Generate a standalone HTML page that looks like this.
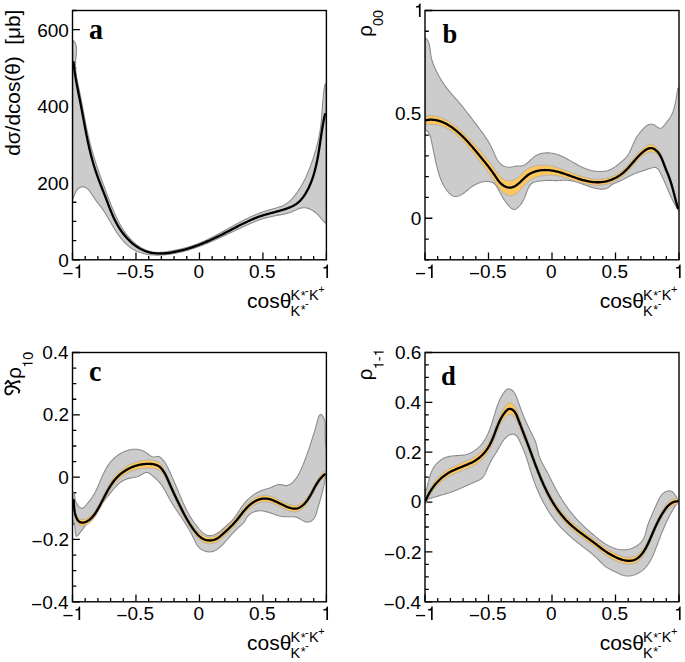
<!DOCTYPE html><html><head><meta charset="utf-8"><title>Spin density matrix elements</title><style>html,body{margin:0;padding:0;background:#fff;overflow:hidden}svg{display:block}text{font-family:"Liberation Sans", sans-serif;fill:#000}</style></head><body>
<svg width="685" height="662" viewBox="0 0 685 662">
<rect width="685" height="662" fill="#fff"/>
<path d="M72.50,259.8 V252.40 M85.19,259.8 V256.00 M97.89,259.8 V256.00 M110.59,259.8 V256.00 M123.28,259.8 V256.00 M135.97,259.8 V252.40 M148.67,259.8 V256.00 M161.37,259.8 V256.00 M174.06,259.8 V256.00 M186.75,259.8 V256.00 M199.45,259.8 V252.40 M212.15,259.8 V256.00 M224.84,259.8 V256.00 M237.53,259.8 V256.00 M250.23,259.8 V256.00 M262.92,259.8 V252.40 M275.62,259.8 V256.00 M288.31,259.8 V256.00 M301.01,259.8 V256.00 M313.70,259.8 V256.00 M326.40,259.8 V252.40 M72.5,259.80 H79.90 M72.5,240.62 H76.30 M72.5,221.45 H76.30 M72.5,202.27 H76.30 M72.5,183.09 H79.90 M72.5,163.92 H76.30 M72.5,144.74 H76.30 M72.5,125.56 H76.30 M72.5,106.38 H79.90 M72.5,87.21 H76.30 M72.5,68.03 H76.30 M72.5,48.85 H76.30 M72.5,29.68 H79.90 M72.5,10.50 H76.30" stroke="#000" stroke-width="1.3" fill="none"/>
<path d="M425.00,259.8 V252.40 M437.70,259.8 V256.00 M450.40,259.8 V256.00 M463.10,259.8 V256.00 M475.80,259.8 V256.00 M488.50,259.8 V252.40 M501.20,259.8 V256.00 M513.90,259.8 V256.00 M526.60,259.8 V256.00 M539.30,259.8 V256.00 M552.00,259.8 V252.40 M564.70,259.8 V256.00 M577.40,259.8 V256.00 M590.10,259.8 V256.00 M602.80,259.8 V256.00 M615.50,259.8 V252.40 M628.20,259.8 V256.00 M640.90,259.8 V256.00 M653.60,259.8 V256.00 M666.30,259.8 V256.00 M679.00,259.8 V252.40 M425.0,259.80 H428.80 M425.0,239.03 H428.80 M425.0,218.25 H432.40 M425.0,197.47 H428.80 M425.0,176.70 H428.80 M425.0,155.93 H428.80 M425.0,135.15 H428.80 M425.0,114.38 H432.40 M425.0,93.60 H428.80 M425.0,72.82 H428.80 M425.0,52.05 H428.80 M425.0,31.27 H428.80 M425.0,10.50 H432.40" stroke="#000" stroke-width="1.3" fill="none"/>
<path d="M72.50,601.8 V594.40 M85.19,601.8 V598.00 M97.89,601.8 V598.00 M110.59,601.8 V598.00 M123.28,601.8 V598.00 M135.97,601.8 V594.40 M148.67,601.8 V598.00 M161.37,601.8 V598.00 M174.06,601.8 V598.00 M186.75,601.8 V598.00 M199.45,601.8 V594.40 M212.15,601.8 V598.00 M224.84,601.8 V598.00 M237.53,601.8 V598.00 M250.23,601.8 V598.00 M262.92,601.8 V594.40 M275.62,601.8 V598.00 M288.31,601.8 V598.00 M301.01,601.8 V598.00 M313.70,601.8 V598.00 M326.40,601.8 V594.40 M72.5,601.80 H79.90 M72.5,586.22 H76.30 M72.5,570.64 H76.30 M72.5,555.06 H76.30 M72.5,539.47 H79.90 M72.5,523.89 H76.30 M72.5,508.31 H76.30 M72.5,492.73 H76.30 M72.5,477.15 H79.90 M72.5,461.57 H76.30 M72.5,445.99 H76.30 M72.5,430.41 H76.30 M72.5,414.82 H79.90 M72.5,399.24 H76.30 M72.5,383.66 H76.30 M72.5,368.08 H76.30 M72.5,352.50 H79.90" stroke="#000" stroke-width="1.3" fill="none"/>
<path d="M425.00,601.8 V594.40 M437.70,601.8 V598.00 M450.40,601.8 V598.00 M463.10,601.8 V598.00 M475.80,601.8 V598.00 M488.50,601.8 V594.40 M501.20,601.8 V598.00 M513.90,601.8 V598.00 M526.60,601.8 V598.00 M539.30,601.8 V598.00 M552.00,601.8 V594.40 M564.70,601.8 V598.00 M577.40,601.8 V598.00 M590.10,601.8 V598.00 M602.80,601.8 V598.00 M615.50,601.8 V594.40 M628.20,601.8 V598.00 M640.90,601.8 V598.00 M653.60,601.8 V598.00 M666.30,601.8 V598.00 M679.00,601.8 V594.40 M425.0,601.80 H432.40 M425.0,589.33 H428.80 M425.0,576.87 H428.80 M425.0,564.40 H428.80 M425.0,551.94 H432.40 M425.0,539.47 H428.80 M425.0,527.01 H428.80 M425.0,514.54 H428.80 M425.0,502.08 H432.40 M425.0,489.61 H428.80 M425.0,477.15 H428.80 M425.0,464.68 H428.80 M425.0,452.22 H432.40 M425.0,439.75 H428.80 M425.0,427.29 H428.80 M425.0,414.82 H428.80 M425.0,402.36 H432.40 M425.0,389.89 H428.80 M425.0,377.43 H428.80 M425.0,364.96 H428.80 M425.0,352.50 H432.40" stroke="#000" stroke-width="1.3" fill="none"/>
<clipPath id="cpa"><rect x="72.5" y="10.5" width="253.90" height="249.30"/></clipPath>
<g clip-path="url(#cpa)">
<path d="M72.80,40.27 L73.70,41.04 L74.45,41.89 L75.06,42.82 L75.55,43.83 L75.93,44.90 L76.21,46.03 L76.40,47.21 L76.51,48.44 L76.54,49.72 L76.52,51.03 L76.46,52.37 L76.35,53.73 L76.23,55.11 L76.08,56.51 L75.94,57.91 L75.80,59.31 L75.67,60.71 L75.58,62.10 L75.52,63.47 L75.50,64.82 L75.51,66.17 L75.55,67.49 L75.62,68.81 L75.71,70.12 L75.83,71.41 L75.98,72.70 L76.14,73.98 L76.33,75.24 L76.53,76.51 L76.74,77.76 L76.97,79.01 L77.21,80.26 L77.45,81.50 L77.71,82.74 L77.97,83.98 L78.23,85.21 L78.50,86.45 L78.76,87.68 L79.02,88.92 L79.28,90.16 L79.53,91.40 L79.78,92.64 L80.03,93.89 L80.28,95.13 L80.52,96.38 L80.76,97.63 L81.00,98.87 L81.24,100.12 L81.48,101.37 L81.72,102.63 L81.95,103.88 L82.19,105.13 L82.42,106.39 L82.65,107.64 L82.89,108.89 L83.12,110.15 L83.36,111.41 L83.59,112.66 L83.83,113.92 L84.06,115.18 L84.30,116.43 L84.54,117.69 L84.78,118.95 L85.02,120.20 L85.27,121.46 L85.51,122.71 L85.76,123.97 L86.01,125.23 L86.27,126.48 L86.53,127.73 L86.79,128.99 L87.05,130.24 L87.32,131.49 L87.59,132.74 L87.87,134.00 L88.15,135.24 L88.44,136.49 L88.73,137.74 L89.03,138.99 L89.33,140.23 L89.63,141.48 L89.95,142.72 L90.26,143.96 L90.59,145.20 L90.92,146.44 L91.25,147.67 L91.59,148.91 L91.94,150.14 L92.29,151.37 L92.64,152.60 L93.00,153.83 L93.36,155.06 L93.73,156.29 L94.11,157.51 L94.48,158.74 L94.87,159.96 L95.25,161.18 L95.64,162.40 L96.04,163.62 L96.43,164.84 L96.83,166.06 L97.24,167.27 L97.65,168.49 L98.06,169.70 L98.47,170.91 L98.89,172.12 L99.31,173.33 L99.73,174.54 L100.16,175.75 L100.59,176.95 L101.02,178.16 L101.45,179.36 L101.89,180.57 L102.33,181.77 L102.77,182.97 L103.21,184.17 L103.65,185.37 L104.10,186.56 L104.54,187.76 L104.99,188.96 L105.44,190.15 L105.89,191.34 L106.34,192.53 L106.79,193.73 L107.25,194.92 L107.70,196.11 L108.16,197.29 L108.61,198.48 L109.07,199.67 L109.52,200.85 L109.98,202.04 L110.44,203.22 L110.90,204.40 L111.37,205.58 L111.84,206.76 L112.31,207.94 L112.79,209.11 L113.28,210.29 L113.77,211.46 L114.27,212.63 L114.78,213.79 L115.30,214.95 L115.83,216.11 L116.37,217.27 L116.92,218.42 L117.48,219.57 L118.06,220.72 L118.65,221.86 L119.25,223.00 L119.87,224.14 L120.50,225.27 L121.15,226.39 L121.81,227.50 L122.49,228.60 L123.19,229.69 L123.90,230.78 L124.63,231.84 L125.38,232.90 L126.14,233.94 L126.93,234.96 L127.73,235.97 L128.55,236.96 L129.39,237.93 L130.25,238.88 L131.14,239.80 L132.04,240.71 L132.96,241.59 L133.90,242.45 L134.87,243.28 L135.86,244.08 L136.87,244.86 L137.90,245.60 L138.95,246.32 L140.03,247.00 L141.12,247.65 L142.24,248.27 L143.37,248.84 L144.52,249.38 L145.68,249.89 L146.86,250.35 L148.05,250.77 L149.25,251.14 L150.47,251.47 L151.70,251.76 L152.93,251.99 L154.18,252.18 L155.43,252.32 L156.69,252.41 L157.96,252.45 L159.23,252.45 L160.50,252.40 L161.78,252.33 L163.06,252.22 L164.35,252.08 L165.63,251.92 L166.92,251.73 L168.20,251.53 L169.48,251.31 L170.77,251.08 L172.05,250.84 L173.32,250.60 L174.59,250.35 L175.86,250.10 L177.13,249.83 L178.39,249.56 L179.65,249.29 L180.90,249.00 L182.15,248.70 L183.39,248.40 L184.63,248.08 L185.86,247.75 L187.09,247.41 L188.31,247.05 L189.53,246.68 L190.75,246.30 L191.95,245.91 L193.16,245.50 L194.35,245.07 L195.54,244.63 L196.73,244.19 L197.91,243.72 L199.09,243.25 L200.27,242.77 L201.44,242.27 L202.60,241.77 L203.76,241.25 L204.92,240.73 L206.08,240.19 L207.23,239.65 L208.38,239.10 L209.52,238.54 L210.67,237.98 L211.81,237.40 L212.95,236.83 L214.08,236.24 L215.22,235.65 L216.35,235.06 L217.48,234.46 L218.61,233.85 L219.73,233.25 L220.86,232.64 L221.99,232.02 L223.11,231.41 L224.23,230.79 L225.36,230.17 L226.48,229.55 L227.60,228.93 L228.73,228.31 L229.85,227.68 L230.97,227.06 L232.10,226.44 L233.22,225.83 L234.35,225.21 L235.47,224.60 L236.60,223.99 L237.73,223.38 L238.86,222.78 L240.00,222.18 L241.13,221.58 L242.27,220.99 L243.40,220.41 L244.55,219.83 L245.69,219.26 L246.84,218.70 L247.99,218.14 L249.14,217.59 L250.29,217.05 L251.45,216.51 L252.62,215.99 L253.78,215.48 L254.95,214.97 L256.13,214.48 L257.31,214.00 L258.49,213.52 L259.68,213.06 L260.87,212.62 L262.07,212.18 L263.27,211.76 L264.48,211.35 L265.69,210.95 L266.91,210.57 L268.14,210.21 L269.37,209.85 L270.60,209.51 L271.84,209.18 L273.08,208.84 L274.32,208.51 L275.55,208.16 L276.78,207.81 L278.01,207.44 L279.22,207.05 L280.43,206.63 L281.63,206.19 L282.80,205.70 L283.95,205.17 L285.07,204.57 L286.15,203.90 L287.19,203.18 L288.20,202.39 L289.17,201.56 L290.12,200.68 L291.04,199.77 L291.93,198.82 L292.80,197.86 L293.64,196.87 L294.46,195.88 L295.27,194.87 L296.05,193.85 L296.82,192.82 L297.56,191.77 L298.29,190.72 L299.00,189.66 L299.69,188.58 L300.37,187.50 L301.03,186.41 L301.67,185.31 L302.30,184.20 L302.91,183.08 L303.51,181.95 L304.09,180.82 L304.66,179.68 L305.22,178.53 L305.77,177.38 L306.30,176.22 L306.82,175.06 L307.34,173.89 L307.84,172.71 L308.33,171.53 L308.81,170.35 L309.28,169.16 L309.75,167.97 L310.20,166.77 L310.65,165.57 L311.10,164.37 L311.53,163.17 L311.96,161.96 L312.38,160.76 L312.80,159.55 L313.20,158.34 L313.60,157.12 L313.99,155.91 L314.38,154.69 L314.76,153.47 L315.12,152.24 L315.49,151.02 L315.84,149.79 L316.18,148.56 L316.52,147.33 L316.84,146.10 L317.16,144.86 L317.47,143.62 L317.77,142.38 L318.06,141.14 L318.34,139.89 L318.60,138.64 L318.86,137.39 L319.11,136.14 L319.35,134.88 L319.58,133.63 L319.80,132.37 L320.01,131.10 L320.21,129.84 L320.39,128.57 L320.57,127.31 L320.73,126.03 L320.88,124.76 L321.03,123.49 L321.16,122.21 L321.29,120.93 L321.41,119.65 L321.53,118.37 L321.64,117.09 L321.74,115.81 L321.84,114.53 L321.94,113.25 L322.03,111.97 L322.12,110.69 L322.21,109.41 L322.30,108.13 L322.39,106.85 L322.49,105.58 L322.58,104.30 L322.68,103.03 L322.78,101.76 L322.89,100.49 L323.00,99.22 L323.11,97.96 L323.24,96.70 L323.37,95.44 L323.51,94.19 L323.65,92.93 L323.81,91.69 L323.98,90.44 L324.16,89.21 L324.35,87.97 L324.55,86.74 L324.77,85.52 L325.02,84.31 L326.04,83.77 L326.31,224.04 L325.72,223.46 L325.15,222.89 L324.60,222.32 L324.07,221.74 L323.56,221.17 L323.06,220.59 L322.57,220.02 L322.08,219.44 L321.60,218.87 L321.12,218.30 L320.64,217.73 L320.15,217.16 L319.65,216.60 L319.14,216.04 L318.62,215.48 L318.08,214.93 L317.52,214.38 L316.94,213.84 L316.35,213.31 L315.73,212.78 L315.10,212.27 L314.45,211.78 L313.79,211.30 L313.11,210.84 L312.43,210.41 L311.73,209.99 L311.02,209.61 L310.31,209.25 L309.58,208.93 L308.86,208.63 L308.12,208.37 L307.38,208.15 L306.65,207.97 L305.90,207.83 L305.16,207.74 L304.42,207.69 L303.69,207.69 L302.95,207.74 L302.22,207.83 L301.49,207.96 L300.77,208.13 L300.04,208.34 L299.32,208.57 L298.60,208.83 L297.88,209.10 L297.15,209.40 L296.43,209.71 L295.71,210.03 L294.99,210.35 L294.27,210.68 L293.55,211.00 L292.83,211.31 L292.11,211.62 L291.38,211.91 L290.65,212.19 L289.92,212.45 L289.19,212.70 L288.46,212.93 L287.72,213.15 L286.99,213.36 L286.25,213.56 L285.51,213.74 L284.77,213.92 L284.02,214.09 L283.28,214.26 L282.53,214.41 L281.79,214.56 L281.04,214.71 L280.29,214.85 L279.53,214.99 L278.78,215.13 L278.02,215.27 L277.27,215.41 L276.51,215.54 L275.75,215.68 L274.99,215.82 L274.23,215.97 L273.47,216.12 L272.70,216.27 L271.94,216.43 L271.17,216.60 L270.41,216.76 L269.64,216.94 L268.88,217.12 L268.12,217.30 L267.36,217.49 L266.60,217.69 L265.84,217.89 L265.09,218.10 L264.33,218.31 L263.58,218.53 L262.84,218.76 L262.10,218.99 L261.36,219.23 L260.62,219.48 L259.89,219.73 L259.17,219.99 L258.44,220.26 L257.72,220.53 L257.01,220.80 L256.29,221.08 L255.58,221.36 L254.87,221.65 L254.16,221.94 L253.45,222.24 L252.75,222.54 L252.04,222.84 L251.34,223.14 L250.63,223.45 L249.93,223.76 L249.23,224.07 L248.53,224.38 L247.82,224.69 L247.12,225.01 L246.42,225.33 L245.72,225.64 L245.02,225.96 L244.32,226.28 L243.62,226.61 L242.91,226.93 L242.21,227.25 L241.51,227.58 L240.81,227.90 L240.11,228.23 L239.41,228.56 L238.71,228.89 L238.01,229.22 L237.31,229.54 L236.61,229.88 L235.90,230.21 L235.20,230.54 L234.50,230.87 L233.80,231.20 L233.10,231.53 L232.40,231.87 L231.70,232.20 L231.00,232.53 L230.29,232.86 L229.59,233.20 L228.89,233.53 L228.19,233.86 L227.48,234.19 L226.78,234.52 L226.08,234.86 L225.37,235.19 L224.67,235.52 L223.97,235.85 L223.26,236.18 L222.56,236.50 L221.85,236.83 L221.15,237.16 L220.44,237.48 L219.73,237.81 L219.03,238.13 L218.32,238.46 L217.61,238.78 L216.91,239.10 L216.20,239.42 L215.49,239.74 L214.78,240.05 L214.07,240.37 L213.36,240.68 L212.65,240.99 L211.94,241.30 L211.22,241.61 L210.51,241.92 L209.80,242.22 L209.08,242.53 L208.37,242.83 L207.65,243.13 L206.94,243.42 L206.22,243.72 L205.51,244.01 L204.79,244.30 L204.07,244.59 L203.35,244.87 L202.63,245.15 L201.91,245.43 L201.19,245.71 L200.47,245.99 L199.74,246.26 L199.02,246.53 L198.29,246.80 L197.57,247.06 L196.84,247.32 L196.11,247.58 L195.39,247.83 L194.66,248.08 L193.93,248.33 L193.20,248.57 L192.47,248.81 L191.73,249.05 L191.00,249.29 L190.26,249.52 L189.53,249.74 L188.79,249.97 L188.05,250.19 L187.31,250.40 L186.57,250.61 L185.83,250.82 L185.09,251.02 L184.35,251.22 L183.60,251.42 L182.86,251.61 L182.11,251.80 L181.36,251.98 L180.62,252.16 L179.87,252.33 L179.11,252.50 L178.36,252.67 L177.61,252.83 L176.85,252.98 L176.10,253.13 L175.34,253.28 L174.58,253.42 L173.82,253.55 L173.06,253.68 L172.30,253.81 L171.53,253.93 L170.77,254.04 L170.00,254.15 L169.23,254.26 L168.46,254.36 L167.69,254.45 L166.92,254.54 L166.14,254.62 L165.37,254.69 L164.59,254.76 L163.81,254.83 L163.03,254.89 L162.25,254.94 L161.47,254.98 L160.69,255.02 L159.91,255.05 L159.13,255.07 L158.35,255.09 L157.57,255.10 L156.79,255.09 L156.01,255.09 L155.24,255.07 L154.46,255.04 L153.68,255.00 L152.91,254.96 L152.14,254.90 L151.37,254.84 L150.60,254.77 L149.84,254.68 L149.07,254.59 L148.31,254.48 L147.56,254.36 L146.80,254.24 L146.05,254.10 L145.30,253.95 L144.56,253.79 L143.82,253.61 L143.08,253.43 L142.35,253.23 L141.62,253.02 L140.90,252.79 L140.18,252.56 L139.47,252.31 L138.76,252.04 L138.06,251.76 L137.36,251.47 L136.67,251.17 L135.99,250.85 L135.31,250.51 L134.63,250.16 L133.97,249.80 L133.31,249.42 L132.65,249.02 L132.01,248.61 L131.37,248.18 L130.74,247.74 L130.12,247.28 L129.50,246.81 L128.89,246.33 L128.29,245.83 L127.69,245.32 L127.10,244.80 L126.52,244.27 L125.95,243.72 L125.39,243.17 L124.83,242.61 L124.28,242.03 L123.73,241.45 L123.20,240.86 L122.67,240.27 L122.15,239.66 L121.64,239.05 L121.13,238.44 L120.63,237.81 L120.14,237.19 L119.66,236.56 L119.19,235.92 L118.72,235.28 L118.26,234.64 L117.81,234.00 L117.37,233.36 L116.93,232.71 L116.50,232.06 L116.08,231.41 L115.66,230.76 L115.24,230.10 L114.83,229.45 L114.43,228.79 L114.03,228.13 L113.63,227.47 L113.24,226.81 L112.85,226.15 L112.47,225.49 L112.08,224.83 L111.70,224.16 L111.32,223.50 L110.94,222.84 L110.56,222.18 L110.18,221.51 L109.80,220.85 L109.42,220.19 L109.04,219.53 L108.66,218.87 L108.28,218.21 L107.89,217.55 L107.50,216.90 L107.11,216.24 L106.72,215.59 L106.33,214.94 L105.93,214.29 L105.52,213.64 L105.11,212.99 L104.70,212.35 L104.28,211.70 L103.86,211.06 L103.42,210.43 L102.99,209.79 L102.54,209.16 L102.09,208.53 L101.63,207.91 L101.17,207.28 L100.70,206.66 L100.23,206.04 L99.76,205.42 L99.28,204.80 L98.80,204.18 L98.33,203.57 L97.85,202.95 L97.38,202.33 L96.91,201.71 L96.44,201.08 L95.98,200.46 L95.53,199.83 L95.08,199.20 L94.64,198.57 L94.21,197.93 L93.79,197.29 L93.37,196.64 L92.96,196.00 L92.55,195.35 L92.14,194.70 L91.73,194.06 L91.30,193.42 L90.86,192.78 L90.41,192.14 L89.95,191.51 L89.46,190.89 L88.95,190.27 L88.41,189.68 L87.86,189.12 L87.28,188.60 L86.68,188.13 L86.06,187.72 L85.41,187.38 L84.74,187.12 L84.06,186.94 L83.37,186.84 L82.67,186.81 L81.97,186.87 L81.28,187.00 L80.60,187.20 L79.95,187.47 L79.31,187.82 L78.71,188.24 L78.14,188.73 L77.61,189.27 L77.11,189.88 L76.64,190.53 L76.21,191.23 L75.80,191.96 L75.42,192.71 L75.07,193.48 L74.74,194.26 L74.42,195.04 L74.13,195.82 L73.86,196.58 L73.60,197.32 L73.35,198.03 L73.12,198.71 L72.89,199.35 L72.67,199.93 Z" fill="#cccccc" stroke="#8c8c8c" stroke-width="1.1" stroke-linejoin="round"/>
<path d="M314.18,168.10 L314.22,167.96 L314.27,167.81 L314.32,167.67 L314.36,167.53 L314.41,167.38 L314.45,167.24 L314.50,167.10 L314.54,166.95 L314.59,166.81 L314.63,166.67 L314.68,166.52 L314.72,166.38 L314.76,166.24 L314.81,166.09 L314.85,165.95 L314.89,165.81 L314.94,165.66 L314.98,165.52 L315.02,165.38 L315.06,165.23 L315.11,165.09 L315.15,164.94 L315.19,164.80 L315.23,164.66 L315.27,164.51 L315.31,164.37 L315.35,164.22 L315.39,164.08 L315.43,163.94 L315.47,163.79 L315.51,163.65 L315.55,163.50 L315.59,163.36 L315.63,163.21 L315.67,163.07 L315.71,162.93 L315.75,162.78 L315.79,162.64 L315.82,162.49 L315.86,162.35 L315.90,162.20 L315.94,162.06 L315.97,161.91 L316.01,161.77 L316.05,161.62 L316.08,161.48 L316.12,161.33 L316.16,161.19 L316.19,161.05 L316.23,160.90 L316.26,160.76 L316.30,160.61 L316.33,160.47 L316.37,160.32 L316.40,160.17 L316.44,160.03 L316.47,159.88 L316.51,159.74 L316.54,159.59 L316.58,159.45 L316.61,159.30 L316.64,159.16 L316.68,159.01 L316.71,158.87 L316.74,158.72 L316.78,158.58 L316.81,158.43 L316.84,158.28 L316.87,158.14 L316.91,157.99 L316.94,157.85 L316.97,157.70 L317.00,157.56 L317.03,157.41 L317.06,157.26 L317.10,157.12 L317.13,156.97 L317.16,156.83 L317.19,156.68 L317.22,156.53 L317.25,156.39 L317.28,156.24 L317.31,156.10 L317.34,155.95 L317.37,155.80 L317.40,155.66 L317.43,155.51 L317.46,155.37 L317.49,155.22 L317.52,155.07 L317.54,154.93 L317.57,154.78 L317.60,154.63 L317.63,154.49 L317.66,154.34 L317.69,154.19 L317.71,154.05 L317.74,153.90 L317.77,153.76 L317.80,153.61 L317.83,153.46 L317.85,153.32 L317.88,153.17 L317.91,153.02 L317.93,152.88 L317.96,152.73 L317.99,152.58 L318.01,152.44 L318.04,152.29 L318.07,152.14 L318.09,151.99 L318.12,151.85 L318.14,151.70 L318.17,151.55 L318.20,151.41 L318.22,151.26 L318.25,151.11 L318.27,150.97 L318.30,150.82 L318.32,150.67 L318.35,150.52 L318.37,150.38 L318.40,150.23 L318.42,150.08 L318.45,149.94 L318.47,149.79 L318.49,149.64 L318.52,149.49 L318.54,149.35 L318.57,149.20 L318.59,149.05 L318.61,148.91 L318.64,148.76 L318.66,148.61 L318.69,148.46 L318.71,148.32 L318.73,148.17 L318.76,148.02 L318.78,147.87 L318.80,147.73 L318.82,147.58 L318.85,147.43 L318.87,147.28 L318.89,147.14 L318.92,146.99 L318.94,146.84 L318.96,146.69 L318.98,146.55 L319.01,146.40 L319.03,146.25 L319.05,146.10 L319.07,145.96 L319.09,145.81 L319.12,145.66 L319.14,145.51 L319.16,145.37 L319.18,145.22 L319.20,145.07 L319.22,144.92 L319.25,144.77 L319.27,144.63 L319.29,144.48 L319.31,144.33 L319.33,144.18 L319.35,144.04 L319.37,143.89 L319.39,143.74 L319.41,143.59 L319.44,143.44 L319.46,143.30 L319.48,143.15 L319.50,143.00 L319.52,142.85 L319.54,142.70 L319.56,142.56 L319.58,142.41 L319.60,142.26 L319.62,142.11 L319.64,141.96 L319.66,141.82 L319.68,141.67 L319.70,141.52 L319.72,141.37 L319.74,141.22 L319.76,141.08 L319.78,140.93 L319.80,140.78 L319.82,140.63 L319.84,140.48 L319.86,140.34 L319.88,140.19 L319.90,140.04 L319.92,139.89 L319.94,139.74 L319.96,139.60 L319.98,139.45 L320.00,139.30 L320.02,139.15 L320.04,139.00 L320.06,138.86 L320.08,138.71 L320.10,138.56 L320.12,138.41 L320.14,138.26 L320.16,138.12 L320.18,137.97 L320.20,137.82 L320.22,137.67 L320.24,137.52 L320.26,137.37 L320.28,137.23 L320.30,137.08 L320.32,136.93 L320.33,136.78 L320.35,136.63 L320.37,136.49 L320.39,136.34 L320.41,136.19 L320.43,136.04 L320.45,135.89 L320.47,135.75 L320.49,135.60 L320.51,135.45 L320.53,135.30 L320.55,135.15 L320.57,135.00 L320.59,134.86 L320.61,134.71 L320.63,134.56 L320.65,134.41 L320.67,134.26 L320.69,134.12 L320.71,133.97 L320.73,133.82 L320.75,133.67 L320.76,133.52 L320.78,133.38 L320.80,133.23 L320.82,133.08 L320.84,132.93 L320.86,132.78 L320.88,132.63 L320.90,132.49 L320.92,132.34 L320.94,132.19 L320.96,132.04 L320.98,131.89 L321.00,131.75 L321.02,131.60 L321.04,131.45 L321.06,131.30 L321.08,131.15 L321.10,131.01 L321.12,130.86 L321.14,130.71 L321.16,130.56 L321.18,130.41 L321.20,130.27 L321.22,130.12 L321.25,129.97 L321.27,129.82 L321.29,129.67 L321.31,129.53 L321.33,129.38 L321.35,129.23 L321.37,129.08 L321.39,128.94 L321.41,128.79 L321.43,128.64 L321.45,128.49 L321.47,128.34 L321.49,128.20 L321.52,128.05 L321.54,127.90 L321.56,127.75 L321.58,127.60 L321.60,127.46 L321.62,127.31 L321.64,127.16 L321.67,127.01 L321.69,126.87 L321.71,126.72 L321.73,126.57 L321.75,126.42 L321.78,126.28 L321.80,126.13 L321.82,125.98 L321.84,125.83 L321.86,125.69 L321.89,125.54 L321.91,125.39 L321.93,125.24 L321.95,125.09 L321.98,124.95 L322.00,124.80 L322.02,124.65 L322.05,124.51 L322.07,124.36 L322.09,124.21 L322.12,124.06 L322.14,123.92 L322.16,123.77 L322.19,123.62 L322.21,123.47 L322.23,123.33 L322.26,123.18 L322.28,123.03 L322.31,122.88 L322.33,122.74 L322.35,122.59 L322.38,122.44 L322.40,122.30 L322.43,122.15 L322.45,122.00 L322.48,121.85 L322.50,121.71 L322.53,121.56 L322.55,121.41 L322.58,121.27 L322.60,121.12 L322.63,120.97 L322.65,120.83 L322.68,120.68 L322.71,120.53 L322.73,120.38 L322.76,120.24 L322.78,120.09 L322.81,119.94 L322.84,119.80 L322.86,119.65 L322.89,119.50 L322.92,119.36 L322.94,119.21 L322.97,119.06 L323.00,118.92 L323.03,118.77 L323.05,118.62 L323.08,118.48 L323.11,118.33 L323.14,118.18 L323.16,118.04 L323.19,117.89 L323.22,117.74 L323.25,117.60 L323.28,117.45 L323.31,117.31 L323.34,117.16 L323.36,117.01 L323.39,116.87 L323.42,116.72 L323.45,116.57 L323.48,116.43 L323.51,116.28 L323.54,116.14 L323.57,115.99 L323.60,115.84 L323.63,115.70 L323.66,115.55 L323.69,115.41 L323.73,115.26 L323.76,115.11 L323.79,114.97 L323.82,114.82 L323.85,114.68 L323.88,114.53 L323.91,114.39 L323.95,114.24 L323.98,114.09 L324.01,113.95 L324.04,113.80 L324.08,113.66 L324.11,113.51 L324.14,113.37 L324.18,113.22 L324.21,113.08 L324.24,112.93 L324.28,112.78 L324.31,112.64 L324.35,112.49 L324.38,112.35 L324.42,112.20 L324.45,112.06 L324.49,111.91 L324.52,111.77 L324.56,111.62 L324.59,111.48 L324.63,111.33 L324.66,111.19 L324.70,111.04 L324.74,110.90 L324.77,110.75 L324.81,110.61 L324.85,110.46 L324.88,110.32 L324.92,110.17 L324.96,110.03 L325.00,109.89 L325.03,109.74 L325.07,109.60 L325.07,118.60 L325.03,118.74 L325.00,118.89 L324.96,119.03 L324.92,119.17 L324.88,119.32 L324.85,119.46 L324.81,119.61 L324.77,119.75 L324.74,119.90 L324.70,120.04 L324.66,120.19 L324.63,120.33 L324.59,120.48 L324.56,120.62 L324.52,120.77 L324.49,120.91 L324.45,121.06 L324.42,121.20 L324.38,121.35 L324.35,121.49 L324.31,121.64 L324.28,121.78 L324.24,121.93 L324.21,122.08 L324.18,122.22 L324.14,122.37 L324.11,122.51 L324.08,122.66 L324.04,122.80 L324.01,122.95 L323.98,123.09 L323.95,123.24 L323.91,123.39 L323.88,123.53 L323.85,123.68 L323.82,123.82 L323.79,123.97 L323.76,124.11 L323.73,124.26 L323.69,124.41 L323.66,124.55 L323.63,124.70 L323.60,124.84 L323.57,124.99 L323.54,125.14 L323.51,125.28 L323.48,125.43 L323.45,125.57 L323.42,125.72 L323.39,125.87 L323.36,126.01 L323.34,126.16 L323.31,126.31 L323.28,126.45 L323.25,126.60 L323.22,126.74 L323.19,126.89 L323.16,127.04 L323.14,127.18 L323.11,127.33 L323.08,127.48 L323.05,127.62 L323.03,127.77 L323.00,127.92 L322.97,128.06 L322.94,128.21 L322.92,128.36 L322.89,128.50 L322.86,128.65 L322.84,128.80 L322.81,128.94 L322.78,129.09 L322.76,129.24 L322.73,129.38 L322.71,129.53 L322.68,129.68 L322.65,129.83 L322.63,129.97 L322.60,130.12 L322.58,130.27 L322.55,130.41 L322.53,130.56 L322.50,130.71 L322.48,130.85 L322.45,131.00 L322.43,131.15 L322.40,131.30 L322.38,131.44 L322.35,131.59 L322.33,131.74 L322.31,131.88 L322.28,132.03 L322.26,132.18 L322.23,132.33 L322.21,132.47 L322.19,132.62 L322.16,132.77 L322.14,132.92 L322.12,133.06 L322.09,133.21 L322.07,133.36 L322.05,133.51 L322.02,133.65 L322.00,133.80 L321.98,133.95 L321.95,134.09 L321.93,134.24 L321.91,134.39 L321.89,134.54 L321.86,134.69 L321.84,134.83 L321.82,134.98 L321.80,135.13 L321.78,135.28 L321.75,135.42 L321.73,135.57 L321.71,135.72 L321.69,135.87 L321.67,136.01 L321.64,136.16 L321.62,136.31 L321.60,136.46 L321.58,136.60 L321.56,136.75 L321.54,136.90 L321.52,137.05 L321.49,137.20 L321.47,137.34 L321.45,137.49 L321.43,137.64 L321.41,137.79 L321.39,137.94 L321.37,138.08 L321.35,138.23 L321.33,138.38 L321.31,138.53 L321.29,138.67 L321.27,138.82 L321.25,138.97 L321.22,139.12 L321.20,139.27 L321.18,139.41 L321.16,139.56 L321.14,139.71 L321.12,139.86 L321.10,140.01 L321.08,140.15 L321.06,140.30 L321.04,140.45 L321.02,140.60 L321.00,140.75 L320.98,140.89 L320.96,141.04 L320.94,141.19 L320.92,141.34 L320.90,141.49 L320.88,141.63 L320.86,141.78 L320.84,141.93 L320.82,142.08 L320.80,142.23 L320.78,142.38 L320.76,142.52 L320.75,142.67 L320.73,142.82 L320.71,142.97 L320.69,143.12 L320.67,143.26 L320.65,143.41 L320.63,143.56 L320.61,143.71 L320.59,143.86 L320.57,144.00 L320.55,144.15 L320.53,144.30 L320.51,144.45 L320.49,144.60 L320.47,144.75 L320.45,144.89 L320.43,145.04 L320.41,145.19 L320.39,145.34 L320.37,145.49 L320.35,145.63 L320.33,145.78 L320.32,145.93 L320.30,146.08 L320.28,146.23 L320.26,146.37 L320.24,146.52 L320.22,146.67 L320.20,146.82 L320.18,146.97 L320.16,147.12 L320.14,147.26 L320.12,147.41 L320.10,147.56 L320.08,147.71 L320.06,147.86 L320.04,148.00 L320.02,148.15 L320.00,148.30 L319.98,148.45 L319.96,148.60 L319.94,148.74 L319.92,148.89 L319.90,149.04 L319.88,149.19 L319.86,149.34 L319.84,149.48 L319.82,149.63 L319.80,149.78 L319.78,149.93 L319.76,150.08 L319.74,150.22 L319.72,150.37 L319.70,150.52 L319.68,150.67 L319.66,150.82 L319.64,150.96 L319.62,151.11 L319.60,151.26 L319.58,151.41 L319.56,151.56 L319.54,151.70 L319.52,151.85 L319.50,152.00 L319.48,152.15 L319.46,152.30 L319.44,152.44 L319.41,152.59 L319.39,152.74 L319.37,152.89 L319.35,153.04 L319.33,153.18 L319.31,153.33 L319.29,153.48 L319.27,153.63 L319.25,153.77 L319.22,153.92 L319.20,154.07 L319.18,154.22 L319.16,154.37 L319.14,154.51 L319.12,154.66 L319.09,154.81 L319.07,154.96 L319.05,155.10 L319.03,155.25 L319.01,155.40 L318.98,155.55 L318.96,155.69 L318.94,155.84 L318.92,155.99 L318.89,156.14 L318.87,156.28 L318.85,156.43 L318.82,156.58 L318.80,156.73 L318.78,156.87 L318.76,157.02 L318.73,157.17 L318.71,157.32 L318.69,157.46 L318.66,157.61 L318.64,157.76 L318.61,157.91 L318.59,158.05 L318.57,158.20 L318.54,158.35 L318.52,158.49 L318.49,158.64 L318.47,158.79 L318.45,158.94 L318.42,159.08 L318.40,159.23 L318.37,159.38 L318.35,159.52 L318.32,159.67 L318.30,159.82 L318.27,159.97 L318.25,160.11 L318.22,160.26 L318.20,160.41 L318.17,160.55 L318.14,160.70 L318.12,160.85 L318.09,160.99 L318.07,161.14 L318.04,161.29 L318.01,161.44 L317.99,161.58 L317.96,161.73 L317.93,161.88 L317.91,162.02 L317.88,162.17 L317.85,162.32 L317.83,162.46 L317.80,162.61 L317.77,162.76 L317.74,162.90 L317.71,163.05 L317.69,163.19 L317.66,163.34 L317.63,163.49 L317.60,163.63 L317.57,163.78 L317.54,163.93 L317.52,164.07 L317.49,164.22 L317.46,164.37 L317.43,164.51 L317.40,164.66 L317.37,164.80 L317.34,164.95 L317.31,165.10 L317.28,165.24 L317.25,165.39 L317.22,165.53 L317.19,165.68 L317.16,165.83 L317.13,165.97 L317.10,166.12 L317.06,166.26 L317.03,166.41 L317.00,166.56 L316.97,166.70 L316.94,166.85 L316.91,166.99 L316.87,167.14 L316.84,167.28 L316.81,167.43 L316.78,167.58 L316.74,167.72 L316.71,167.87 L316.68,168.01 L316.64,168.16 L316.61,168.30 L316.58,168.45 L316.54,168.59 L316.51,168.74 L316.47,168.88 L316.44,169.03 L316.40,169.17 L316.37,169.32 L316.33,169.47 L316.30,169.61 L316.26,169.76 L316.23,169.90 L316.19,170.05 L316.16,170.19 L316.12,170.33 L316.08,170.48 L316.05,170.62 L316.01,170.77 L315.97,170.91 L315.94,171.06 L315.90,171.20 L315.86,171.35 L315.82,171.49 L315.79,171.64 L315.75,171.78 L315.71,171.93 L315.67,172.07 L315.63,172.21 L315.59,172.36 L315.55,172.50 L315.51,172.65 L315.47,172.79 L315.43,172.94 L315.39,173.08 L315.35,173.22 L315.31,173.37 L315.27,173.51 L315.23,173.66 L315.19,173.80 L315.15,173.94 L315.11,174.09 L315.06,174.23 L315.02,174.38 L314.98,174.52 L314.94,174.66 L314.89,174.81 L314.85,174.95 L314.81,175.09 L314.76,175.24 L314.72,175.38 L314.68,175.52 L314.63,175.67 L314.59,175.81 L314.54,175.95 L314.50,176.10 L314.45,176.24 L314.41,176.38 L314.36,176.53 L314.32,176.67 L314.27,176.81 L314.22,176.96 L314.18,177.10 Z" fill="#fdc760" stroke="none"/>
<path d="M73.58,62.21 L73.68,63.37 L73.79,64.53 L73.91,65.69 L74.04,66.84 L74.17,68.00 L74.32,69.16 L74.47,70.31 L74.63,71.47 L74.79,72.62 L74.96,73.77 L75.14,74.93 L75.32,76.08 L75.50,77.23 L75.70,78.38 L75.89,79.53 L76.09,80.68 L76.30,81.83 L76.51,82.98 L76.72,84.13 L76.94,85.28 L77.16,86.43 L77.38,87.57 L77.60,88.72 L77.83,89.87 L78.05,91.02 L78.28,92.17 L78.51,93.31 L78.74,94.46 L78.97,95.61 L79.20,96.75 L79.43,97.90 L79.66,99.05 L79.88,100.19 L80.11,101.34 L80.34,102.49 L80.56,103.63 L80.78,104.78 L81.00,105.93 L81.22,107.08 L81.44,108.22 L81.65,109.37 L81.87,110.52 L82.08,111.66 L82.30,112.81 L82.51,113.96 L82.72,115.11 L82.93,116.25 L83.14,117.40 L83.35,118.55 L83.57,119.69 L83.78,120.84 L83.99,121.98 L84.20,123.13 L84.42,124.27 L84.63,125.42 L84.85,126.56 L85.06,127.71 L85.28,128.85 L85.50,129.99 L85.72,131.14 L85.94,132.28 L86.17,133.42 L86.39,134.56 L86.62,135.70 L86.85,136.85 L87.08,137.99 L87.32,139.12 L87.56,140.26 L87.80,141.40 L88.04,142.54 L88.29,143.68 L88.54,144.81 L88.79,145.95 L89.05,147.08 L89.31,148.22 L89.58,149.35 L89.85,150.48 L90.12,151.61 L90.40,152.75 L90.68,153.88 L90.97,155.00 L91.26,156.13 L91.56,157.26 L91.86,158.39 L92.16,159.51 L92.48,160.64 L92.79,161.76 L93.12,162.88 L93.45,164.00 L93.78,165.12 L94.12,166.24 L94.47,167.36 L94.82,168.48 L95.18,169.59 L95.55,170.71 L95.92,171.82 L96.30,172.93 L96.69,174.04 L97.08,175.15 L97.47,176.26 L97.87,177.37 L98.28,178.48 L98.68,179.58 L99.10,180.68 L99.51,181.79 L99.93,182.89 L100.35,183.99 L100.77,185.09 L101.19,186.18 L101.62,187.28 L102.05,188.37 L102.47,189.47 L102.90,190.56 L103.33,191.65 L103.75,192.74 L104.18,193.83 L104.60,194.92 L105.03,196.00 L105.45,197.09 L105.87,198.17 L106.28,199.25 L106.69,200.34 L107.11,201.41 L107.51,202.49 L107.92,203.57 L108.33,204.64 L108.74,205.72 L109.15,206.79 L109.57,207.86 L109.99,208.92 L110.41,209.99 L110.84,211.05 L111.27,212.11 L111.71,213.16 L112.16,214.21 L112.61,215.26 L113.08,216.31 L113.55,217.36 L114.04,218.40 L114.53,219.43 L115.04,220.47 L115.56,221.50 L116.10,222.52 L116.65,223.54 L117.22,224.56 L117.80,225.58 L118.40,226.59 L119.02,227.59 L119.66,228.59 L120.31,229.58 L120.99,230.57 L121.68,231.55 L122.38,232.52 L123.11,233.48 L123.85,234.42 L124.60,235.36 L125.37,236.28 L126.16,237.19 L126.97,238.09 L127.79,238.96 L128.62,239.82 L129.47,240.67 L130.33,241.49 L131.21,242.30 L132.11,243.08 L133.01,243.84 L133.93,244.58 L134.87,245.29 L135.81,245.98 L136.77,246.65 L137.75,247.29 L138.73,247.90 L139.73,248.48 L140.74,249.03 L141.76,249.55 L142.79,250.04 L143.84,250.50 L144.89,250.92 L145.96,251.31 L147.03,251.66 L148.12,251.98 L149.22,252.27 L150.32,252.52 L151.43,252.75 L152.55,252.94 L153.68,253.10 L154.82,253.23 L155.96,253.33 L157.11,253.41 L158.26,253.46 L159.41,253.49 L160.57,253.49 L161.74,253.47 L162.91,253.43 L164.08,253.36 L165.25,253.27 L166.42,253.17 L167.59,253.04 L168.77,252.90 L169.94,252.74 L171.11,252.56 L172.28,252.37 L173.45,252.17 L174.62,251.95 L175.78,251.72 L176.94,251.48 L178.10,251.22 L179.25,250.96 L180.40,250.69 L181.54,250.41 L182.68,250.11 L183.81,249.81 L184.95,249.50 L186.07,249.18 L187.20,248.85 L188.32,248.52 L189.43,248.17 L190.55,247.82 L191.65,247.46 L192.76,247.09 L193.86,246.71 L194.96,246.32 L196.06,245.93 L197.15,245.53 L198.24,245.12 L199.33,244.71 L200.41,244.29 L201.49,243.86 L202.57,243.42 L203.65,242.98 L204.72,242.54 L205.79,242.08 L206.86,241.63 L207.93,241.16 L208.99,240.69 L210.05,240.22 L211.11,239.74 L212.17,239.25 L213.23,238.76 L214.28,238.27 L215.33,237.77 L216.38,237.27 L217.43,236.76 L218.48,236.25 L219.53,235.73 L220.57,235.22 L221.61,234.69 L222.66,234.17 L223.70,233.64 L224.74,233.11 L225.78,232.58 L226.81,232.04 L227.85,231.50 L228.89,230.96 L229.92,230.42 L230.96,229.87 L231.99,229.33 L233.03,228.79 L234.07,228.24 L235.10,227.70 L236.14,227.16 L237.18,226.62 L238.22,226.08 L239.26,225.55 L240.30,225.02 L241.34,224.49 L242.38,223.97 L243.43,223.45 L244.48,222.94 L245.53,222.43 L246.58,221.93 L247.64,221.43 L248.69,220.94 L249.75,220.46 L250.82,219.99 L251.88,219.52 L252.95,219.07 L254.03,218.62 L255.10,218.18 L256.18,217.76 L257.27,217.34 L258.36,216.93 L259.45,216.54 L260.55,216.16 L261.65,215.79 L262.76,215.43 L263.87,215.09 L264.99,214.75 L266.11,214.42 L267.23,214.11 L268.36,213.79 L269.49,213.49 L270.62,213.19 L271.75,212.89 L272.89,212.59 L274.02,212.29 L275.15,211.99 L276.29,211.69 L277.42,211.39 L278.55,211.08 L279.69,210.76 L280.82,210.44 L281.94,210.11 L283.07,209.77 L284.19,209.41 L285.31,209.05 L286.42,208.67 L287.53,208.28 L288.63,207.87 L289.72,207.43 L290.79,206.97 L291.85,206.49 L292.89,205.98 L293.90,205.44 L294.90,204.86 L295.87,204.25 L296.81,203.60 L297.72,202.91 L298.59,202.17 L299.44,201.40 L300.25,200.58 L301.03,199.73 L301.78,198.84 L302.50,197.93 L303.20,197.00 L303.88,196.04 L304.53,195.07 L305.17,194.09 L305.78,193.10 L306.38,192.09 L306.96,191.07 L307.51,190.04 L308.05,189.01 L308.58,187.96 L309.08,186.90 L309.57,185.83 L310.04,184.76 L310.50,183.67 L310.94,182.58 L311.37,181.49 L311.78,180.38 L312.18,179.28 L312.57,178.16 L312.94,177.05 L313.30,175.93 L313.65,174.80 L313.99,173.68 L314.31,172.55 L314.63,171.42 L314.93,170.29 L315.22,169.16 L315.51,168.02 L315.79,166.89 L316.05,165.75 L316.31,164.61 L316.56,163.48 L316.80,162.34 L317.04,161.19 L317.27,160.05 L317.49,158.91 L317.71,157.77 L317.91,156.62 L318.12,155.48 L318.32,154.33 L318.51,153.18 L318.70,152.04 L318.89,150.89 L319.07,149.74 L319.25,148.59 L319.43,147.44 L319.60,146.29 L319.78,145.14 L319.95,143.99 L320.12,142.83 L320.28,141.68 L320.45,140.53 L320.62,139.38 L320.79,138.23 L320.95,137.07 L321.12,135.92 L321.29,134.77 L321.47,133.61 L321.64,132.46 L321.82,131.31 L322.00,130.16 L322.18,129.01 L322.36,127.85 L322.55,126.70 L322.75,125.55 L322.95,124.40 L323.15,123.25 L323.36,122.10 L323.58,120.95 L323.80,119.80 L324.03,118.65 L324.26,117.51 L324.50,116.36 L324.75,115.21 L325.01,114.07" fill="none" stroke="#000" stroke-width="2.3" stroke-linejoin="round" stroke-linecap="round"/>
</g>
<clipPath id="cpb"><rect x="425.0" y="10.5" width="254.00" height="249.30"/></clipPath>
<g clip-path="url(#cpb)">
<path d="M425.05,37.58 L425.78,38.18 L426.44,38.84 L427.02,39.55 L427.53,40.31 L427.99,41.10 L428.38,41.94 L428.73,42.81 L429.03,43.72 L429.28,44.65 L429.51,45.60 L429.70,46.58 L429.87,47.58 L430.01,48.59 L430.15,49.61 L430.28,50.63 L430.40,51.66 L430.52,52.69 L430.66,53.72 L430.80,54.74 L430.97,55.75 L431.15,56.75 L431.36,57.73 L431.59,58.70 L431.84,59.66 L432.11,60.60 L432.40,61.54 L432.71,62.46 L433.03,63.38 L433.37,64.29 L433.72,65.19 L434.09,66.09 L434.46,66.97 L434.85,67.86 L435.25,68.74 L435.66,69.61 L436.08,70.48 L436.50,71.35 L436.93,72.22 L437.37,73.08 L437.81,73.94 L438.26,74.80 L438.72,75.65 L439.19,76.50 L439.66,77.35 L440.14,78.19 L440.63,79.03 L441.13,79.86 L441.64,80.69 L442.15,81.51 L442.68,82.33 L443.21,83.14 L443.74,83.95 L444.29,84.75 L444.85,85.54 L445.41,86.33 L445.99,87.11 L446.57,87.88 L447.16,88.64 L447.76,89.40 L448.37,90.15 L448.99,90.90 L449.61,91.64 L450.24,92.38 L450.87,93.11 L451.51,93.84 L452.15,94.57 L452.79,95.30 L453.43,96.02 L454.08,96.75 L454.72,97.47 L455.36,98.20 L456.01,98.93 L456.65,99.67 L457.28,100.40 L457.92,101.14 L458.55,101.88 L459.18,102.63 L459.80,103.38 L460.43,104.13 L461.05,104.88 L461.67,105.63 L462.28,106.39 L462.90,107.15 L463.51,107.91 L464.12,108.67 L464.73,109.44 L465.33,110.20 L465.94,110.97 L466.54,111.74 L467.14,112.51 L467.74,113.28 L468.34,114.05 L468.93,114.82 L469.53,115.60 L470.12,116.37 L470.71,117.15 L471.30,117.92 L471.89,118.70 L472.48,119.47 L473.07,120.25 L473.66,121.02 L474.24,121.80 L474.83,122.57 L475.41,123.34 L476.00,124.12 L476.58,124.89 L477.16,125.66 L477.74,126.43 L478.32,127.20 L478.90,127.97 L479.48,128.74 L480.06,129.51 L480.63,130.29 L481.20,131.06 L481.77,131.84 L482.33,132.62 L482.89,133.40 L483.45,134.18 L484.00,134.97 L484.54,135.76 L485.09,136.56 L485.62,137.36 L486.15,138.16 L486.68,138.97 L487.19,139.79 L487.70,140.61 L488.21,141.44 L488.70,142.27 L489.19,143.11 L489.67,143.96 L490.15,144.82 L490.61,145.69 L491.06,146.56 L491.51,147.44 L491.94,148.33 L492.37,149.24 L492.78,150.15 L493.19,151.07 L493.59,151.99 L493.99,152.91 L494.39,153.84 L494.79,154.76 L495.20,155.67 L495.62,156.57 L496.06,157.45 L496.51,158.32 L496.97,159.16 L497.46,159.98 L497.98,160.78 L498.52,161.54 L499.10,162.27 L499.71,162.97 L500.35,163.62 L501.04,164.23 L501.77,164.80 L502.55,165.31 L503.37,165.78 L504.25,166.18 L505.19,166.53 L506.17,166.81 L507.19,167.03 L508.22,167.18 L509.25,167.24 L510.26,167.23 L511.24,167.14 L512.18,166.98 L513.11,166.79 L514.03,166.58 L514.94,166.37 L515.88,166.21 L516.83,166.09 L517.80,166.03 L518.79,166.00 L519.77,165.97 L520.74,165.91 L521.69,165.80 L522.61,165.61 L523.49,165.33 L524.34,164.97 L525.16,164.54 L525.95,164.04 L526.72,163.48 L527.48,162.88 L528.22,162.24 L528.95,161.57 L529.68,160.88 L530.41,160.19 L531.14,159.49 L531.88,158.80 L532.64,158.13 L533.41,157.48 L534.19,156.87 L535.01,156.30 L535.85,155.78 L536.70,155.30 L537.58,154.87 L538.48,154.48 L539.39,154.13 L540.31,153.83 L541.24,153.57 L542.19,153.35 L543.14,153.17 L544.09,153.03 L545.06,152.93 L546.02,152.86 L546.99,152.83 L547.96,152.84 L548.93,152.87 L549.90,152.94 L550.87,153.05 L551.83,153.18 L552.79,153.34 L553.74,153.53 L554.69,153.75 L555.62,153.99 L556.55,154.26 L557.47,154.55 L558.38,154.87 L559.29,155.20 L560.18,155.56 L561.07,155.93 L561.96,156.32 L562.84,156.73 L563.71,157.15 L564.58,157.59 L565.45,158.03 L566.31,158.49 L567.17,158.96 L568.03,159.43 L568.88,159.91 L569.73,160.39 L570.58,160.88 L571.43,161.38 L572.28,161.87 L573.13,162.36 L573.98,162.85 L574.83,163.34 L575.68,163.83 L576.54,164.31 L577.39,164.78 L578.25,165.24 L579.11,165.70 L579.98,166.14 L580.85,166.57 L581.72,166.99 L582.60,167.40 L583.49,167.79 L584.38,168.16 L585.27,168.52 L586.17,168.86 L587.08,169.19 L587.99,169.49 L588.91,169.78 L589.83,170.05 L590.76,170.30 L591.69,170.52 L592.63,170.73 L593.58,170.92 L594.53,171.08 L595.49,171.22 L596.46,171.34 L597.43,171.43 L598.41,171.50 L599.39,171.54 L600.38,171.55 L601.38,171.54 L602.37,171.49 L603.35,171.42 L604.33,171.30 L605.30,171.15 L606.26,170.96 L607.20,170.72 L608.12,170.45 L609.02,170.13 L609.90,169.76 L610.77,169.37 L611.62,168.93 L612.46,168.47 L613.28,167.97 L614.09,167.45 L614.90,166.91 L615.69,166.35 L616.47,165.76 L617.25,165.17 L618.03,164.56 L618.80,163.94 L619.56,163.32 L620.33,162.69 L621.09,162.06 L621.85,161.42 L622.59,160.77 L623.32,160.11 L624.04,159.44 L624.73,158.75 L625.41,158.05 L626.06,157.33 L626.68,156.59 L627.28,155.83 L627.84,155.05 L628.37,154.25 L628.88,153.43 L629.36,152.59 L629.81,151.73 L630.25,150.87 L630.67,149.99 L631.08,149.10 L631.48,148.21 L631.87,147.31 L632.25,146.41 L632.63,145.50 L633.02,144.60 L633.40,143.70 L633.79,142.80 L634.19,141.91 L634.60,141.03 L635.02,140.16 L635.46,139.30 L635.91,138.46 L636.39,137.63 L636.90,136.82 L637.42,136.02 L637.97,135.24 L638.54,134.47 L639.12,133.71 L639.72,132.95 L640.34,132.20 L640.96,131.45 L641.60,130.70 L642.25,129.94 L642.91,129.19 L643.58,128.44 L644.27,127.72 L644.99,127.03 L645.74,126.39 L646.52,125.80 L647.35,125.29 L648.22,124.86 L649.14,124.52 L650.10,124.30 L651.06,124.20 L652.02,124.24 L652.94,124.44 L653.81,124.80 L654.66,125.27 L655.49,125.82 L656.33,126.41 L657.19,127.00 L658.09,127.54 L659.00,127.97 L659.91,128.22 L660.77,128.21 L661.57,127.93 L662.33,127.43 L663.05,126.76 L663.74,125.98 L664.41,125.14 L665.06,124.31 L665.71,123.50 L666.35,122.70 L666.98,121.93 L667.59,121.16 L668.18,120.39 L668.75,119.62 L669.30,118.84 L669.83,118.05 L670.33,117.24 L670.80,116.41 L671.25,115.57 L671.67,114.71 L672.07,113.83 L672.45,112.94 L672.81,112.04 L673.15,111.13 L673.47,110.20 L673.77,109.27 L674.05,108.33 L674.32,107.38 L674.57,106.42 L674.81,105.46 L675.03,104.50 L675.25,103.53 L675.45,102.56 L675.64,101.59 L675.83,100.62 L676.00,99.66 L676.17,98.69 L676.33,97.73 L676.49,96.77 L676.64,95.82 L676.79,94.88 L676.94,93.94 L677.08,93.01 L677.23,92.09 L677.38,91.19 L677.53,90.29 L677.68,89.41 L677.86,88.57 L678.28,87.93 L679.23,87.75 L679.57,212.01 L679.02,211.24 L678.49,210.46 L677.97,209.68 L677.47,208.90 L676.98,208.12 L676.49,207.33 L676.02,206.53 L675.56,205.74 L675.11,204.94 L674.66,204.14 L674.23,203.33 L673.80,202.52 L673.38,201.71 L672.97,200.90 L672.57,200.08 L672.17,199.27 L671.78,198.44 L671.40,197.62 L671.02,196.80 L670.64,195.97 L670.27,195.14 L669.90,194.31 L669.53,193.47 L669.17,192.64 L668.81,191.80 L668.45,190.97 L668.10,190.13 L667.74,189.29 L667.38,188.44 L667.03,187.60 L666.67,186.76 L666.31,185.91 L665.96,185.07 L665.60,184.22 L665.23,183.38 L664.87,182.53 L664.50,181.68 L664.13,180.84 L663.75,179.99 L663.37,179.14 L662.98,178.30 L662.59,177.45 L662.19,176.60 L661.78,175.76 L661.37,174.91 L660.95,174.07 L660.52,173.22 L660.09,172.38 L659.64,171.54 L659.17,170.72 L658.68,169.95 L658.14,169.25 L657.56,168.64 L656.91,168.14 L656.19,167.78 L655.39,167.57 L654.51,167.50 L653.59,167.56 L652.62,167.71 L651.64,167.94 L650.66,168.21 L649.69,168.51 L648.75,168.81 L647.84,169.11 L646.96,169.41 L646.09,169.71 L645.23,170.00 L644.39,170.30 L643.54,170.59 L642.70,170.89 L641.85,171.17 L640.99,171.46 L640.13,171.74 L639.26,172.03 L638.39,172.33 L637.52,172.63 L636.66,172.93 L635.79,173.26 L634.94,173.59 L634.09,173.94 L633.25,174.31 L632.41,174.70 L631.58,175.09 L630.76,175.50 L629.94,175.92 L629.13,176.34 L628.32,176.77 L627.51,177.20 L626.70,177.64 L625.89,178.07 L625.08,178.50 L624.28,178.93 L623.46,179.34 L622.65,179.76 L621.83,180.16 L621.01,180.55 L620.18,180.92 L619.35,181.28 L618.51,181.62 L617.66,181.96 L616.82,182.30 L615.97,182.64 L615.14,183.00 L614.31,183.38 L613.50,183.80 L612.70,184.26 L611.92,184.76 L611.16,185.31 L610.41,185.89 L609.66,186.47 L608.90,187.03 L608.13,187.55 L607.34,188.00 L606.52,188.37 L605.67,188.66 L604.80,188.88 L603.92,189.03 L603.01,189.11 L602.10,189.15 L601.18,189.14 L600.26,189.08 L599.34,188.99 L598.42,188.88 L597.51,188.73 L596.60,188.57 L595.71,188.39 L594.81,188.18 L593.92,187.96 L593.04,187.73 L592.16,187.47 L591.28,187.21 L590.41,186.93 L589.54,186.64 L588.67,186.34 L587.81,186.04 L586.94,185.72 L586.08,185.41 L585.22,185.09 L584.36,184.77 L583.49,184.45 L582.63,184.13 L581.77,183.81 L580.90,183.50 L580.04,183.19 L579.17,182.89 L578.30,182.60 L577.42,182.32 L576.54,182.05 L575.66,181.80 L574.77,181.55 L573.88,181.33 L572.99,181.12 L572.08,180.93 L571.18,180.77 L570.26,180.62 L569.35,180.49 L568.43,180.38 L567.51,180.30 L566.59,180.24 L565.67,180.20 L564.75,180.18 L563.83,180.19 L562.91,180.22 L561.99,180.27 L561.08,180.33 L560.17,180.40 L559.26,180.47 L558.36,180.53 L557.46,180.58 L556.56,180.61 L555.66,180.62 L554.76,180.60 L553.87,180.55 L552.98,180.49 L552.08,180.44 L551.18,180.41 L550.28,180.39 L549.38,180.38 L548.47,180.39 L547.56,180.42 L546.64,180.45 L545.73,180.50 L544.81,180.56 L543.88,180.63 L542.96,180.70 L542.03,180.78 L541.10,180.87 L540.17,180.96 L539.23,181.06 L538.30,181.18 L537.39,181.31 L536.48,181.47 L535.60,181.67 L534.75,181.92 L533.92,182.21 L533.14,182.57 L532.40,182.99 L531.71,183.49 L531.07,184.06 L530.48,184.70 L529.93,185.40 L529.42,186.16 L528.95,186.96 L528.51,187.81 L528.09,188.68 L527.71,189.58 L527.34,190.50 L526.98,191.42 L526.64,192.35 L526.31,193.27 L525.98,194.18 L525.66,195.06 L525.33,195.93 L524.99,196.78 L524.64,197.62 L524.28,198.43 L523.90,199.24 L523.50,200.04 L523.07,200.83 L522.61,201.61 L522.13,202.40 L521.60,203.18 L521.04,203.96 L520.43,204.74 L519.78,205.53 L519.07,206.32 L518.33,207.09 L517.56,207.79 L516.77,208.41 L515.96,208.92 L515.16,209.28 L514.35,209.47 L513.57,209.46 L512.80,209.23 L512.06,208.83 L511.34,208.30 L510.64,207.70 L509.97,207.06 L509.32,206.41 L508.69,205.74 L508.08,205.06 L507.49,204.37 L506.92,203.66 L506.37,202.94 L505.83,202.21 L505.31,201.46 L504.80,200.71 L504.30,199.95 L503.81,199.17 L503.33,198.39 L502.86,197.60 L502.40,196.80 L501.94,196.00 L501.49,195.19 L501.04,194.37 L500.59,193.55 L500.15,192.72 L499.70,191.89 L499.25,191.05 L498.80,190.21 L498.35,189.38 L497.89,188.54 L497.42,187.70 L496.93,186.89 L496.42,186.10 L495.88,185.36 L495.31,184.66 L494.69,184.02 L494.03,183.45 L493.32,182.96 L492.56,182.55 L491.75,182.20 L490.92,181.92 L490.05,181.71 L489.16,181.56 L488.25,181.46 L487.32,181.42 L486.39,181.43 L485.45,181.48 L484.52,181.57 L483.60,181.71 L482.69,181.88 L481.78,182.08 L480.89,182.32 L480.00,182.60 L479.13,182.90 L478.27,183.23 L477.42,183.59 L476.58,183.98 L475.75,184.39 L474.94,184.82 L474.14,185.28 L473.35,185.75 L472.58,186.25 L471.82,186.75 L471.08,187.28 L470.35,187.82 L469.64,188.37 L468.95,188.93 L468.26,189.50 L467.58,190.07 L466.89,190.65 L466.20,191.23 L465.49,191.81 L464.76,192.38 L464.01,192.95 L463.22,193.51 L462.41,194.05 L461.58,194.55 L460.73,195.02 L459.87,195.44 L459.00,195.81 L458.13,196.10 L457.26,196.33 L456.39,196.46 L455.53,196.51 L454.69,196.45 L453.86,196.27 L453.05,195.98 L452.27,195.58 L451.50,195.09 L450.76,194.53 L450.05,193.90 L449.36,193.22 L448.69,192.52 L448.05,191.79 L447.43,191.06 L446.84,190.31 L446.28,189.56 L445.73,188.80 L445.21,188.03 L444.71,187.25 L444.23,186.46 L443.76,185.67 L443.32,184.86 L442.90,184.05 L442.49,183.23 L442.10,182.41 L441.72,181.58 L441.36,180.75 L441.01,179.91 L440.67,179.06 L440.35,178.21 L440.04,177.35 L439.73,176.50 L439.44,175.63 L439.16,174.77 L438.88,173.90 L438.61,173.03 L438.35,172.15 L438.10,171.28 L437.85,170.40 L437.60,169.52 L437.37,168.64 L437.14,167.75 L436.91,166.86 L436.69,165.98 L436.47,165.08 L436.26,164.19 L436.05,163.30 L435.85,162.40 L435.65,161.51 L435.45,160.61 L435.26,159.71 L435.07,158.81 L434.88,157.91 L434.69,157.01 L434.51,156.11 L434.32,155.21 L434.14,154.31 L433.96,153.40 L433.78,152.50 L433.60,151.60 L433.42,150.69 L433.24,149.79 L433.06,148.89 L432.88,147.98 L432.70,147.08 L432.52,146.18 L432.33,145.28 L432.15,144.38 L431.96,143.48 L431.77,142.58 L431.57,141.68 L431.38,140.79 L431.18,139.89 L430.98,139.00 L430.77,138.11 L430.55,137.22 L430.31,136.35 L430.03,135.49 L429.71,134.66 L429.34,133.86 L428.90,133.09 L428.38,132.37 L427.78,131.69 L427.08,131.07 L426.27,130.50 L425.34,130.01 Z" fill="#cccccc" stroke="#8c8c8c" stroke-width="1.1" stroke-linejoin="round"/>
<path d="M426.11,115.97 L426.71,115.88 L427.31,115.80 L427.90,115.74 L428.50,115.69 L429.08,115.65 L429.67,115.63 L430.25,115.61 L430.83,115.62 L431.41,115.63 L431.99,115.66 L432.56,115.69 L433.13,115.74 L433.69,115.81 L434.26,115.88 L434.82,115.96 L435.38,116.06 L435.93,116.16 L436.48,116.28 L437.03,116.41 L437.58,116.54 L438.12,116.69 L438.67,116.85 L439.20,117.01 L439.74,117.19 L440.27,117.37 L440.80,117.55 L441.33,117.74 L441.85,117.94 L442.37,118.15 L442.89,118.36 L443.41,118.59 L443.92,118.82 L444.43,119.06 L444.94,119.30 L445.44,119.55 L445.94,119.81 L446.44,120.08 L446.94,120.35 L447.43,120.63 L447.92,120.91 L448.41,121.20 L448.89,121.50 L449.38,121.80 L449.86,122.11 L450.33,122.42 L450.81,122.73 L451.28,123.06 L451.74,123.38 L452.21,123.71 L452.67,124.04 L453.13,124.38 L453.59,124.72 L454.04,125.06 L454.49,125.40 L454.94,125.75 L455.39,126.09 L455.83,126.43 L456.27,126.77 L456.71,127.11 L457.15,127.46 L457.58,127.81 L458.01,128.16 L458.44,128.52 L458.87,128.88 L459.29,129.24 L459.71,129.60 L460.13,129.97 L460.55,130.34 L460.96,130.71 L461.38,131.08 L461.79,131.46 L462.20,131.84 L462.60,132.22 L463.01,132.60 L463.41,132.98 L463.81,133.37 L464.21,133.76 L464.61,134.15 L465.01,134.54 L465.40,134.93 L465.79,135.31 L466.19,135.70 L466.57,136.09 L466.96,136.48 L467.35,136.87 L467.73,137.26 L468.12,137.66 L468.50,138.05 L468.88,138.45 L469.26,138.85 L469.64,139.25 L470.02,139.65 L470.39,140.05 L470.77,140.45 L471.14,140.86 L471.51,141.26 L471.89,141.67 L472.26,142.08 L472.63,142.48 L472.99,142.89 L473.36,143.30 L473.73,143.71 L474.10,144.12 L474.46,144.53 L474.83,144.94 L475.19,145.36 L475.55,145.77 L475.92,146.18 L476.28,146.60 L476.64,147.01 L477.00,147.42 L477.36,147.84 L477.72,148.25 L478.09,148.66 L478.45,149.08 L478.81,149.49 L479.16,149.90 L479.52,150.32 L479.88,150.73 L480.24,151.14 L480.60,151.55 L480.96,151.96 L481.32,152.37 L481.68,152.78 L482.03,153.20 L482.39,153.61 L482.75,154.02 L483.10,154.43 L483.46,154.84 L483.82,155.25 L484.17,155.67 L484.53,156.09 L484.88,156.52 L485.23,156.94 L485.59,157.37 L485.94,157.80 L486.29,158.22 L486.64,158.65 L486.99,159.08 L487.34,159.51 L487.69,159.94 L488.04,160.37 L488.38,160.81 L488.73,161.24 L489.07,161.68 L489.42,162.12 L489.76,162.56 L490.10,163.00 L490.44,163.44 L490.78,163.89 L491.12,164.33 L491.46,164.78 L491.79,165.23 L492.13,165.68 L492.46,166.14 L492.80,166.59 L493.13,167.05 L493.46,167.51 L493.79,167.97 L494.11,168.44 L494.44,168.90 L494.76,169.37 L495.09,169.85 L495.41,170.32 L495.73,170.79 L496.06,171.26 L496.38,171.74 L496.71,172.20 L497.04,172.67 L497.38,173.13 L497.72,173.59 L498.06,174.04 L498.41,174.48 L498.76,174.92 L499.12,175.35 L499.49,175.77 L499.86,176.18 L500.25,176.58 L500.64,176.97 L501.04,177.35 L501.45,177.71 L501.87,178.06 L502.30,178.39 L502.75,178.71 L503.20,179.01 L503.67,179.30 L504.16,179.55 L504.66,179.77 L505.17,179.97 L505.69,180.15 L506.22,180.30 L506.76,180.42 L507.31,180.53 L507.86,180.60 L508.41,180.64 L508.97,180.66 L509.52,180.64 L510.06,180.60 L510.61,180.57 L511.14,180.51 L511.68,180.42 L512.20,180.29 L512.72,180.14 L513.23,179.96 L513.74,179.75 L514.25,179.52 L514.75,179.27 L515.24,179.00 L515.73,178.70 L516.21,178.40 L516.69,178.09 L517.16,177.77 L517.62,177.43 L518.09,177.08 L518.54,176.72 L519.00,176.35 L519.44,175.97 L519.89,175.59 L520.33,175.20 L520.76,174.81 L521.19,174.41 L521.61,174.02 L522.04,173.62 L522.45,173.23 L522.86,172.84 L523.27,172.46 L523.68,172.08 L524.09,171.70 L524.49,171.34 L524.90,170.97 L525.31,170.62 L525.72,170.27 L526.14,169.93 L526.56,169.60 L526.99,169.28 L527.43,168.97 L527.88,168.67 L528.33,168.39 L528.80,168.14 L529.27,167.89 L529.76,167.65 L530.25,167.43 L530.76,167.22 L531.27,167.02 L531.79,166.82 L532.31,166.64 L532.85,166.47 L533.38,166.32 L533.93,166.17 L534.47,166.03 L535.03,165.90 L535.58,165.79 L536.14,165.68 L536.71,165.58 L537.27,165.50 L537.84,165.42 L538.41,165.36 L538.98,165.30 L539.55,165.26 L540.11,165.22 L540.68,165.17 L541.25,165.12 L541.82,165.09 L542.38,165.07 L542.95,165.05 L543.51,165.05 L544.08,165.05 L544.64,165.06 L545.20,165.08 L545.76,165.11 L546.32,165.15 L546.88,165.20 L547.44,165.25 L548.00,165.31 L548.55,165.38 L549.11,165.46 L549.67,165.54 L550.22,165.63 L550.77,165.73 L551.33,165.83 L551.88,165.94 L552.43,166.08 L552.99,166.22 L553.54,166.37 L554.09,166.53 L554.64,166.69 L555.19,166.85 L555.73,167.03 L556.28,167.20 L556.83,167.38 L557.38,167.57 L557.93,167.76 L558.47,167.95 L559.02,168.15 L559.57,168.35 L560.11,168.55 L560.66,168.73 L561.20,168.91 L561.75,169.09 L562.29,169.28 L562.83,169.47 L563.38,169.66 L563.92,169.85 L564.47,170.05 L565.01,170.24 L565.55,170.44 L566.09,170.64 L566.64,170.85 L567.18,171.05 L567.72,171.26 L568.27,171.46 L568.81,171.67 L569.35,171.88 L569.89,172.09 L570.44,172.30 L570.98,172.50 L571.52,172.71 L572.06,172.92 L572.61,173.13 L573.15,173.34 L573.69,173.54 L574.24,173.75 L574.78,173.95 L575.32,174.16 L575.87,174.36 L576.41,174.56 L576.95,174.76 L577.50,174.95 L578.04,175.15 L578.59,175.34 L579.13,175.53 L579.68,175.71 L580.22,175.89 L580.77,176.07 L581.32,176.24 L581.86,176.41 L582.41,176.58 L582.96,176.74 L583.51,176.90 L584.06,177.05 L584.61,177.20 L585.15,177.35 L585.70,177.49 L586.25,177.63 L586.80,177.76 L587.36,177.89 L587.91,178.01 L588.46,178.13 L589.01,178.24 L589.56,178.34 L590.11,178.45 L590.67,178.54 L591.22,178.63 L591.77,178.72 L592.32,178.79 L592.88,178.87 L593.43,178.93 L593.99,178.99 L594.54,179.04 L595.10,179.09 L595.65,179.13 L596.20,179.16 L596.76,179.19 L597.32,179.21 L597.87,179.22 L598.43,179.23 L598.98,179.22 L599.54,179.21 L600.10,179.19 L600.65,179.15 L601.21,179.11 L601.76,179.06 L602.32,178.99 L602.88,178.92 L603.44,178.84 L603.99,178.76 L604.55,178.66 L605.11,178.56 L605.67,178.44 L606.22,178.32 L606.78,178.19 L607.34,178.05 L607.90,177.90 L608.45,177.74 L609.01,177.57 L609.57,177.39 L610.12,177.20 L610.67,177.01 L611.23,176.80 L611.78,176.59 L612.32,176.37 L612.87,176.14 L613.41,175.90 L613.95,175.66 L614.48,175.41 L615.01,175.15 L615.54,174.88 L616.06,174.61 L616.58,174.32 L617.09,174.04 L617.59,173.74 L618.09,173.44 L618.59,173.14 L619.07,172.82 L619.55,172.51 L620.03,172.18 L620.49,171.84 L620.95,171.50 L621.40,171.15 L621.85,170.79 L622.29,170.43 L622.72,170.07 L623.15,169.70 L623.58,169.33 L623.99,168.95 L624.41,168.57 L624.81,168.19 L625.22,167.80 L625.62,167.40 L626.01,167.01 L626.40,166.61 L626.79,166.21 L627.18,165.80 L627.56,165.39 L627.94,164.98 L628.31,164.57 L628.69,164.15 L629.06,163.73 L629.43,163.31 L629.80,162.89 L630.17,162.46 L630.53,162.04 L630.90,161.61 L631.27,161.18 L631.63,160.75 L632.00,160.31 L632.36,159.88 L632.73,159.45 L633.09,159.01 L633.46,158.58 L633.83,158.14 L634.20,157.71 L634.57,157.27 L634.94,156.83 L635.32,156.40 L635.69,155.96 L636.07,155.53 L636.46,155.09 L636.84,154.66 L637.23,154.23 L637.63,153.80 L638.02,153.37 L638.42,152.94 L638.83,152.51 L639.24,152.08 L639.65,151.66 L640.07,151.24 L640.50,150.80 L640.93,150.38 L641.37,149.95 L641.81,149.53 L642.26,149.10 L642.71,148.69 L643.17,148.27 L643.64,147.87 L644.11,147.47 L644.59,147.09 L645.07,146.72 L645.56,146.36 L646.05,146.03 L646.54,145.71 L647.04,145.42 L647.53,145.16 L648.03,144.92 L648.54,144.71 L649.04,144.53 L649.55,144.39 L650.05,144.28 L650.56,144.22 L651.07,144.20 L651.57,144.30 L652.08,144.44 L652.58,144.63 L653.08,144.86 L653.57,145.13 L654.06,145.43 L654.54,145.76 L655.01,146.11 L655.46,146.49 L655.90,146.88 L656.33,147.29 L656.74,147.72 L657.14,148.15 L657.52,148.60 L657.89,149.06 L658.25,149.54 L658.59,150.02 L658.93,150.52 L659.25,151.02 L659.56,151.54 L659.86,152.06 L660.16,152.58 L660.44,153.09 L660.72,153.62 L660.98,154.15 L661.24,154.68 L661.50,155.23 L661.74,155.77 L661.98,156.33 L662.22,156.88 L662.45,157.44 L662.67,158.00 L662.89,158.57 L663.11,159.13 L663.32,159.70 L663.53,160.26 L663.74,160.83 L663.95,161.39 L664.16,161.95 L664.36,162.51 L664.57,163.07 L664.78,163.62 L664.98,164.17 L665.19,164.71 L665.40,165.25 L665.61,165.79 L665.82,166.32 L666.03,166.85 L666.24,167.37 L666.45,167.90 L666.66,168.42 L666.87,168.94 L667.08,169.45 L667.29,169.97 L667.50,170.48 L667.70,171.00 L667.91,171.51 L668.11,172.03 L668.32,172.54 L668.52,173.06 L668.72,173.57 L668.91,174.09 L669.11,174.61 L669.30,175.13 L669.49,175.66 L669.68,176.19 L669.86,176.72 L670.05,177.25 L670.22,177.78 L670.40,178.32 L670.58,178.86 L670.75,179.40 L670.92,179.95 L671.09,180.49 L671.26,181.04 L671.42,181.59 L671.58,182.14 L671.75,182.70 L671.91,183.25 L672.06,183.81 L672.22,184.37 L672.37,184.92 L672.53,185.48 L672.68,186.05 L672.83,186.61 L672.98,187.17 L673.13,187.73 L673.28,188.30 L673.43,188.86 L673.57,189.43 L673.72,189.99 L673.86,190.56 L674.01,191.12 L674.15,191.69 L674.29,192.25 L674.44,192.81 L674.58,193.38 L674.72,193.94 L674.86,194.51 L675.00,195.07 L675.15,195.63 L675.29,196.19 L675.43,196.75 L675.57,197.31 L675.72,197.87 L675.86,198.42 L676.01,198.98 L676.15,199.53 L676.29,200.08 L676.44,200.63 L676.59,201.18 L676.74,201.73 L676.88,202.27 L677.03,202.82 L677.18,203.36 L677.34,203.89 L677.49,204.43 L677.64,204.96 L677.80,205.49 L677.80,210.30 L677.64,209.78 L677.49,209.26 L677.34,208.73 L677.18,208.20 L677.03,207.67 L676.88,207.14 L676.74,206.60 L676.59,206.06 L676.44,205.52 L676.29,204.98 L676.15,204.44 L676.01,203.89 L675.86,203.34 L675.72,202.79 L675.57,202.24 L675.43,201.69 L675.29,201.14 L675.15,200.59 L675.00,200.04 L674.86,199.48 L674.72,198.93 L674.58,198.37 L674.44,197.81 L674.29,197.26 L674.15,196.70 L674.01,196.14 L673.86,195.59 L673.72,195.03 L673.57,194.47 L673.43,193.92 L673.28,193.36 L673.13,192.80 L672.98,192.25 L672.83,191.69 L672.68,191.14 L672.53,190.59 L672.37,190.04 L672.22,189.49 L672.06,188.94 L671.91,188.39 L671.75,187.84 L671.58,187.30 L671.42,186.76 L671.26,186.22 L671.09,185.68 L670.92,185.14 L670.75,184.61 L670.58,184.07 L670.40,183.54 L670.22,183.02 L670.05,182.49 L669.86,181.97 L669.68,181.45 L669.49,180.93 L669.30,180.42 L669.11,179.91 L668.91,179.40 L668.72,178.89 L668.52,178.38 L668.32,177.88 L668.11,177.38 L667.91,176.87 L667.70,176.37 L667.50,175.87 L667.29,175.36 L667.08,174.86 L666.87,174.35 L666.66,173.85 L666.45,173.34 L666.24,172.83 L666.03,172.31 L665.82,171.80 L665.61,171.28 L665.40,170.75 L665.19,170.23 L664.98,169.69 L664.78,169.16 L664.57,168.62 L664.36,168.07 L664.16,167.52 L663.95,166.97 L663.74,166.42 L663.53,165.87 L663.32,165.31 L663.11,164.76 L662.89,164.21 L662.67,163.65 L662.45,163.11 L662.22,162.56 L661.98,162.02 L661.74,161.48 L661.50,160.94 L661.24,160.41 L660.98,159.89 L660.72,159.38 L660.44,158.87 L660.16,158.37 L659.86,157.89 L659.56,157.43 L659.25,156.98 L658.93,156.54 L658.59,156.12 L658.25,155.71 L657.89,155.31 L657.52,154.92 L657.14,154.56 L656.74,154.20 L656.33,153.87 L655.90,153.55 L655.46,153.25 L655.01,152.97 L654.54,152.71 L654.06,152.48 L653.57,152.28 L653.08,152.12 L652.58,151.99 L652.08,151.91 L651.57,151.88 L651.07,151.89 L650.56,151.88 L650.05,151.91 L649.55,151.97 L649.04,152.07 L648.54,152.21 L648.03,152.37 L647.53,152.57 L647.04,152.80 L646.54,153.05 L646.05,153.32 L645.56,153.62 L645.07,153.93 L644.59,154.26 L644.11,154.61 L643.64,154.97 L643.17,155.33 L642.71,155.71 L642.26,156.09 L641.81,156.47 L641.37,156.86 L640.93,157.25 L640.50,157.65 L640.07,158.04 L639.65,158.45 L639.24,158.85 L638.83,159.26 L638.42,159.67 L638.02,160.09 L637.63,160.50 L637.23,160.92 L636.84,161.33 L636.46,161.75 L636.07,162.17 L635.69,162.59 L635.32,163.01 L634.94,163.43 L634.57,163.85 L634.20,164.27 L633.83,164.69 L633.46,165.12 L633.09,165.54 L632.73,165.96 L632.36,166.38 L632.00,166.79 L631.63,167.21 L631.27,167.63 L630.90,168.04 L630.53,168.46 L630.17,168.87 L629.80,169.28 L629.43,169.69 L629.06,170.09 L628.69,170.50 L628.31,170.90 L627.94,171.30 L627.56,171.69 L627.18,172.09 L626.79,172.48 L626.40,172.87 L626.01,173.25 L625.62,173.63 L625.22,174.01 L624.81,174.38 L624.41,174.75 L623.99,175.11 L623.58,175.47 L623.15,175.83 L622.72,176.18 L622.29,176.53 L621.85,176.87 L621.40,177.20 L620.95,177.54 L620.49,177.86 L620.03,178.18 L619.55,178.51 L619.07,178.82 L618.59,179.14 L618.09,179.44 L617.59,179.74 L617.09,180.04 L616.58,180.32 L616.06,180.61 L615.54,180.88 L615.01,181.15 L614.48,181.41 L613.95,181.66 L613.41,181.90 L612.87,182.14 L612.32,182.37 L611.78,182.59 L611.23,182.80 L610.67,183.01 L610.12,183.20 L609.57,183.39 L609.01,183.57 L608.45,183.74 L607.90,183.90 L607.34,184.05 L606.78,184.19 L606.22,184.32 L605.67,184.44 L605.11,184.56 L604.55,184.66 L603.99,184.76 L603.44,184.84 L602.88,184.92 L602.32,184.99 L601.76,185.06 L601.21,185.11 L600.65,185.15 L600.10,185.19 L599.54,185.23 L598.98,185.25 L598.43,185.27 L597.87,185.28 L597.32,185.29 L596.76,185.29 L596.20,185.28 L595.65,185.26 L595.10,185.24 L594.54,185.21 L593.99,185.17 L593.43,185.13 L592.88,185.08 L592.32,185.02 L591.77,184.96 L591.22,184.90 L590.67,184.82 L590.11,184.74 L589.56,184.66 L589.01,184.57 L588.46,184.47 L587.91,184.37 L587.36,184.27 L586.80,184.16 L586.25,184.04 L585.70,183.92 L585.15,183.79 L584.61,183.67 L584.06,183.53 L583.51,183.39 L582.96,183.25 L582.41,183.11 L581.86,182.96 L581.32,182.80 L580.77,182.65 L580.22,182.49 L579.68,182.33 L579.13,182.18 L578.59,182.02 L578.04,181.86 L577.50,181.70 L576.95,181.54 L576.41,181.37 L575.87,181.21 L575.32,181.04 L574.78,180.87 L574.24,180.70 L573.69,180.52 L573.15,180.35 L572.61,180.17 L572.06,180.00 L571.52,179.82 L570.98,179.65 L570.44,179.47 L569.89,179.29 L569.35,179.12 L568.81,178.94 L568.27,178.77 L567.72,178.59 L567.18,178.42 L566.64,178.25 L566.09,178.08 L565.55,177.91 L565.01,177.74 L564.47,177.58 L563.92,177.41 L563.38,177.25 L562.83,177.10 L562.29,176.94 L561.75,176.79 L561.20,176.64 L560.66,176.49 L560.11,176.35 L559.57,176.23 L559.02,176.12 L558.47,176.02 L557.93,175.92 L557.38,175.83 L556.83,175.74 L556.28,175.65 L555.73,175.57 L555.19,175.50 L554.64,175.43 L554.09,175.36 L553.54,175.30 L552.99,175.25 L552.43,175.20 L551.88,175.16 L551.33,175.13 L550.77,175.11 L550.22,175.10 L549.67,175.09 L549.11,175.09 L548.55,175.10 L548.00,175.11 L547.44,175.13 L546.88,175.16 L546.32,175.20 L545.76,175.25 L545.20,175.30 L544.64,175.37 L544.08,175.44 L543.51,175.52 L542.95,175.61 L542.38,175.71 L541.82,175.82 L541.25,175.94 L540.68,176.06 L540.11,176.20 L539.55,176.33 L538.98,176.47 L538.41,176.61 L537.84,176.77 L537.27,176.93 L536.71,177.11 L536.14,177.29 L535.58,177.49 L535.03,177.69 L534.47,177.90 L533.93,178.13 L533.38,178.36 L532.85,178.61 L532.31,178.86 L531.79,179.12 L531.27,179.40 L530.76,179.68 L530.25,179.97 L529.76,180.28 L529.27,180.59 L528.80,180.91 L528.33,181.24 L527.88,181.59 L527.43,181.98 L526.99,182.38 L526.56,182.79 L526.14,183.21 L525.72,183.63 L525.31,184.06 L524.90,184.49 L524.49,184.94 L524.09,185.39 L523.68,185.84 L523.27,186.30 L522.86,186.77 L522.45,187.24 L522.04,187.71 L521.61,188.19 L521.19,188.67 L520.76,189.15 L520.33,189.63 L519.89,190.11 L519.44,190.59 L519.00,191.05 L518.54,191.51 L518.09,191.97 L517.62,192.41 L517.16,192.84 L516.69,193.25 L516.21,193.66 L515.73,194.00 L515.24,194.30 L514.75,194.57 L514.25,194.82 L513.74,195.05 L513.23,195.26 L512.72,195.44 L512.20,195.59 L511.68,195.72 L511.14,195.81 L510.61,195.87 L510.06,195.90 L509.52,195.80 L508.97,195.65 L508.41,195.47 L507.86,195.26 L507.31,195.02 L506.76,194.75 L506.22,194.46 L505.69,194.15 L505.17,193.82 L504.66,193.47 L504.16,193.10 L503.67,192.75 L503.20,192.40 L502.75,192.03 L502.30,191.65 L501.87,191.26 L501.45,190.85 L501.04,190.43 L500.64,189.99 L500.25,189.55 L499.86,189.10 L499.49,188.63 L499.12,188.16 L498.76,187.68 L498.41,187.19 L498.06,186.70 L497.72,186.20 L497.38,185.69 L497.04,185.18 L496.71,184.67 L496.38,184.16 L496.06,183.64 L495.73,183.12 L495.41,182.60 L495.09,182.08 L494.76,181.57 L494.44,181.05 L494.11,180.54 L493.79,180.02 L493.46,179.52 L493.13,179.01 L492.80,178.50 L492.46,178.00 L492.13,177.50 L491.79,177.02 L491.46,176.55 L491.12,176.08 L490.78,175.61 L490.44,175.14 L490.10,174.68 L489.76,174.22 L489.42,173.76 L489.07,173.30 L488.73,172.84 L488.38,172.38 L488.04,171.93 L487.69,171.47 L487.34,171.02 L486.99,170.57 L486.64,170.12 L486.29,169.67 L485.94,169.22 L485.59,168.77 L485.23,168.32 L484.88,167.87 L484.53,167.43 L484.17,166.98 L483.82,166.53 L483.46,166.08 L483.10,165.62 L482.75,165.16 L482.39,164.71 L482.03,164.26 L481.68,163.80 L481.32,163.35 L480.96,162.89 L480.60,162.44 L480.24,161.98 L479.88,161.52 L479.52,161.07 L479.16,160.61 L478.81,160.16 L478.45,159.70 L478.09,159.24 L477.72,158.78 L477.36,158.33 L477.00,157.87 L476.64,157.41 L476.28,156.95 L475.92,156.50 L475.55,156.04 L475.19,155.58 L474.83,155.12 L474.46,154.66 L474.10,154.20 L473.73,153.73 L473.36,153.27 L472.99,152.81 L472.63,152.35 L472.26,151.89 L471.89,151.43 L471.51,150.98 L471.14,150.52 L470.77,150.06 L470.39,149.61 L470.02,149.15 L469.64,148.70 L469.26,148.24 L468.88,147.79 L468.50,147.34 L468.12,146.89 L467.73,146.44 L467.35,146.00 L466.96,145.55 L466.57,145.11 L466.19,144.66 L465.79,144.22 L465.40,143.78 L465.01,143.34 L464.61,142.92 L464.21,142.50 L463.81,142.08 L463.41,141.66 L463.01,141.24 L462.60,140.82 L462.20,140.41 L461.79,140.00 L461.38,139.59 L460.96,139.18 L460.55,138.78 L460.13,138.38 L459.71,137.98 L459.29,137.58 L458.87,137.19 L458.44,136.79 L458.01,136.40 L457.58,136.02 L457.15,135.63 L456.71,135.25 L456.27,134.87 L455.83,134.49 L455.39,134.12 L454.94,133.76 L454.49,133.41 L454.04,133.08 L453.59,132.74 L453.13,132.41 L452.67,132.09 L452.21,131.76 L451.74,131.44 L451.28,131.13 L450.81,130.82 L450.33,130.51 L449.86,130.21 L449.38,129.91 L448.89,129.62 L448.41,129.34 L447.92,129.06 L447.43,128.78 L446.94,128.51 L446.44,128.25 L445.94,127.99 L445.44,127.74 L444.94,127.50 L444.43,127.27 L443.92,127.04 L443.41,126.82 L442.89,126.60 L442.37,126.40 L441.85,126.20 L441.33,126.01 L440.80,125.83 L440.27,125.66 L439.74,125.50 L439.20,125.36 L438.67,125.22 L438.12,125.10 L437.58,124.98 L437.03,124.88 L436.48,124.78 L435.93,124.70 L435.38,124.62 L434.82,124.56 L434.26,124.51 L433.69,124.47 L433.13,124.44 L432.56,124.42 L431.99,124.41 L431.41,124.42 L430.83,124.44 L430.25,124.47 L429.67,124.52 L429.08,124.57 L428.50,124.64 L427.90,124.73 L427.31,124.83 L426.71,124.94 L426.11,125.06 Z" fill="#fdc760" stroke="#a9a9b2" stroke-width="0.8"/>
<path d="M426.11,120.17 L427.01,120.02 L427.90,119.90 L428.79,119.81 L429.67,119.75 L430.55,119.72 L431.42,119.71 L432.28,119.74 L433.13,119.79 L433.98,119.87 L434.83,119.97 L435.66,120.10 L436.49,120.26 L437.32,120.43 L438.13,120.63 L438.94,120.86 L439.75,121.10 L440.55,121.36 L441.34,121.64 L442.13,121.95 L442.90,122.27 L443.68,122.61 L444.44,122.96 L445.20,123.33 L445.96,123.72 L446.71,124.12 L447.45,124.54 L448.18,124.97 L448.91,125.41 L449.63,125.87 L450.35,126.33 L451.06,126.81 L451.76,127.29 L452.46,127.79 L453.15,128.29 L453.84,128.80 L454.51,129.32 L455.19,129.85 L455.85,130.38 L456.51,130.92 L457.17,131.46 L457.82,132.02 L458.46,132.58 L459.10,133.14 L459.73,133.71 L460.36,134.29 L460.99,134.87 L461.61,135.46 L462.22,136.05 L462.83,136.64 L463.44,137.25 L464.04,137.85 L464.64,138.46 L465.23,139.08 L465.82,139.70 L466.41,140.32 L466.99,140.94 L467.57,141.57 L468.15,142.20 L468.72,142.84 L469.29,143.48 L469.86,144.12 L470.42,144.76 L470.98,145.41 L471.54,146.05 L472.10,146.70 L472.66,147.35 L473.21,148.01 L473.76,148.66 L474.31,149.32 L474.86,149.97 L475.40,150.63 L475.95,151.28 L476.49,151.94 L477.04,152.60 L477.58,153.25 L478.12,153.91 L478.66,154.57 L479.20,155.22 L479.74,155.88 L480.28,156.53 L480.82,157.19 L481.35,157.84 L481.89,158.49 L482.43,159.15 L482.96,159.80 L483.50,160.45 L484.03,161.11 L484.56,161.76 L485.10,162.42 L485.63,163.08 L486.15,163.74 L486.68,164.40 L487.21,165.06 L487.73,165.73 L488.25,166.40 L488.77,167.07 L489.29,167.75 L489.80,168.43 L490.31,169.11 L490.82,169.80 L491.33,170.49 L491.84,171.18 L492.34,171.88 L492.84,172.59 L493.34,173.29 L493.83,174.01 L494.32,174.73 L494.81,175.45 L495.29,176.18 L495.78,176.91 L496.27,177.64 L496.76,178.37 L497.26,179.09 L497.77,179.79 L498.28,180.49 L498.81,181.17 L499.36,181.83 L499.92,182.47 L500.50,183.09 L501.10,183.68 L501.72,184.24 L502.37,184.77 L503.04,185.27 L503.75,185.73 L504.48,186.15 L505.25,186.52 L506.04,186.85 L506.85,187.13 L507.67,187.34 L508.50,187.50 L509.33,187.58 L510.15,187.60 L510.97,187.54 L511.76,187.40 L512.55,187.20 L513.32,186.93 L514.08,186.60 L514.83,186.22 L515.57,185.80 L516.29,185.33 L517.01,184.82 L517.71,184.28 L518.40,183.72 L519.08,183.13 L519.75,182.53 L520.41,181.91 L521.05,181.28 L521.69,180.66 L522.32,180.03 L522.94,179.42 L523.55,178.82 L524.16,178.22 L524.77,177.65 L525.39,177.08 L526.01,176.54 L526.65,176.01 L527.30,175.50 L527.97,175.01 L528.66,174.55 L529.37,174.10 L530.11,173.69 L530.86,173.29 L531.63,172.92 L532.42,172.57 L533.22,172.24 L534.04,171.93 L534.87,171.65 L535.70,171.39 L536.54,171.16 L537.39,170.94 L538.24,170.75 L539.10,170.58 L539.95,170.44 L540.81,170.32 L541.66,170.21 L542.51,170.14 L543.36,170.08 L544.20,170.04 L545.05,170.02 L545.89,170.03 L546.73,170.05 L547.57,170.09 L548.40,170.14 L549.24,170.21 L550.07,170.30 L550.90,170.41 L551.73,170.53 L552.56,170.66 L553.39,170.81 L554.22,170.97 L555.04,171.14 L555.87,171.33 L556.69,171.53 L557.51,171.73 L558.33,171.95 L559.15,172.18 L559.97,172.41 L560.79,172.65 L561.61,172.91 L562.43,173.16 L563.24,173.43 L564.06,173.70 L564.88,173.97 L565.69,174.25 L566.51,174.53 L567.32,174.82 L568.14,175.11 L568.95,175.40 L569.76,175.69 L570.58,175.99 L571.39,176.28 L572.21,176.57 L573.02,176.86 L573.84,177.15 L574.65,177.44 L575.47,177.73 L576.29,178.01 L577.10,178.28 L577.92,178.55 L578.74,178.82 L579.56,179.08 L580.38,179.33 L581.20,179.58 L582.02,179.82 L582.84,180.05 L583.66,180.27 L584.49,180.48 L585.31,180.68 L586.14,180.88 L586.96,181.06 L587.79,181.23 L588.62,181.39 L589.45,181.53 L590.28,181.67 L591.10,181.79 L591.94,181.90 L592.77,182.00 L593.60,182.08 L594.43,182.15 L595.26,182.20 L596.10,182.24 L596.93,182.26 L597.76,182.26 L598.60,182.25 L599.43,182.23 L600.27,182.18 L601.10,182.12 L601.94,182.04 L602.77,181.94 L603.61,181.82 L604.45,181.68 L605.28,181.52 L606.12,181.34 L606.96,181.14 L607.80,180.92 L608.63,180.68 L609.47,180.42 L610.30,180.14 L611.13,179.84 L611.95,179.52 L612.77,179.18 L613.59,178.82 L614.39,178.45 L615.19,178.06 L615.97,177.65 L616.75,177.23 L617.51,176.79 L618.26,176.34 L618.99,175.88 L619.71,175.40 L620.42,174.91 L621.11,174.40 L621.78,173.89 L622.44,173.36 L623.09,172.82 L623.72,172.27 L624.34,171.72 L624.95,171.15 L625.56,170.57 L626.15,169.99 L626.73,169.40 L627.31,168.80 L627.88,168.20 L628.45,167.59 L629.01,166.97 L629.56,166.35 L630.12,165.72 L630.67,165.09 L631.22,164.46 L631.76,163.82 L632.31,163.19 L632.86,162.55 L633.41,161.90 L633.96,161.26 L634.52,160.62 L635.08,159.97 L635.65,159.33 L636.22,158.69 L636.80,158.05 L637.38,157.41 L637.97,156.78 L638.58,156.15 L639.19,155.52 L639.81,154.89 L640.45,154.28 L641.10,153.66 L641.76,153.05 L642.43,152.45 L643.12,151.86 L643.82,151.29 L644.54,150.74 L645.26,150.22 L645.99,149.74 L646.73,149.30 L647.48,148.92 L648.23,148.61 L648.99,148.36 L649.75,148.19 L650.51,148.10 L651.27,148.11 L652.03,148.21 L652.78,148.42 L653.53,148.72 L654.26,149.10 L654.97,149.54 L655.64,150.03 L656.29,150.57 L656.90,151.14 L657.49,151.74 L658.04,152.37 L658.56,153.04 L659.06,153.73 L659.54,154.44 L659.99,155.18 L660.42,155.94 L660.83,156.72 L661.22,157.51 L661.60,158.31 L661.96,159.13 L662.32,159.96 L662.66,160.79 L662.99,161.63 L663.31,162.47 L663.63,163.31 L663.94,164.15 L664.25,164.98 L664.56,165.81 L664.87,166.63 L665.18,167.44 L665.49,168.24 L665.81,169.03 L666.12,169.81 L666.44,170.59 L666.75,171.36 L667.07,172.13 L667.38,172.89 L667.69,173.66 L668.00,174.42 L668.30,175.18 L668.61,175.95 L668.90,176.72 L669.20,177.49 L669.48,178.27 L669.76,179.06 L670.04,179.85 L670.31,180.64 L670.57,181.45 L670.83,182.25 L671.08,183.07 L671.33,183.88 L671.58,184.70 L671.82,185.53 L672.06,186.36 L672.29,187.19 L672.52,188.02 L672.75,188.86 L672.98,189.69 L673.20,190.53 L673.42,191.37 L673.64,192.22 L673.86,193.06 L674.07,193.90 L674.29,194.74 L674.50,195.58 L674.72,196.42 L674.93,197.26 L675.14,198.10 L675.36,198.94 L675.57,199.77 L675.79,200.60 L676.00,201.43 L676.22,202.25 L676.44,203.07 L676.66,203.89 L676.88,204.70 L677.11,205.51 L677.34,206.31 L677.57,207.11 L677.80,207.90" fill="none" stroke="#000" stroke-width="2.3" stroke-linejoin="round" stroke-linecap="round"/>
</g>
<clipPath id="cpc"><rect x="72.5" y="352.5" width="253.90" height="249.30"/></clipPath>
<g clip-path="url(#cpc)">
<path d="M72.62,490.98 L73.34,491.90 L73.86,492.87 L74.22,493.87 L74.46,494.90 L74.62,495.96 L74.76,497.04 L74.91,498.14 L75.11,499.26 L75.39,500.38 L75.75,501.49 L76.18,502.58 L76.69,503.62 L77.28,504.61 L77.94,505.54 L78.68,506.38 L79.50,507.13 L80.40,507.76 L81.34,508.21 L82.28,508.34 L83.18,508.05 L84.02,507.44 L84.83,506.62 L85.62,505.70 L86.39,504.77 L87.14,503.86 L87.88,502.96 L88.60,502.07 L89.30,501.18 L89.99,500.30 L90.66,499.41 L91.31,498.53 L91.94,497.63 L92.55,496.72 L93.13,495.80 L93.70,494.86 L94.25,493.91 L94.78,492.95 L95.29,491.98 L95.79,491.00 L96.28,490.01 L96.75,489.01 L97.22,488.01 L97.67,486.99 L98.12,485.98 L98.56,484.95 L99.00,483.93 L99.43,482.90 L99.86,481.87 L100.30,480.84 L100.73,479.81 L101.16,478.78 L101.60,477.75 L102.05,476.73 L102.50,475.71 L102.96,474.69 L103.42,473.68 L103.90,472.67 L104.40,471.68 L104.90,470.69 L105.42,469.71 L105.96,468.74 L106.51,467.78 L107.09,466.84 L107.69,465.91 L108.30,464.99 L108.95,464.09 L109.61,463.20 L110.31,462.33 L111.02,461.48 L111.77,460.64 L112.53,459.83 L113.32,459.04 L114.13,458.27 L114.97,457.52 L115.82,456.80 L116.70,456.10 L117.59,455.43 L118.50,454.79 L119.43,454.18 L120.38,453.60 L121.35,453.05 L122.33,452.53 L123.33,452.04 L124.34,451.59 L125.36,451.17 L126.40,450.80 L127.45,450.46 L128.52,450.15 L129.59,449.89 L130.67,449.67 L131.76,449.50 L132.85,449.37 L133.94,449.29 L135.04,449.26 L136.13,449.29 L137.21,449.37 L138.29,449.50 L139.37,449.70 L140.43,449.95 L141.48,450.27 L142.51,450.65 L143.53,451.10 L144.53,451.62 L145.50,452.21 L146.46,452.86 L147.40,453.57 L148.33,454.30 L149.25,455.01 L150.19,455.68 L151.15,456.25 L152.13,456.69 L153.16,456.94 L154.25,456.94 L155.39,456.72 L156.53,456.43 L157.63,456.28 L158.65,456.42 L159.59,456.84 L160.46,457.44 L161.28,458.14 L162.05,458.89 L162.79,459.68 L163.49,460.51 L164.16,461.38 L164.79,462.28 L165.40,463.22 L165.98,464.17 L166.54,465.15 L167.08,466.15 L167.60,467.16 L168.10,468.19 L168.60,469.21 L169.08,470.24 L169.55,471.27 L170.02,472.30 L170.48,473.32 L170.94,474.34 L171.40,475.36 L171.85,476.38 L172.29,477.39 L172.74,478.40 L173.18,479.41 L173.62,480.42 L174.05,481.43 L174.48,482.43 L174.92,483.44 L175.35,484.45 L175.78,485.46 L176.20,486.47 L176.63,487.48 L177.06,488.49 L177.49,489.51 L177.92,490.52 L178.35,491.54 L178.78,492.56 L179.21,493.59 L179.65,494.62 L180.08,495.65 L180.52,496.68 L180.97,497.72 L181.41,498.75 L181.86,499.79 L182.31,500.82 L182.77,501.85 L183.23,502.88 L183.69,503.91 L184.16,504.93 L184.64,505.95 L185.12,506.97 L185.60,507.97 L186.09,508.97 L186.59,509.97 L187.09,510.96 L187.60,511.94 L188.12,512.90 L188.64,513.86 L189.17,514.81 L189.71,515.75 L190.26,516.69 L190.82,517.61 L191.39,518.53 L191.97,519.44 L192.57,520.35 L193.17,521.26 L193.80,522.16 L194.44,523.06 L195.09,523.97 L195.76,524.87 L196.45,525.77 L197.16,526.68 L197.89,527.59 L198.64,528.49 L199.41,529.37 L200.20,530.23 L201.01,531.05 L201.84,531.84 L202.69,532.57 L203.57,533.25 L204.47,533.86 L205.39,534.39 L206.33,534.84 L207.30,535.20 L208.29,535.46 L209.31,535.61 L210.35,535.64 L211.41,535.54 L212.49,535.33 L213.58,535.01 L214.66,534.60 L215.73,534.11 L216.77,533.55 L217.78,532.95 L218.74,532.31 L219.65,531.64 L220.51,530.95 L221.35,530.24 L222.16,529.52 L222.95,528.79 L223.74,528.04 L224.53,527.30 L225.33,526.56 L226.15,525.82 L226.99,525.08 L227.83,524.34 L228.67,523.60 L229.51,522.84 L230.34,522.08 L231.16,521.31 L231.95,520.52 L232.72,519.71 L233.46,518.87 L234.17,518.02 L234.85,517.15 L235.51,516.26 L236.14,515.36 L236.77,514.44 L237.38,513.52 L237.98,512.59 L238.57,511.65 L239.17,510.72 L239.76,509.78 L240.36,508.85 L240.98,507.93 L241.60,507.01 L242.24,506.10 L242.91,505.21 L243.59,504.33 L244.29,503.46 L245.01,502.61 L245.75,501.78 L246.51,500.96 L247.28,500.16 L248.08,499.38 L248.89,498.62 L249.71,497.88 L250.56,497.16 L251.42,496.46 L252.30,495.78 L253.20,495.13 L254.11,494.50 L255.03,493.89 L255.98,493.31 L256.93,492.75 L257.90,492.22 L258.89,491.72 L259.89,491.25 L260.91,490.81 L261.93,490.40 L262.97,490.01 L264.03,489.66 L265.10,489.34 L266.17,489.05 L267.25,488.75 L268.32,488.45 L269.39,488.11 L270.43,487.73 L271.45,487.29 L272.46,486.81 L273.47,486.32 L274.48,485.85 L275.51,485.42 L276.56,485.06 L277.64,484.78 L278.75,484.61 L279.86,484.55 L280.98,484.63 L282.11,484.84 L283.23,485.15 L284.34,485.44 L285.43,485.61 L286.50,485.59 L287.54,485.40 L288.55,485.06 L289.54,484.58 L290.49,484.00 L291.41,483.33 L292.28,482.59 L293.12,481.81 L293.91,481.00 L294.66,480.17 L295.37,479.32 L296.04,478.45 L296.67,477.57 L297.28,476.67 L297.85,475.76 L298.40,474.83 L298.93,473.88 L299.43,472.93 L299.91,471.96 L300.38,470.97 L300.84,469.98 L301.28,468.98 L301.72,467.97 L302.15,466.94 L302.58,465.91 L303.01,464.88 L303.43,463.83 L303.85,462.78 L304.26,461.72 L304.67,460.66 L305.08,459.60 L305.48,458.53 L305.88,457.46 L306.27,456.38 L306.66,455.31 L307.05,454.23 L307.43,453.15 L307.81,452.08 L308.18,451.00 L308.55,449.93 L308.92,448.86 L309.28,447.79 L309.63,446.73 L309.99,445.67 L310.33,444.61 L310.68,443.56 L311.01,442.52 L311.35,441.49 L311.68,440.46 L312.00,439.44 L312.32,438.43 L312.64,437.43 L312.95,436.45 L313.25,435.47 L313.56,434.50 L313.85,433.54 L314.15,432.58 L314.44,431.61 L314.74,430.62 L315.04,429.61 L315.34,428.56 L315.65,427.48 L315.97,426.35 L316.30,425.16 L316.63,423.91 L316.98,422.59 L317.35,421.20 L317.73,419.77 L318.13,418.37 L318.57,417.07 L319.05,415.96 L319.57,415.10 L320.15,414.57 L320.78,414.45 L321.48,414.78 L322.20,415.51 L322.91,416.50 L323.55,417.64 L324.09,418.82 L324.50,419.97 L324.81,421.11 L325.02,422.23 L325.15,423.33 L325.22,424.43 L325.24,425.52 L325.22,426.60 L325.18,427.69 L325.13,428.77 L325.09,429.86 L325.06,430.95 L325.05,432.05 L325.05,433.16 L325.07,434.26 L325.10,435.38 L325.14,436.49 L325.20,437.60 L325.26,438.72 L325.34,439.84 L325.43,440.95 L325.53,442.07 L325.64,443.19 L325.76,444.30 L325.88,445.41 L326.02,446.52 L326.16,447.63 L326.31,448.73 L326.47,449.82 L326.63,450.92 L326.80,452.00 L326.78,470.00 L326.61,470.97 L326.44,471.94 L326.27,472.91 L326.10,473.88 L325.92,474.86 L325.75,475.83 L325.57,476.80 L325.39,477.78 L325.21,478.75 L325.02,479.72 L324.84,480.70 L324.65,481.67 L324.45,482.64 L324.26,483.61 L324.06,484.58 L323.86,485.55 L323.65,486.52 L323.44,487.49 L323.22,488.45 L323.00,489.42 L322.78,490.38 L322.55,491.34 L322.32,492.30 L322.08,493.26 L321.84,494.21 L321.59,495.16 L321.33,496.12 L321.07,497.06 L320.81,498.01 L320.54,498.95 L320.26,499.90 L319.98,500.84 L319.70,501.78 L319.41,502.72 L319.13,503.66 L318.84,504.61 L318.56,505.55 L318.27,506.50 L317.99,507.46 L317.71,508.41 L317.44,509.38 L317.17,510.35 L316.91,511.32 L316.65,512.30 L316.38,513.28 L316.08,514.24 L315.75,515.18 L315.38,516.10 L314.95,516.99 L314.45,517.84 L313.88,518.65 L313.22,519.40 L312.47,520.09 L311.65,520.71 L310.76,521.23 L309.83,521.64 L308.87,521.93 L307.90,522.08 L306.93,522.07 L305.97,521.93 L305.02,521.66 L304.08,521.30 L303.16,520.86 L302.25,520.37 L301.37,519.85 L300.49,519.31 L299.62,518.79 L298.75,518.29 L297.87,517.84 L296.98,517.45 L296.06,517.14 L295.12,516.93 L294.16,516.79 L293.18,516.72 L292.19,516.69 L291.20,516.69 L290.20,516.70 L289.21,516.71 L288.23,516.72 L287.25,516.72 L286.27,516.72 L285.29,516.69 L284.32,516.64 L283.35,516.57 L282.39,516.46 L281.43,516.32 L280.47,516.14 L279.51,515.93 L278.56,515.69 L277.61,515.42 L276.66,515.13 L275.71,514.82 L274.76,514.49 L273.81,514.16 L272.86,513.82 L271.92,513.48 L270.97,513.14 L270.02,512.81 L269.07,512.49 L268.12,512.18 L267.17,511.89 L266.21,511.63 L265.25,511.39 L264.29,511.18 L263.33,511.01 L262.37,510.88 L261.40,510.79 L260.42,510.75 L259.44,510.77 L258.46,510.83 L257.47,510.96 L256.49,511.14 L255.52,511.38 L254.56,511.67 L253.62,512.02 L252.70,512.42 L251.82,512.88 L250.96,513.39 L250.15,513.95 L249.38,514.57 L248.66,515.24 L248.00,515.95 L247.40,516.72 L246.85,517.54 L246.34,518.38 L245.84,519.24 L245.35,520.11 L244.84,520.97 L244.28,521.80 L243.67,522.59 L243.00,523.34 L242.28,524.06 L241.53,524.75 L240.76,525.43 L240.00,526.10 L239.25,526.78 L238.51,527.45 L237.79,528.13 L237.08,528.81 L236.38,529.50 L235.69,530.18 L235.02,530.88 L234.35,531.57 L233.68,532.27 L233.03,532.97 L232.38,533.68 L231.73,534.39 L231.08,535.10 L230.44,535.82 L229.80,536.55 L229.15,537.28 L228.51,538.01 L227.86,538.75 L227.20,539.50 L226.55,540.25 L225.88,541.01 L225.21,541.77 L224.53,542.54 L223.84,543.30 L223.14,544.06 L222.43,544.81 L221.71,545.54 L220.98,546.26 L220.23,546.95 L219.47,547.61 L218.70,548.25 L217.91,548.84 L217.11,549.40 L216.29,549.91 L215.46,550.37 L214.61,550.78 L213.74,551.13 L212.85,551.41 L211.94,551.63 L211.01,551.78 L210.06,551.85 L209.10,551.85 L208.12,551.78 L207.15,551.64 L206.17,551.43 L205.20,551.15 L204.25,550.82 L203.31,550.42 L202.40,549.97 L201.53,549.45 L200.68,548.89 L199.88,548.28 L199.13,547.61 L198.43,546.90 L197.79,546.15 L197.22,545.35 L196.70,544.52 L196.22,543.66 L195.77,542.78 L195.35,541.88 L194.94,540.98 L194.52,540.08 L194.10,539.18 L193.67,538.28 L193.24,537.39 L192.79,536.50 L192.34,535.62 L191.89,534.74 L191.42,533.86 L190.95,532.99 L190.48,532.12 L190.00,531.25 L189.51,530.39 L189.02,529.53 L188.52,528.68 L188.02,527.82 L187.51,526.97 L187.00,526.12 L186.48,525.28 L185.96,524.44 L185.44,523.60 L184.91,522.76 L184.38,521.92 L183.84,521.09 L183.30,520.26 L182.76,519.43 L182.22,518.61 L181.67,517.79 L181.12,516.97 L180.57,516.15 L180.02,515.33 L179.46,514.51 L178.91,513.69 L178.35,512.88 L177.80,512.06 L177.25,511.24 L176.70,510.42 L176.15,509.60 L175.60,508.78 L175.06,507.96 L174.52,507.13 L173.98,506.31 L173.45,505.48 L172.92,504.64 L172.40,503.81 L171.88,502.96 L171.37,502.12 L170.86,501.27 L170.36,500.42 L169.87,499.56 L169.39,498.69 L168.91,497.82 L168.44,496.95 L167.98,496.07 L167.51,495.19 L167.05,494.32 L166.58,493.44 L166.11,492.57 L165.64,491.70 L165.16,490.83 L164.68,489.97 L164.18,489.12 L163.68,488.28 L163.16,487.44 L162.63,486.62 L162.09,485.81 L161.52,485.01 L160.94,484.23 L160.34,483.46 L159.72,482.71 L159.07,481.97 L158.41,481.26 L157.72,480.55 L157.02,479.86 L156.30,479.17 L155.57,478.50 L154.83,477.82 L154.08,477.16 L153.32,476.49 L152.55,475.83 L151.77,475.16 L150.99,474.50 L150.21,473.88 L149.40,473.33 L148.59,472.88 L147.75,472.57 L146.88,472.41 L145.99,472.46 L145.06,472.71 L144.12,473.13 L143.17,473.66 L142.23,474.24 L141.31,474.81 L140.42,475.32 L139.55,475.76 L138.69,476.14 L137.82,476.47 L136.93,476.75 L136.00,477.00 L135.04,477.21 L134.05,477.40 L133.04,477.58 L132.02,477.76 L131.00,477.94 L129.98,478.13 L128.97,478.35 L127.97,478.60 L127.01,478.88 L126.07,479.21 L125.15,479.58 L124.26,479.99 L123.40,480.44 L122.56,480.92 L121.74,481.44 L120.95,481.98 L120.17,482.56 L119.41,483.16 L118.67,483.79 L117.95,484.45 L117.24,485.12 L116.55,485.81 L115.87,486.52 L115.20,487.25 L114.54,487.99 L113.89,488.74 L113.25,489.50 L112.61,490.27 L111.98,491.04 L111.36,491.82 L110.74,492.60 L110.12,493.38 L109.50,494.16 L108.88,494.93 L108.27,495.70 L107.65,496.47 L107.04,497.24 L106.42,498.01 L105.81,498.77 L105.20,499.53 L104.58,500.29 L103.97,501.06 L103.36,501.82 L102.75,502.58 L102.14,503.34 L101.53,504.11 L100.92,504.87 L100.32,505.64 L99.71,506.40 L99.10,507.17 L98.50,507.94 L97.89,508.72 L97.29,509.50 L96.68,510.28 L96.08,511.06 L95.48,511.85 L94.88,512.65 L94.27,513.44 L93.67,514.25 L93.07,515.05 L92.48,515.86 L91.88,516.67 L91.28,517.49 L90.68,518.31 L90.09,519.12 L89.49,519.94 L88.90,520.76 L88.30,521.58 L87.71,522.39 L87.11,523.21 L86.52,524.02 L85.93,524.83 L85.34,525.63 L84.75,526.43 L84.16,527.23 L83.57,528.02 L82.98,528.80 L82.39,529.58 L81.80,530.35 L81.22,531.11 L80.63,531.86 L80.04,532.61 L79.46,533.34 L78.87,534.06 L78.29,534.78 L77.70,535.48 L77.13,536.12 L76.61,536.38 L76.18,536.05 L75.84,535.24 L75.58,534.12 L75.38,532.85 L75.24,531.58 L75.14,530.37 L75.06,529.22 L75.00,528.12 L74.93,527.07 L74.85,526.07 L74.73,525.11 L74.57,524.19 L74.35,523.30 L74.06,522.45 L73.68,521.62 L73.19,520.83 L72.59,520.05 Z" fill="#cccccc" stroke="#8c8c8c" stroke-width="1.1" stroke-linejoin="round"/>
<path d="M73.70,497.01 L73.75,497.66 L73.79,498.29 L73.83,498.91 L73.87,499.53 L73.90,500.14 L73.93,500.74 L73.96,501.34 L73.99,501.93 L74.03,502.52 L74.06,503.11 L74.10,503.71 L74.14,504.30 L74.19,504.90 L74.25,505.50 L74.31,506.11 L74.39,506.72 L74.48,507.34 L74.57,507.97 L74.68,508.62 L74.81,509.27 L74.95,509.94 L75.11,510.62 L75.28,511.30 L75.47,511.98 L75.68,512.65 L75.91,513.32 L76.15,513.97 L76.41,514.61 L76.70,515.22 L77.00,515.81 L77.33,516.37 L77.67,516.90 L78.04,517.38 L78.43,517.83 L78.84,518.22 L79.27,518.57 L79.73,518.86 L80.22,519.09 L80.72,519.26 L81.25,519.38 L81.79,519.44 L82.35,519.45 L82.92,519.41 L83.49,519.33 L84.07,519.21 L84.65,519.05 L85.22,518.86 L85.79,518.65 L86.36,518.40 L86.91,518.14 L87.44,517.85 L87.96,517.54 L88.48,517.22 L88.97,516.87 L89.46,516.51 L89.94,516.13 L90.40,515.74 L90.86,515.33 L91.30,514.90 L91.73,514.46 L92.16,514.01 L92.58,513.54 L92.98,513.07 L93.38,512.58 L93.77,512.08 L94.16,511.58 L94.53,511.06 L94.90,510.54 L95.26,510.01 L95.62,509.47 L95.97,508.93 L96.32,508.38 L96.66,507.83 L96.99,507.27 L97.33,506.72 L97.65,506.16 L97.98,505.60 L98.30,505.03 L98.62,504.47 L98.93,503.90 L99.24,503.34 L99.55,502.77 L99.86,502.20 L100.16,501.64 L100.47,501.07 L100.77,500.50 L101.06,499.93 L101.36,499.36 L101.66,498.79 L101.95,498.22 L102.24,497.65 L102.53,497.08 L102.82,496.51 L103.11,495.94 L103.40,495.37 L103.69,494.81 L103.98,494.24 L104.27,493.67 L104.56,493.11 L104.85,492.54 L105.14,491.98 L105.43,491.42 L105.72,490.86 L106.02,490.30 L106.31,489.75 L106.61,489.19 L106.90,488.64 L107.20,488.09 L107.50,487.54 L107.81,486.99 L108.11,486.45 L108.42,485.91 L108.73,485.37 L109.04,484.84 L109.36,484.30 L109.68,483.77 L110.00,483.24 L110.33,482.72 L110.66,482.20 L110.99,481.68 L111.33,481.17 L111.67,480.66 L112.02,480.15 L112.37,479.65 L112.72,479.15 L113.08,478.66 L113.45,478.17 L113.82,477.68 L114.19,477.20 L114.58,476.72 L114.96,476.25 L115.36,475.78 L115.76,475.32 L116.16,474.86 L116.57,474.41 L116.99,473.96 L117.42,473.52 L117.85,473.08 L118.29,472.65 L118.73,472.22 L119.19,471.80 L119.65,471.39 L120.12,470.98 L120.59,470.58 L121.07,470.18 L121.56,469.79 L122.06,469.41 L122.56,469.03 L123.06,468.66 L123.58,468.30 L124.09,467.94 L124.62,467.59 L125.15,467.25 L125.68,466.91 L126.22,466.58 L126.76,466.26 L127.31,465.95 L127.87,465.64 L128.42,465.34 L128.99,465.05 L129.55,464.77 L130.12,464.49 L130.70,464.21 L131.27,463.94 L131.85,463.67 L132.44,463.42 L133.03,463.17 L133.62,462.93 L134.21,462.70 L134.81,462.47 L135.40,462.26 L136.01,462.06 L136.61,461.86 L137.22,461.67 L137.82,461.49 L138.43,461.32 L139.05,461.16 L139.66,461.01 L140.28,460.87 L140.89,460.73 L141.51,460.61 L142.13,460.49 L142.75,460.38 L143.37,460.28 L143.99,460.20 L144.62,460.12 L145.24,460.05 L145.86,459.99 L146.49,459.93 L147.11,459.89 L147.74,459.86 L148.36,459.84 L148.99,459.83 L149.61,459.82 L150.24,459.85 L150.86,459.91 L151.48,459.99 L152.10,460.07 L152.72,460.18 L153.33,460.29 L153.93,460.43 L154.53,460.58 L155.12,460.75 L155.71,460.94 L156.28,461.16 L156.84,461.40 L157.39,461.66 L157.93,461.95 L158.45,462.27 L158.96,462.62 L159.46,463.00 L159.93,463.41 L160.40,463.85 L160.84,464.32 L161.27,464.80 L161.69,465.31 L162.09,465.83 L162.48,466.36 L162.86,466.90 L163.22,467.44 L163.58,467.99 L163.92,468.54 L164.25,469.09 L164.57,469.65 L164.89,470.21 L165.19,470.77 L165.49,471.32 L165.78,471.88 L166.06,472.44 L166.34,473.00 L166.61,473.56 L166.87,474.13 L167.14,474.69 L167.39,475.26 L167.65,475.83 L167.90,476.40 L168.15,476.98 L168.39,477.55 L168.64,478.12 L168.88,478.70 L169.13,479.27 L169.37,479.85 L169.62,480.42 L169.87,481.00 L170.12,481.57 L170.37,482.15 L170.62,482.72 L170.88,483.29 L171.13,483.86 L171.39,484.44 L171.64,485.01 L171.90,485.58 L172.16,486.15 L172.42,486.72 L172.68,487.29 L172.94,487.86 L173.21,488.43 L173.47,489.00 L173.73,489.57 L174.00,490.14 L174.27,490.71 L174.53,491.27 L174.80,491.84 L175.07,492.41 L175.34,492.97 L175.61,493.54 L175.88,494.10 L176.15,494.67 L176.42,495.23 L176.69,495.80 L176.96,496.36 L177.23,496.92 L177.51,497.49 L177.78,498.05 L178.05,498.61 L178.32,499.17 L178.60,499.73 L178.87,500.29 L179.14,500.85 L179.42,501.41 L179.69,501.97 L179.96,502.53 L180.24,503.08 L180.51,503.64 L180.79,504.20 L181.06,504.75 L181.34,505.31 L181.61,505.86 L181.89,506.41 L182.17,506.97 L182.45,507.52 L182.73,508.07 L183.01,508.62 L183.30,509.17 L183.58,509.72 L183.87,510.27 L184.16,510.82 L184.45,511.36 L184.74,511.91 L185.03,512.46 L185.33,513.00 L185.62,513.54 L185.92,514.09 L186.23,514.63 L186.53,515.17 L186.84,515.71 L187.14,516.25 L187.46,516.79 L187.77,517.32 L188.09,517.86 L188.41,518.40 L188.73,518.93 L189.06,519.46 L189.39,520.00 L189.72,520.53 L190.06,521.06 L190.39,521.59 L190.74,522.11 L191.08,522.64 L191.43,523.17 L191.79,523.69 L192.15,524.21 L192.51,524.74 L192.87,525.26 L193.24,525.78 L193.62,526.30 L194.00,526.81 L194.38,527.33 L194.77,527.84 L195.16,528.34 L195.56,528.84 L195.97,529.34 L196.38,529.83 L196.80,530.30 L197.22,530.77 L197.65,531.23 L198.09,531.68 L198.54,532.12 L198.99,532.55 L199.45,532.96 L199.92,533.36 L200.40,533.74 L200.89,534.11 L201.38,534.46 L201.89,534.79 L202.40,535.11 L202.92,535.40 L203.46,535.68 L204.00,535.93 L204.56,536.16 L205.12,536.37 L205.70,536.56 L206.29,536.72 L206.89,536.85 L207.50,536.96 L208.12,537.04 L208.76,537.10 L209.39,537.13 L210.03,537.13 L210.67,537.10 L211.32,537.05 L211.95,536.97 L212.59,536.86 L213.21,536.73 L213.83,536.57 L214.43,536.38 L215.02,536.16 L215.59,535.92 L216.15,535.65 L216.69,535.36 L217.23,535.05 L217.75,534.72 L218.27,534.37 L218.78,534.01 L219.27,533.64 L219.77,533.26 L220.25,532.86 L220.73,532.46 L221.21,532.06 L221.69,531.65 L222.16,531.23 L222.63,530.82 L223.10,530.41 L223.57,529.99 L224.04,529.58 L224.51,529.16 L224.97,528.74 L225.44,528.33 L225.90,527.91 L226.36,527.48 L226.82,527.06 L227.27,526.64 L227.73,526.21 L228.18,525.78 L228.63,525.36 L229.08,524.92 L229.53,524.49 L229.97,524.06 L230.41,523.62 L230.85,523.18 L231.29,522.74 L231.72,522.30 L232.16,521.85 L232.59,521.40 L233.01,520.95 L233.44,520.50 L233.86,520.04 L234.28,519.58 L234.70,519.12 L235.11,518.65 L235.52,518.19 L235.93,517.72 L236.33,517.24 L236.73,516.76 L237.13,516.28 L237.53,515.80 L237.92,515.31 L238.31,514.83 L238.70,514.34 L239.08,513.85 L239.47,513.35 L239.86,512.86 L240.24,512.37 L240.63,511.87 L241.01,511.38 L241.40,510.89 L241.78,510.40 L242.17,509.90 L242.56,509.42 L242.95,508.93 L243.35,508.44 L243.74,507.96 L244.14,507.48 L244.54,507.01 L244.95,506.54 L245.36,506.07 L245.77,505.60 L246.19,505.15 L246.61,504.69 L247.04,504.24 L247.48,503.80 L247.92,503.36 L248.36,502.93 L248.82,502.51 L249.28,502.09 L249.74,501.69 L250.22,501.29 L250.70,500.89 L251.19,500.51 L251.69,500.13 L252.20,499.77 L252.72,499.41 L253.24,499.06 L253.78,498.73 L254.33,498.40 L254.88,498.09 L255.44,497.79 L256.01,497.50 L256.59,497.22 L257.18,496.96 L257.77,496.72 L258.36,496.49 L258.96,496.28 L259.56,496.08 L260.17,495.91 L260.78,495.75 L261.39,495.62 L262.01,495.50 L262.62,495.41 L263.24,495.33 L263.85,495.29 L264.47,495.26 L265.08,495.26 L265.69,495.28 L266.31,495.32 L266.91,495.39 L267.52,495.48 L268.13,495.58 L268.73,495.71 L269.33,495.85 L269.93,496.01 L270.53,496.18 L271.12,496.37 L271.71,496.57 L272.30,496.78 L272.89,497.00 L273.47,497.23 L274.05,497.48 L274.63,497.72 L275.20,497.98 L275.77,498.24 L276.34,498.50 L276.91,498.77 L277.47,499.04 L278.03,499.31 L278.59,499.58 L279.15,499.86 L279.70,500.14 L280.26,500.41 L280.81,500.69 L281.37,500.97 L281.93,501.24 L282.49,501.51 L283.05,501.79 L283.61,502.06 L284.18,502.32 L284.75,502.58 L285.33,502.84 L285.90,503.10 L286.49,503.35 L287.07,503.59 L287.67,503.83 L288.27,504.06 L288.87,504.28 L289.48,504.49 L290.09,504.68 L290.71,504.86 L291.32,505.02 L291.94,505.16 L292.56,505.28 L293.18,505.37 L293.80,505.44 L294.41,505.48 L295.02,505.48 L295.63,505.45 L296.23,505.38 L296.82,505.27 L297.40,505.12 L297.98,504.94 L298.54,504.73 L299.10,504.48 L299.64,504.21 L300.18,503.91 L300.71,503.59 L301.22,503.25 L301.73,502.89 L302.22,502.51 L302.70,502.12 L303.16,501.72 L303.62,501.31 L304.07,500.88 L304.50,500.44 L304.93,499.99 L305.34,499.53 L305.75,499.06 L306.14,498.58 L306.53,498.09 L306.91,497.60 L307.28,497.09 L307.65,496.58 L308.01,496.06 L308.36,495.53 L308.70,495.00 L309.04,494.46 L309.38,493.92 L309.70,493.37 L310.03,492.82 L310.35,492.26 L310.66,491.70 L310.97,491.14 L311.28,490.58 L311.59,490.02 L311.89,489.45 L312.19,488.89 L312.49,488.32 L312.79,487.76 L313.08,487.19 L313.38,486.63 L313.68,486.07 L313.97,485.52 L314.27,484.96 L314.57,484.41 L314.87,483.86 L315.17,483.32 L315.47,482.77 L315.78,482.24 L316.09,481.70 L316.40,481.17 L316.72,480.64 L317.04,480.12 L317.37,479.60 L317.70,479.09 L318.04,478.58 L318.39,478.07 L318.74,477.57 L319.10,477.08 L319.47,476.59 L319.84,476.10 L320.23,475.62 L320.62,475.15 L321.03,474.68 L321.44,474.22 L321.86,473.77 L322.30,473.32 L322.74,472.88 L323.20,472.45 L323.67,472.02 L324.15,471.60 L324.65,471.19 L324.65,477.61 L324.15,478.02 L323.67,478.44 L323.20,478.87 L322.74,479.30 L322.30,479.74 L321.86,480.19 L321.44,480.65 L321.03,481.11 L320.62,481.57 L320.23,482.05 L319.84,482.53 L319.47,483.01 L319.10,483.50 L318.74,484.00 L318.39,484.50 L318.04,485.00 L317.70,485.51 L317.37,486.03 L317.04,486.55 L316.72,487.07 L316.40,487.60 L316.09,488.13 L315.78,488.67 L315.47,489.21 L315.17,489.75 L314.87,490.30 L314.57,490.85 L314.27,491.40 L313.97,491.96 L313.68,492.51 L313.38,493.07 L313.08,493.64 L312.79,494.20 L312.49,494.76 L312.19,495.33 L311.89,495.90 L311.59,496.46 L311.28,497.03 L310.97,497.59 L310.66,498.15 L310.35,498.71 L310.03,499.26 L309.70,499.82 L309.38,500.37 L309.04,500.91 L308.70,501.45 L308.36,501.98 L308.01,502.51 L307.65,503.03 L307.28,503.55 L306.91,504.05 L306.53,504.55 L306.14,505.04 L305.75,505.52 L305.34,505.99 L304.93,506.45 L304.50,506.90 L304.07,507.34 L303.62,507.77 L303.16,508.19 L302.70,508.59 L302.22,508.98 L301.73,509.35 L301.22,509.72 L300.71,510.06 L300.18,510.38 L299.64,510.68 L299.10,510.96 L298.54,511.20 L297.98,511.42 L297.40,511.60 L296.82,511.75 L296.23,511.86 L295.63,511.93 L295.02,511.96 L294.41,511.96 L293.80,511.93 L293.18,511.86 L292.56,511.77 L291.94,511.65 L291.32,511.51 L290.71,511.35 L290.09,511.18 L289.48,510.98 L288.87,510.78 L288.27,510.56 L287.67,510.33 L287.07,510.09 L286.49,509.85 L285.90,509.60 L285.33,509.35 L284.75,509.09 L284.18,508.83 L283.61,508.57 L283.05,508.30 L282.49,508.03 L281.93,507.76 L281.37,507.48 L280.81,507.21 L280.26,506.93 L279.70,506.66 L279.15,506.38 L278.59,506.11 L278.03,505.84 L277.47,505.56 L276.91,505.30 L276.34,505.03 L275.77,504.77 L275.20,504.51 L274.63,504.26 L274.05,504.01 L273.47,503.77 L272.89,503.54 L272.30,503.32 L271.71,503.11 L271.12,502.91 L270.53,502.73 L269.93,502.55 L269.33,502.40 L268.73,502.26 L268.13,502.13 L267.52,502.03 L266.91,501.94 L266.31,501.88 L265.69,501.84 L265.08,501.82 L264.47,501.82 L263.85,501.85 L263.24,501.90 L262.62,501.97 L262.01,502.07 L261.39,502.18 L260.78,502.32 L260.17,502.48 L259.56,502.66 L258.96,502.85 L258.36,503.06 L257.77,503.29 L257.18,503.54 L256.59,503.80 L256.01,504.08 L255.44,504.37 L254.88,504.67 L254.33,504.98 L253.78,505.31 L253.24,505.65 L252.72,506.00 L252.20,506.36 L251.69,506.72 L251.19,507.10 L250.70,507.48 L250.22,507.88 L249.74,508.28 L249.28,508.69 L248.82,509.11 L248.36,509.53 L247.92,509.96 L247.48,510.40 L247.04,510.84 L246.61,511.29 L246.19,511.75 L245.77,512.21 L245.36,512.67 L244.95,513.14 L244.54,513.61 L244.14,514.09 L243.74,514.57 L243.35,515.05 L242.95,515.54 L242.56,516.03 L242.17,516.52 L241.78,517.01 L241.40,517.50 L241.01,518.00 L240.63,518.49 L240.24,518.98 L239.86,519.48 L239.47,519.97 L239.08,520.47 L238.70,520.96 L238.31,521.45 L237.92,521.94 L237.53,522.42 L237.13,522.91 L236.73,523.39 L236.33,523.87 L235.93,524.34 L235.52,524.81 L235.11,525.28 L234.70,525.75 L234.28,526.21 L233.86,526.67 L233.44,527.13 L233.01,527.58 L232.59,528.04 L232.16,528.49 L231.72,528.93 L231.29,529.38 L230.85,529.82 L230.41,530.26 L229.97,530.70 L229.53,531.13 L229.08,531.57 L228.63,532.00 L228.18,532.43 L227.73,532.86 L227.27,533.29 L226.82,533.71 L226.36,534.14 L225.90,534.56 L225.44,534.98 L224.97,535.40 L224.51,535.82 L224.04,536.24 L223.57,536.65 L223.10,537.07 L222.63,537.48 L222.16,537.90 L221.69,538.31 L221.21,538.72 L220.73,539.13 L220.25,539.53 L219.77,539.92 L219.27,540.31 L218.78,540.68 L218.27,541.05 L217.75,541.39 L217.23,541.72 L216.69,542.03 L216.15,542.32 L215.59,542.59 L215.02,542.84 L214.43,543.06 L213.83,543.25 L213.21,543.41 L212.59,543.55 L211.95,543.66 L211.32,543.74 L210.67,543.79 L210.03,543.82 L209.39,543.82 L208.76,543.79 L208.12,543.74 L207.50,543.66 L206.89,543.55 L206.29,543.42 L205.70,543.26 L205.12,543.08 L204.56,542.87 L204.00,542.64 L203.46,542.39 L202.92,542.11 L202.40,541.82 L201.89,541.50 L201.38,541.17 L200.89,540.82 L200.40,540.46 L199.92,540.07 L199.45,539.68 L198.99,539.27 L198.54,538.84 L198.09,538.40 L197.65,537.96 L197.22,537.50 L196.80,537.03 L196.38,536.55 L195.97,536.06 L195.56,535.57 L195.16,535.07 L194.77,534.57 L194.38,534.06 L194.00,533.54 L193.62,533.03 L193.24,532.51 L192.87,531.99 L192.51,531.47 L192.15,530.95 L191.79,530.43 L191.43,529.90 L191.08,529.38 L190.74,528.85 L190.39,528.32 L190.06,527.80 L189.72,527.27 L189.39,526.74 L189.06,526.21 L188.73,525.67 L188.41,525.14 L188.09,524.60 L187.77,524.07 L187.46,523.53 L187.14,523.00 L186.84,522.46 L186.53,521.92 L186.23,521.38 L185.92,520.84 L185.62,520.29 L185.33,519.75 L185.03,519.21 L184.74,518.66 L184.45,518.12 L184.16,517.57 L183.87,517.02 L183.58,516.48 L183.30,515.93 L183.01,515.38 L182.73,514.83 L182.45,514.28 L182.17,513.73 L181.89,513.17 L181.61,512.62 L181.34,512.07 L181.06,511.51 L180.79,510.96 L180.51,510.40 L180.24,509.85 L179.96,509.29 L179.69,508.73 L179.42,508.17 L179.14,507.62 L178.87,507.06 L178.60,506.50 L178.32,505.94 L178.05,505.38 L177.78,504.82 L177.51,504.26 L177.23,503.69 L176.96,503.13 L176.69,502.57 L176.42,502.01 L176.15,501.44 L175.88,500.88 L175.61,500.31 L175.34,499.75 L175.07,499.18 L174.80,498.62 L174.53,498.05 L174.27,497.48 L174.00,496.92 L173.73,496.35 L173.47,495.78 L173.21,495.21 L172.94,494.64 L172.68,494.07 L172.42,493.50 L172.16,492.93 L171.90,492.36 L171.64,491.79 L171.39,491.22 L171.13,490.65 L170.88,490.08 L170.62,489.50 L170.37,488.93 L170.12,488.36 L169.87,487.79 L169.62,487.21 L169.37,486.64 L169.13,486.06 L168.88,485.49 L168.64,484.92 L168.39,484.34 L168.15,483.77 L167.90,483.20 L167.65,482.63 L167.39,482.06 L167.14,481.49 L166.87,480.92 L166.61,480.36 L166.34,479.79 L166.06,479.23 L165.78,478.67 L165.49,478.12 L165.19,477.57 L164.89,477.03 L164.57,476.50 L164.25,475.98 L163.92,475.47 L163.58,474.96 L163.22,474.45 L162.86,473.95 L162.48,473.46 L162.09,472.98 L161.69,472.50 L161.27,472.05 L160.84,471.61 L160.40,471.20 L159.93,470.82 L159.46,470.46 L158.96,470.14 L158.45,469.86 L157.93,469.60 L157.39,469.37 L156.84,469.18 L156.28,469.00 L155.71,468.86 L155.12,468.74 L154.53,468.63 L153.93,468.55 L153.33,468.49 L152.72,468.45 L152.10,468.42 L151.48,468.41 L150.86,468.41 L150.24,468.42 L149.61,468.39 L148.99,468.35 L148.36,468.32 L147.74,468.30 L147.11,468.29 L146.49,468.29 L145.86,468.30 L145.24,468.31 L144.62,468.34 L143.99,468.37 L143.37,468.42 L142.75,468.47 L142.13,468.54 L141.51,468.61 L140.89,468.69 L140.28,468.78 L139.66,468.88 L139.05,468.99 L138.43,469.11 L137.82,469.24 L137.22,469.38 L136.61,469.52 L136.01,469.68 L135.40,469.84 L134.81,470.01 L134.21,470.19 L133.62,470.38 L133.03,470.58 L132.44,470.79 L131.85,471.00 L131.27,471.22 L130.70,471.46 L130.12,471.70 L129.55,471.96 L128.99,472.23 L128.42,472.51 L127.87,472.80 L127.31,473.10 L126.76,473.41 L126.22,473.72 L125.68,474.04 L125.15,474.37 L124.62,474.70 L124.09,475.04 L123.58,475.39 L123.06,475.74 L122.56,476.11 L122.06,476.47 L121.56,476.85 L121.07,477.23 L120.59,477.62 L120.12,478.01 L119.65,478.41 L119.19,478.82 L118.73,479.23 L118.29,479.65 L117.85,480.08 L117.42,480.51 L116.99,480.94 L116.57,481.38 L116.16,481.83 L115.76,482.28 L115.36,482.74 L114.96,483.20 L114.58,483.66 L114.19,484.13 L113.82,484.61 L113.45,485.09 L113.08,485.57 L112.72,486.06 L112.37,486.56 L112.02,487.05 L111.67,487.55 L111.33,488.06 L110.99,488.57 L110.66,489.08 L110.33,489.59 L110.00,490.11 L109.68,490.63 L109.36,491.16 L109.04,491.69 L108.73,492.22 L108.42,492.75 L108.11,493.29 L107.81,493.82 L107.50,494.37 L107.20,494.91 L106.90,495.45 L106.61,496.00 L106.31,496.55 L106.02,497.10 L105.72,497.66 L105.43,498.21 L105.14,498.77 L104.85,499.33 L104.56,499.88 L104.27,500.44 L103.98,501.00 L103.69,501.57 L103.40,502.13 L103.11,502.69 L102.82,503.26 L102.53,503.82 L102.24,504.39 L101.95,504.95 L101.66,505.52 L101.36,506.08 L101.06,506.65 L100.77,507.21 L100.47,507.77 L100.16,508.34 L99.86,508.90 L99.55,509.46 L99.24,510.03 L98.93,510.59 L98.62,511.15 L98.30,511.70 L97.98,512.26 L97.65,512.82 L97.33,513.37 L96.99,513.92 L96.66,514.47 L96.32,515.02 L95.97,515.56 L95.62,516.10 L95.26,516.63 L94.90,517.15 L94.53,517.67 L94.16,518.18 L93.77,518.68 L93.38,519.17 L92.98,519.65 L92.58,520.12 L92.16,520.58 L91.73,521.02 L91.30,521.46 L90.86,521.87 L90.40,522.28 L89.94,522.66 L89.46,523.03 L88.97,523.39 L88.48,523.72 L87.96,524.04 L87.44,524.34 L86.91,524.62 L86.36,524.88 L85.79,525.11 L85.22,525.32 L84.65,525.50 L84.07,525.64 L83.49,525.75 L82.92,525.82 L82.35,525.85 L81.79,525.83 L81.25,525.76 L80.72,525.64 L80.22,525.46 L79.73,525.22 L79.27,524.93 L78.84,524.57 L78.43,524.17 L78.04,523.72 L77.67,523.22 L77.33,522.69 L77.00,522.13 L76.70,521.53 L76.41,520.91 L76.15,520.27 L75.91,519.62 L75.68,518.95 L75.47,518.27 L75.28,517.58 L75.11,516.90 L74.95,516.22 L74.81,515.55 L74.68,514.90 L74.57,514.25 L74.48,513.62 L74.39,512.99 L74.31,512.38 L74.25,511.77 L74.19,511.17 L74.14,510.57 L74.10,509.98 L74.06,509.38 L74.03,508.79 L73.99,508.20 L73.96,507.60 L73.93,507.01 L73.90,506.40 L73.87,505.79 L73.83,505.18 L73.79,504.55 L73.75,503.92 L73.70,503.27 Z" fill="#fdc760" stroke="#a9a9b2" stroke-width="0.8"/>
<path d="M73.70,500.13 L73.77,501.10 L73.83,502.04 L73.89,502.96 L73.93,503.87 L73.98,504.76 L74.03,505.65 L74.08,506.54 L74.14,507.43 L74.22,508.33 L74.31,509.24 L74.43,510.17 L74.57,511.11 L74.75,512.09 L74.95,513.09 L75.20,514.10 L75.48,515.13 L75.80,516.14 L76.16,517.13 L76.56,518.08 L77.01,518.97 L77.50,519.80 L78.05,520.55 L78.64,521.20 L79.29,521.74 L79.99,522.16 L80.74,522.44 L81.54,522.59 L82.37,522.63 L83.22,522.56 L84.09,522.40 L84.96,522.16 L85.82,521.84 L86.66,521.47 L87.46,521.05 L88.24,520.59 L89.00,520.08 L89.72,519.54 L90.42,518.95 L91.10,518.33 L91.76,517.68 L92.39,517.00 L93.00,516.30 L93.60,515.56 L94.18,514.81 L94.74,514.04 L95.29,513.25 L95.82,512.44 L96.34,511.62 L96.85,510.80 L97.35,509.96 L97.84,509.13 L98.32,508.28 L98.80,507.44 L99.27,506.59 L99.73,505.75 L100.19,504.90 L100.64,504.05 L101.09,503.19 L101.53,502.34 L101.97,501.49 L102.41,500.64 L102.85,499.78 L103.28,498.93 L103.72,498.08 L104.15,497.24 L104.58,496.39 L105.02,495.55 L105.46,494.71 L105.89,493.87 L106.34,493.04 L106.78,492.21 L107.23,491.39 L107.68,490.57 L108.14,489.76 L108.60,488.95 L109.07,488.14 L109.55,487.35 L110.03,486.56 L110.52,485.78 L111.02,485.00 L111.53,484.24 L112.05,483.48 L112.58,482.73 L113.12,481.99 L113.67,481.26 L114.24,480.54 L114.81,479.83 L115.40,479.13 L116.00,478.44 L116.62,477.77 L117.25,477.10 L117.90,476.45 L118.56,475.81 L119.24,475.18 L119.94,474.57 L120.65,473.97 L121.38,473.38 L122.12,472.81 L122.87,472.25 L123.64,471.71 L124.42,471.18 L125.21,470.67 L126.02,470.18 L126.83,469.70 L127.66,469.24 L128.50,468.79 L129.34,468.37 L130.20,467.96 L131.06,467.57 L131.93,467.19 L132.81,466.84 L133.70,466.51 L134.59,466.19 L135.49,465.90 L136.39,465.62 L137.30,465.36 L138.22,465.13 L139.14,464.91 L140.06,464.72 L140.98,464.54 L141.91,464.39 L142.85,464.25 L143.78,464.14 L144.71,464.05 L145.65,463.97 L146.59,463.92 L147.53,463.90 L148.46,463.89 L149.40,463.90 L150.34,463.94 L151.27,464.00 L152.20,464.09 L153.12,464.21 L154.03,464.36 L154.93,464.56 L155.80,464.81 L156.66,465.10 L157.49,465.46 L158.28,465.88 L159.05,466.36 L159.78,466.92 L160.48,467.54 L161.14,468.22 L161.76,468.95 L162.36,469.71 L162.93,470.49 L163.47,471.29 L163.98,472.09 L164.47,472.90 L164.95,473.72 L165.40,474.55 L165.83,475.38 L166.25,476.22 L166.66,477.07 L167.06,477.92 L167.44,478.77 L167.82,479.63 L168.19,480.49 L168.56,481.35 L168.93,482.21 L169.30,483.07 L169.67,483.93 L170.05,484.80 L170.42,485.66 L170.80,486.52 L171.18,487.38 L171.57,488.23 L171.96,489.09 L172.35,489.95 L172.74,490.80 L173.13,491.66 L173.53,492.51 L173.93,493.37 L174.32,494.22 L174.73,495.07 L175.13,495.92 L175.53,496.77 L175.94,497.62 L176.34,498.46 L176.75,499.31 L177.16,500.16 L177.57,501.00 L177.98,501.84 L178.39,502.68 L178.80,503.52 L179.21,504.36 L179.62,505.20 L180.03,506.04 L180.44,506.87 L180.85,507.71 L181.27,508.54 L181.68,509.37 L182.10,510.20 L182.52,511.03 L182.94,511.86 L183.37,512.68 L183.80,513.51 L184.23,514.33 L184.66,515.15 L185.10,515.97 L185.55,516.78 L186.00,517.60 L186.45,518.41 L186.91,519.22 L187.38,520.03 L187.85,520.84 L188.33,521.64 L188.82,522.44 L189.31,523.24 L189.81,524.04 L190.31,524.83 L190.83,525.62 L191.35,526.41 L191.88,527.20 L192.42,527.98 L192.97,528.77 L193.53,529.54 L194.10,530.32 L194.68,531.09 L195.27,531.85 L195.88,532.59 L196.50,533.32 L197.13,534.03 L197.78,534.72 L198.44,535.39 L199.12,536.03 L199.82,536.63 L200.54,537.21 L201.28,537.74 L202.03,538.24 L202.81,538.70 L203.62,539.11 L204.44,539.47 L205.29,539.78 L206.17,540.04 L207.07,540.24 L208.00,540.38 L208.94,540.46 L209.90,540.48 L210.87,540.43 L211.83,540.33 L212.78,540.17 L213.71,539.94 L214.61,539.65 L215.48,539.30 L216.32,538.90 L217.13,538.45 L217.91,537.95 L218.68,537.42 L219.43,536.86 L220.16,536.27 L220.88,535.67 L221.60,535.05 L222.31,534.43 L223.02,533.81 L223.72,533.19 L224.42,532.56 L225.12,531.94 L225.82,531.31 L226.51,530.67 L227.19,530.04 L227.88,529.40 L228.55,528.75 L229.23,528.10 L229.90,527.45 L230.56,526.79 L231.22,526.13 L231.87,525.46 L232.52,524.79 L233.16,524.11 L233.79,523.43 L234.42,522.74 L235.04,522.04 L235.66,521.34 L236.27,520.63 L236.87,519.91 L237.46,519.19 L238.05,518.46 L238.64,517.72 L239.22,516.98 L239.80,516.24 L240.38,515.50 L240.96,514.76 L241.54,514.02 L242.12,513.28 L242.70,512.55 L243.29,511.82 L243.89,511.09 L244.49,510.38 L245.10,509.67 L245.72,508.97 L246.35,508.28 L246.99,507.60 L247.64,506.94 L248.31,506.29 L248.99,505.65 L249.68,505.04 L250.40,504.43 L251.13,503.85 L251.88,503.29 L252.65,502.75 L253.44,502.23 L254.26,501.73 L255.09,501.26 L255.95,500.82 L256.81,500.41 L257.70,500.03 L258.59,499.69 L259.50,499.39 L260.41,499.13 L261.33,498.91 L262.25,498.74 L263.17,498.62 L264.10,498.55 L265.02,498.54 L265.94,498.57 L266.85,498.66 L267.76,498.79 L268.67,498.97 L269.57,499.19 L270.47,499.44 L271.36,499.72 L272.24,500.03 L273.12,500.36 L274.00,500.72 L274.86,501.09 L275.72,501.48 L276.57,501.87 L277.42,502.28 L278.26,502.69 L279.10,503.10 L279.93,503.51 L280.77,503.93 L281.60,504.34 L282.44,504.75 L283.29,505.16 L284.14,505.56 L284.99,505.95 L285.86,506.33 L286.74,506.70 L287.62,507.06 L288.53,507.40 L289.44,507.72 L290.36,508.01 L291.28,508.26 L292.21,508.46 L293.14,508.61 L294.07,508.70 L294.98,508.72 L295.89,508.66 L296.78,508.52 L297.66,508.29 L298.51,507.98 L299.34,507.60 L300.15,507.16 L300.94,506.67 L301.70,506.14 L302.43,505.57 L303.14,504.97 L303.82,504.35 L304.48,503.69 L305.11,503.02 L305.73,502.31 L306.32,501.59 L306.90,500.85 L307.45,500.08 L307.99,499.30 L308.52,498.51 L309.03,497.70 L309.53,496.89 L310.02,496.06 L310.49,495.22 L310.96,494.38 L311.43,493.54 L311.88,492.69 L312.33,491.84 L312.78,490.99 L313.22,490.15 L313.67,489.31 L314.11,488.47 L314.56,487.64 L315.01,486.82 L315.46,486.00 L315.93,485.20 L316.40,484.40 L316.87,483.60 L317.36,482.82 L317.87,482.05 L318.38,481.29 L318.92,480.54 L319.46,479.80 L320.03,479.08 L320.62,478.37 L321.23,477.67 L321.86,476.98 L322.52,476.31 L323.20,475.66 L323.91,475.02 L324.65,474.40" fill="none" stroke="#000" stroke-width="2.3" stroke-linejoin="round" stroke-linecap="round"/>
</g>
<clipPath id="cpd"><rect x="425.0" y="352.5" width="254.00" height="249.30"/></clipPath>
<g clip-path="url(#cpd)">
<path d="M425.65,492.13 L425.99,491.12 L426.31,490.10 L426.61,489.06 L426.90,488.01 L427.18,486.95 L427.44,485.87 L427.70,484.79 L427.96,483.71 L428.22,482.61 L428.48,481.52 L428.75,480.43 L429.02,479.33 L429.31,478.24 L429.62,477.15 L429.94,476.07 L430.29,475.00 L430.65,473.93 L431.05,472.88 L431.48,471.84 L431.94,470.82 L432.43,469.81 L432.97,468.82 L433.55,467.85 L434.16,466.90 L434.81,465.97 L435.50,465.08 L436.23,464.21 L436.98,463.38 L437.77,462.58 L438.59,461.81 L439.44,461.08 L440.32,460.40 L441.23,459.76 L442.16,459.16 L443.12,458.61 L444.10,458.11 L445.11,457.66 L446.13,457.27 L447.18,456.93 L448.24,456.65 L449.32,456.41 L450.41,456.22 L451.52,456.06 L452.63,455.93 L453.76,455.83 L454.89,455.74 L456.02,455.66 L457.16,455.59 L458.30,455.52 L459.44,455.44 L460.58,455.35 L461.71,455.24 L462.84,455.10 L463.96,454.94 L465.06,454.73 L466.16,454.48 L467.24,454.18 L468.31,453.84 L469.35,453.44 L470.39,453.01 L471.40,452.52 L472.39,452.00 L473.36,451.44 L474.32,450.85 L475.24,450.22 L476.15,449.55 L477.03,448.86 L477.88,448.13 L478.70,447.38 L479.50,446.61 L480.27,445.82 L481.00,445.00 L481.72,444.16 L482.40,443.30 L483.06,442.42 L483.69,441.53 L484.30,440.62 L484.89,439.69 L485.45,438.74 L485.99,437.78 L486.52,436.81 L487.02,435.82 L487.51,434.82 L487.97,433.81 L488.43,432.79 L488.86,431.75 L489.29,430.71 L489.70,429.66 L490.09,428.60 L490.48,427.53 L490.85,426.46 L491.22,425.38 L491.58,424.30 L491.93,423.21 L492.27,422.12 L492.61,421.03 L492.94,419.94 L493.27,418.85 L493.60,417.75 L493.92,416.66 L494.25,415.57 L494.57,414.48 L494.90,413.40 L495.22,412.32 L495.55,411.24 L495.89,410.17 L496.23,409.11 L496.58,408.05 L496.93,407.00 L497.30,405.95 L497.68,404.91 L498.07,403.88 L498.47,402.85 L498.90,401.83 L499.34,400.82 L499.80,399.81 L500.28,398.81 L500.78,397.81 L501.31,396.83 L501.86,395.85 L502.44,394.87 L503.05,393.91 L503.69,392.95 L504.37,392.00 L505.07,391.08 L505.83,390.24 L506.65,389.56 L507.53,389.10 L508.49,388.90 L509.51,388.98 L510.54,389.29 L511.53,389.81 L512.43,390.49 L513.24,391.30 L513.97,392.22 L514.62,393.23 L515.21,394.29 L515.75,395.39 L516.25,396.49 L516.71,397.58 L517.15,398.66 L517.56,399.72 L517.95,400.78 L518.32,401.83 L518.69,402.87 L519.04,403.91 L519.39,404.95 L519.74,405.98 L520.10,407.01 L520.46,408.04 L520.83,409.07 L521.21,410.10 L521.60,411.13 L522.00,412.17 L522.40,413.20 L522.82,414.23 L523.24,415.27 L523.66,416.30 L524.10,417.33 L524.54,418.37 L524.99,419.40 L525.44,420.43 L525.90,421.46 L526.36,422.48 L526.83,423.51 L527.30,424.53 L527.78,425.56 L528.26,426.58 L528.75,427.60 L529.24,428.61 L529.73,429.63 L530.22,430.64 L530.72,431.65 L531.22,432.65 L531.72,433.65 L532.23,434.65 L532.73,435.65 L533.23,436.64 L533.72,437.64 L534.20,438.64 L534.66,439.65 L535.08,440.67 L535.48,441.70 L535.84,442.75 L536.17,443.81 L536.47,444.89 L536.74,445.97 L537.01,447.06 L537.26,448.16 L537.50,449.26 L537.75,450.36 L538.00,451.46 L538.26,452.56 L538.54,453.65 L538.83,454.73 L539.16,455.80 L539.51,456.86 L539.90,457.91 L540.31,458.94 L540.75,459.97 L541.22,460.98 L541.70,461.99 L542.21,462.99 L542.72,463.99 L543.25,464.98 L543.79,465.96 L544.34,466.95 L544.89,467.93 L545.43,468.91 L545.98,469.90 L546.52,470.88 L547.05,471.87 L547.57,472.87 L548.09,473.86 L548.60,474.86 L549.11,475.86 L549.61,476.86 L550.12,477.86 L550.62,478.86 L551.11,479.86 L551.61,480.86 L552.11,481.87 L552.61,482.87 L553.12,483.86 L553.62,484.86 L554.14,485.86 L554.65,486.85 L555.18,487.84 L555.70,488.83 L556.24,489.81 L556.78,490.79 L557.32,491.77 L557.87,492.75 L558.43,493.72 L558.99,494.69 L559.55,495.66 L560.13,496.62 L560.71,497.58 L561.29,498.53 L561.88,499.48 L562.48,500.43 L563.09,501.37 L563.70,502.31 L564.32,503.24 L564.94,504.17 L565.57,505.09 L566.21,506.01 L566.86,506.93 L567.51,507.84 L568.17,508.74 L568.84,509.64 L569.51,510.53 L570.19,511.42 L570.88,512.30 L571.58,513.18 L572.28,514.05 L573.00,514.91 L573.72,515.77 L574.45,516.62 L575.18,517.46 L575.93,518.30 L576.68,519.13 L577.45,519.96 L578.22,520.77 L579.00,521.58 L579.78,522.39 L580.57,523.18 L581.37,523.98 L582.18,524.76 L582.99,525.54 L583.81,526.31 L584.63,527.08 L585.46,527.84 L586.29,528.60 L587.13,529.35 L587.96,530.10 L588.80,530.84 L589.65,531.58 L590.49,532.31 L591.34,533.04 L592.19,533.76 L593.03,534.48 L593.88,535.19 L594.73,535.91 L595.58,536.61 L596.43,537.32 L597.28,538.02 L598.13,538.71 L598.99,539.39 L599.85,540.07 L600.73,540.74 L601.61,541.40 L602.51,542.04 L603.43,542.68 L604.36,543.29 L605.30,543.90 L606.27,544.48 L607.25,545.05 L608.25,545.60 L609.26,546.12 L610.29,546.62 L611.33,547.09 L612.38,547.53 L613.44,547.93 L614.51,548.31 L615.59,548.65 L616.68,548.95 L617.78,549.21 L618.88,549.43 L619.99,549.60 L621.10,549.73 L622.21,549.81 L623.33,549.84 L624.45,549.81 L625.56,549.74 L626.68,549.61 L627.79,549.43 L628.88,549.21 L629.97,548.93 L631.04,548.60 L632.10,548.23 L633.14,547.81 L634.15,547.35 L635.14,546.83 L636.10,546.28 L637.04,545.68 L637.94,545.03 L638.80,544.35 L639.63,543.62 L640.42,542.85 L641.16,542.04 L641.86,541.19 L642.51,540.31 L643.11,539.38 L643.66,538.42 L644.15,537.42 L644.59,536.38 L644.97,535.31 L645.31,534.22 L645.63,533.11 L645.92,531.99 L646.19,530.86 L646.47,529.73 L646.75,528.60 L647.04,527.48 L647.36,526.37 L647.71,525.28 L648.07,524.21 L648.45,523.14 L648.84,522.09 L649.25,521.05 L649.67,520.01 L650.10,518.99 L650.53,517.97 L650.97,516.97 L651.41,515.96 L651.85,514.97 L652.28,513.98 L652.72,512.99 L653.15,512.00 L653.59,511.01 L654.02,510.01 L654.46,509.01 L654.90,508.01 L655.35,506.99 L655.80,505.96 L656.26,504.92 L656.72,503.87 L657.20,502.79 L657.69,501.72 L658.19,500.64 L658.72,499.57 L659.28,498.53 L659.86,497.51 L660.48,496.53 L661.15,495.60 L661.85,494.73 L662.60,493.92 L663.41,493.18 L664.27,492.53 L665.20,491.97 L666.19,491.51 L667.24,491.16 L668.33,490.95 L669.43,490.89 L670.48,491.01 L671.46,491.33 L672.35,491.84 L673.16,492.53 L673.91,493.34 L674.61,494.27 L675.25,495.27 L675.87,496.32 L676.45,497.38 L677.02,498.44 L677.58,499.45 L678.15,500.39 L678.76,501.24 L679.44,501.98 L679.43,499.86 L678.81,500.69 L678.21,501.52 L677.62,502.36 L677.04,503.20 L676.46,504.04 L675.90,504.89 L675.35,505.74 L674.80,506.60 L674.26,507.46 L673.74,508.32 L673.22,509.18 L672.71,510.05 L672.20,510.92 L671.71,511.80 L671.22,512.67 L670.74,513.56 L670.26,514.44 L669.80,515.32 L669.34,516.21 L668.88,517.11 L668.43,518.00 L667.99,518.90 L667.55,519.80 L667.12,520.70 L666.70,521.61 L666.28,522.52 L665.86,523.43 L665.45,524.34 L665.05,525.25 L664.64,526.17 L664.25,527.09 L663.85,528.01 L663.46,528.94 L663.07,529.87 L662.69,530.80 L662.31,531.73 L661.93,532.66 L661.55,533.60 L661.18,534.53 L660.81,535.47 L660.44,536.41 L660.07,537.36 L659.70,538.30 L659.34,539.25 L658.97,540.20 L658.61,541.15 L658.24,542.10 L657.88,543.05 L657.52,544.01 L657.16,544.96 L656.79,545.92 L656.43,546.88 L656.06,547.84 L655.70,548.80 L655.33,549.76 L654.95,550.72 L654.57,551.67 L654.19,552.62 L653.79,553.57 L653.39,554.51 L652.98,555.45 L652.56,556.37 L652.13,557.29 L651.68,558.20 L651.23,559.10 L650.75,559.99 L650.27,560.86 L649.76,561.73 L649.24,562.58 L648.70,563.41 L648.14,564.23 L647.56,565.03 L646.95,565.81 L646.33,566.58 L645.68,567.32 L645.00,568.05 L644.30,568.75 L643.57,569.43 L642.82,570.09 L642.04,570.72 L641.22,571.33 L640.38,571.91 L639.52,572.46 L638.64,572.97 L637.73,573.46 L636.81,573.90 L635.87,574.31 L634.91,574.68 L633.94,575.01 L632.97,575.30 L631.98,575.54 L630.99,575.73 L629.99,575.87 L629.00,575.97 L628.00,576.00 L627.00,575.99 L626.01,575.91 L625.02,575.78 L624.04,575.58 L623.07,575.33 L622.11,575.01 L621.16,574.64 L620.21,574.24 L619.27,573.80 L618.34,573.35 L617.40,572.90 L616.47,572.45 L615.54,572.01 L614.61,571.57 L613.69,571.13 L612.77,570.69 L611.86,570.25 L610.96,569.80 L610.06,569.33 L609.18,568.86 L608.32,568.36 L607.46,567.85 L606.63,567.31 L605.81,566.75 L605.01,566.15 L604.23,565.53 L603.48,564.87 L602.74,564.18 L602.01,563.46 L601.30,562.74 L600.60,562.00 L599.89,561.25 L599.19,560.50 L598.48,559.76 L597.77,559.04 L597.05,558.32 L596.32,557.62 L595.58,556.93 L594.83,556.26 L594.08,555.59 L593.32,554.94 L592.55,554.29 L591.78,553.65 L591.01,553.02 L590.22,552.40 L589.44,551.78 L588.65,551.16 L587.86,550.55 L587.06,549.94 L586.27,549.33 L585.47,548.73 L584.67,548.12 L583.87,547.51 L583.07,546.90 L582.27,546.29 L581.48,545.67 L580.68,545.06 L579.88,544.43 L579.09,543.81 L578.30,543.18 L577.51,542.55 L576.72,541.91 L575.93,541.27 L575.15,540.63 L574.37,539.98 L573.59,539.33 L572.81,538.67 L572.04,538.01 L571.27,537.35 L570.51,536.68 L569.75,536.00 L568.99,535.33 L568.24,534.64 L567.50,533.96 L566.76,533.26 L566.02,532.57 L565.29,531.86 L564.56,531.16 L563.84,530.44 L563.13,529.73 L562.42,529.00 L561.72,528.27 L561.03,527.54 L560.34,526.80 L559.66,526.05 L558.99,525.30 L558.33,524.54 L557.67,523.78 L557.02,523.01 L556.38,522.23 L555.74,521.45 L555.12,520.66 L554.50,519.86 L553.89,519.06 L553.29,518.26 L552.70,517.45 L552.11,516.63 L551.53,515.81 L550.96,514.98 L550.39,514.15 L549.84,513.31 L549.28,512.47 L548.74,511.62 L548.20,510.77 L547.67,509.92 L547.15,509.06 L546.63,508.19 L546.12,507.32 L545.62,506.45 L545.12,505.57 L544.63,504.69 L544.15,503.81 L543.67,502.92 L543.20,502.03 L542.73,501.13 L542.27,500.23 L541.82,499.33 L541.37,498.43 L540.93,497.52 L540.49,496.61 L540.06,495.70 L539.63,494.78 L539.21,493.86 L538.80,492.94 L538.39,492.02 L537.98,491.09 L537.58,490.16 L537.18,489.23 L536.79,488.30 L536.41,487.37 L536.03,486.43 L535.65,485.50 L535.28,484.56 L534.92,483.62 L534.55,482.67 L534.20,481.73 L533.85,480.78 L533.50,479.83 L533.17,478.88 L532.83,477.92 L532.50,476.96 L532.18,476.00 L531.86,475.04 L531.55,474.08 L531.24,473.11 L530.93,472.14 L530.63,471.18 L530.33,470.21 L530.04,469.24 L529.74,468.27 L529.45,467.30 L529.15,466.33 L528.86,465.36 L528.56,464.39 L528.27,463.43 L527.97,462.46 L527.67,461.50 L527.36,460.55 L527.06,459.59 L526.74,458.64 L526.43,457.69 L526.11,456.74 L525.78,455.80 L525.45,454.87 L525.11,453.94 L524.76,453.01 L524.40,452.09 L524.04,451.18 L523.67,450.27 L523.29,449.36 L522.90,448.44 L522.50,447.53 L522.09,446.60 L521.68,445.66 L521.25,444.71 L520.82,443.74 L520.38,442.76 L519.93,441.75 L519.46,440.74 L518.98,439.73 L518.46,438.75 L517.91,437.83 L517.32,436.96 L516.68,436.18 L515.98,435.51 L515.22,434.95 L514.40,434.53 L513.55,434.26 L512.67,434.13 L511.77,434.17 L510.87,434.36 L509.99,434.68 L509.12,435.11 L508.27,435.63 L507.47,436.21 L506.70,436.83 L505.96,437.51 L505.26,438.22 L504.59,438.98 L503.94,439.77 L503.32,440.58 L502.72,441.43 L502.15,442.30 L501.58,443.19 L501.04,444.09 L500.50,445.00 L499.98,445.92 L499.46,446.85 L498.95,447.77 L498.44,448.69 L497.93,449.60 L497.42,450.49 L496.90,451.37 L496.38,452.24 L495.86,453.08 L495.33,453.92 L494.80,454.75 L494.27,455.58 L493.75,456.40 L493.23,457.22 L492.72,458.05 L492.22,458.89 L491.72,459.74 L491.24,460.61 L490.77,461.49 L490.31,462.38 L489.86,463.28 L489.42,464.20 L488.98,465.12 L488.55,466.06 L488.12,467.00 L487.70,467.94 L487.28,468.89 L486.86,469.84 L486.44,470.79 L486.02,471.74 L485.59,472.69 L485.14,473.62 L484.68,474.52 L484.18,475.40 L483.64,476.23 L483.06,477.02 L482.42,477.74 L481.72,478.40 L480.96,478.99 L480.14,479.53 L479.27,480.01 L478.37,480.46 L477.45,480.88 L476.51,481.28 L475.58,481.68 L474.64,482.09 L473.70,482.49 L472.77,482.90 L471.84,483.31 L470.91,483.72 L469.98,484.13 L469.06,484.54 L468.13,484.95 L467.21,485.37 L466.28,485.78 L465.36,486.19 L464.44,486.61 L463.52,487.02 L462.60,487.43 L461.67,487.84 L460.75,488.24 L459.83,488.65 L458.90,489.04 L457.98,489.44 L457.05,489.83 L456.12,490.21 L455.18,490.58 L454.25,490.95 L453.31,491.31 L452.36,491.66 L451.42,492.01 L450.47,492.34 L449.51,492.67 L448.55,492.98 L447.59,493.29 L446.63,493.59 L445.66,493.89 L444.69,494.18 L443.72,494.47 L442.75,494.75 L441.78,495.03 L440.81,495.31 L439.83,495.59 L438.86,495.87 L437.89,496.15 L436.92,496.43 L435.95,496.72 L434.98,497.00 L434.01,497.29 L433.04,497.59 L432.08,497.88 L431.12,498.19 L430.17,498.50 L429.22,498.82 L428.27,499.15 L427.32,499.49 L426.39,499.84 L425.45,500.20 Z" fill="#cccccc" stroke="#8c8c8c" stroke-width="1.1" stroke-linejoin="round"/>
<path d="M425.72,497.32 L425.98,496.66 L426.25,496.01 L426.53,495.36 L426.81,494.72 L427.10,494.08 L427.40,493.44 L427.70,492.81 L428.01,492.18 L428.33,491.55 L428.65,490.92 L428.98,490.30 L429.32,489.69 L429.66,489.08 L430.02,488.47 L430.37,487.86 L430.74,487.26 L431.11,486.67 L431.48,486.08 L431.87,485.49 L432.26,484.91 L432.65,484.33 L433.06,483.76 L433.46,483.19 L433.88,482.63 L434.30,482.07 L434.73,481.52 L435.16,480.97 L435.60,480.43 L436.05,479.90 L436.50,479.37 L436.96,478.84 L437.43,478.32 L437.90,477.81 L438.37,477.31 L438.86,476.81 L439.34,476.31 L439.84,475.82 L440.34,475.35 L440.85,474.88 L441.36,474.42 L441.88,473.97 L442.40,473.52 L442.93,473.09 L443.47,472.65 L444.01,472.23 L444.55,471.81 L445.11,471.40 L445.66,471.00 L446.23,470.61 L446.80,470.22 L447.37,469.84 L447.95,469.47 L448.53,469.11 L449.13,468.75 L449.72,468.40 L450.32,468.07 L450.93,467.73 L451.54,467.41 L452.16,467.09 L452.77,466.78 L453.40,466.48 L454.02,466.18 L454.65,465.88 L455.29,465.59 L455.92,465.31 L456.56,465.03 L457.20,464.75 L457.85,464.47 L458.49,464.20 L459.13,463.93 L459.78,463.66 L460.43,463.39 L461.08,463.13 L461.72,462.86 L462.37,462.59 L463.02,462.33 L463.67,462.06 L464.31,461.79 L464.96,461.52 L465.60,461.25 L466.24,460.97 L466.88,460.69 L467.52,460.41 L468.16,460.13 L468.79,459.84 L469.42,459.54 L470.04,459.24 L470.67,458.94 L471.28,458.63 L471.90,458.31 L472.51,457.99 L473.11,457.65 L473.71,457.32 L474.31,456.97 L474.90,456.61 L475.48,456.25 L476.06,455.88 L476.63,455.49 L477.19,455.10 L477.75,454.69 L478.30,454.28 L478.84,453.84 L479.38,453.40 L479.90,452.95 L480.42,452.49 L480.94,452.01 L481.44,451.53 L481.94,451.04 L482.42,450.54 L482.90,450.03 L483.38,449.51 L483.84,448.99 L484.29,448.45 L484.74,447.91 L485.18,447.36 L485.61,446.81 L486.03,446.25 L486.44,445.68 L486.85,445.11 L487.24,444.53 L487.63,443.95 L488.00,443.36 L488.37,442.77 L488.73,442.17 L489.08,441.57 L489.42,440.96 L489.75,440.35 L490.07,439.74 L490.39,439.13 L490.70,438.51 L491.00,437.89 L491.29,437.26 L491.58,436.63 L491.86,436.00 L492.14,435.37 L492.41,434.74 L492.68,434.10 L492.94,433.46 L493.20,432.82 L493.46,432.18 L493.71,431.53 L493.96,430.89 L494.21,430.24 L494.45,429.59 L494.69,428.94 L494.94,428.29 L495.18,427.64 L495.42,426.99 L495.66,426.34 L495.90,425.68 L496.14,425.03 L496.39,424.38 L496.63,423.72 L496.88,423.07 L497.13,422.42 L497.38,421.77 L497.64,421.12 L497.90,420.47 L498.16,419.82 L498.43,419.17 L498.70,418.53 L498.98,417.89 L499.26,417.24 L499.55,416.61 L499.85,415.97 L500.16,415.31 L500.47,414.64 L500.79,413.96 L501.12,413.29 L501.46,412.62 L501.81,411.95 L502.16,411.29 L502.53,410.63 L502.91,409.97 L503.30,409.31 L503.71,408.66 L504.12,408.01 L504.55,407.37 L504.99,406.73 L505.45,406.09 L505.92,405.46 L506.40,404.85 L506.90,404.28 L507.41,403.76 L507.94,403.31 L508.49,402.94 L509.05,402.68 L509.63,402.51 L510.21,402.52 L510.80,402.74 L511.38,403.04 L511.96,403.42 L512.52,403.85 L513.06,404.34 L513.57,404.88 L514.05,405.44 L514.50,406.03 L514.91,406.65 L515.29,407.28 L515.64,407.94 L515.97,408.61 L516.28,409.29 L516.58,409.98 L516.86,410.68 L517.13,411.39 L517.39,412.09 L517.65,412.81 L517.91,413.51 L518.16,414.22 L518.42,414.93 L518.68,415.63 L518.93,416.34 L519.19,417.04 L519.44,417.74 L519.70,418.44 L519.95,419.14 L520.21,419.82 L520.46,420.48 L520.72,421.15 L520.97,421.81 L521.22,422.48 L521.47,423.14 L521.73,423.80 L521.98,424.46 L522.23,425.12 L522.48,425.78 L522.73,426.44 L522.98,427.10 L523.23,427.76 L523.48,428.42 L523.73,429.08 L523.98,429.73 L524.22,430.39 L524.47,431.04 L524.72,431.70 L524.97,432.35 L525.21,433.01 L525.46,433.66 L525.70,434.32 L525.95,434.97 L526.19,435.62 L526.44,436.27 L526.68,436.93 L526.93,437.58 L527.17,438.23 L527.41,438.89 L527.65,439.54 L527.90,440.19 L528.14,440.84 L528.38,441.50 L528.62,442.15 L528.86,442.80 L529.10,443.45 L529.34,444.11 L529.58,444.76 L529.82,445.41 L530.06,446.07 L530.30,446.72 L530.54,447.38 L530.77,448.03 L531.01,448.69 L531.25,449.34 L531.49,450.00 L531.72,450.65 L531.96,451.31 L532.20,451.96 L532.44,452.62 L532.68,453.27 L532.91,453.93 L533.15,454.59 L533.39,455.24 L533.63,455.90 L533.87,456.55 L534.11,457.21 L534.35,457.86 L534.59,458.52 L534.83,459.18 L535.07,459.83 L535.31,460.49 L535.55,461.14 L535.80,461.80 L536.04,462.45 L536.29,463.11 L536.53,463.76 L536.78,464.42 L537.02,465.07 L537.27,465.73 L537.52,466.38 L537.77,467.03 L538.02,467.69 L538.28,468.34 L538.53,468.99 L538.79,469.64 L539.04,470.29 L539.30,470.95 L539.56,471.60 L539.82,472.25 L540.08,472.89 L540.34,473.53 L540.61,474.17 L540.87,474.80 L541.14,475.44 L541.41,476.07 L541.68,476.71 L541.96,477.34 L542.23,477.98 L542.51,478.61 L542.78,479.24 L543.07,479.87 L543.35,480.50 L543.63,481.13 L543.92,481.76 L544.21,482.39 L544.50,483.02 L544.79,483.64 L545.08,484.27 L545.38,484.89 L545.68,485.52 L545.98,486.14 L546.29,486.76 L546.59,487.38 L546.90,488.00 L547.21,488.62 L547.53,489.24 L547.85,489.86 L548.17,490.47 L548.49,491.09 L548.81,491.70 L549.14,492.31 L549.47,492.92 L549.80,493.53 L550.14,494.14 L550.48,494.75 L550.82,495.36 L551.17,495.96 L551.51,496.56 L551.86,497.16 L552.22,497.76 L552.57,498.36 L552.93,498.96 L553.30,499.55 L553.66,500.14 L554.03,500.73 L554.40,501.32 L554.78,501.90 L555.15,502.49 L555.54,503.07 L555.92,503.64 L556.31,504.22 L556.70,504.79 L557.09,505.36 L557.49,505.93 L557.89,506.50 L558.29,507.06 L558.70,507.62 L559.11,508.18 L559.53,508.73 L559.94,509.28 L560.37,509.83 L560.79,510.37 L561.22,510.92 L561.65,511.45 L562.08,511.99 L562.52,512.52 L562.97,513.05 L563.41,513.57 L563.86,514.09 L564.31,514.61 L564.77,515.13 L565.23,515.64 L565.70,516.14 L566.16,516.64 L566.64,517.14 L567.11,517.64 L567.59,518.13 L568.07,518.61 L568.56,519.09 L569.05,519.57 L569.55,520.04 L570.05,520.51 L570.55,520.98 L571.05,521.44 L571.56,521.90 L572.07,522.35 L572.59,522.81 L573.11,523.25 L573.63,523.70 L574.15,524.14 L574.68,524.58 L575.21,525.02 L575.74,525.45 L576.27,525.88 L576.81,526.31 L577.35,526.74 L577.89,527.17 L578.43,527.59 L578.97,528.01 L579.52,528.43 L580.07,528.85 L580.62,529.27 L581.17,529.68 L581.72,530.09 L582.27,530.51 L582.83,530.92 L583.38,531.33 L583.94,531.74 L584.49,532.15 L585.05,532.56 L585.61,532.97 L586.17,533.38 L586.73,533.79 L587.29,534.20 L587.85,534.61 L588.41,535.01 L588.97,535.42 L589.53,535.83 L590.09,536.25 L590.65,536.66 L591.20,537.07 L591.76,537.48 L592.32,537.90 L592.88,538.31 L593.43,538.73 L593.99,539.15 L594.54,539.57 L595.09,539.99 L595.64,540.42 L596.20,540.84 L596.74,541.27 L597.29,541.70 L597.84,542.12 L598.38,542.55 L598.93,542.98 L599.47,543.40 L600.02,543.82 L600.56,544.24 L601.10,544.66 L601.65,545.07 L602.19,545.48 L602.73,545.88 L603.27,546.28 L603.81,546.67 L604.35,547.06 L604.89,547.44 L605.44,547.81 L605.98,548.18 L606.53,548.55 L607.08,548.91 L607.63,549.26 L608.19,549.62 L608.76,549.97 L609.33,550.31 L609.91,550.66 L610.50,551.00 L611.10,551.35 L611.71,551.69 L612.33,552.03 L612.96,552.36 L613.59,552.69 L614.23,553.02 L614.88,553.34 L615.53,553.65 L616.19,553.96 L616.86,554.26 L617.53,554.55 L618.20,554.83 L618.88,555.09 L619.55,555.35 L620.24,555.60 L620.92,555.83 L621.60,556.05 L622.29,556.25 L622.97,556.44 L623.66,556.61 L624.34,556.76 L625.03,556.90 L625.71,557.02 L626.39,557.12 L627.07,557.19 L627.74,557.25 L628.41,557.28 L629.07,557.30 L629.73,557.28 L630.39,557.25 L631.04,557.19 L631.68,557.10 L632.31,556.98 L632.94,556.84 L633.56,556.67 L634.17,556.47 L634.77,556.24 L635.36,555.98 L635.94,555.69 L636.51,555.36 L637.08,555.01 L637.63,554.62 L638.16,554.21 L638.69,553.78 L639.21,553.32 L639.72,552.84 L640.22,552.34 L640.70,551.82 L641.18,551.29 L641.64,550.74 L642.10,550.18 L642.54,549.61 L642.97,549.02 L643.40,548.43 L643.81,547.82 L644.21,547.21 L644.60,546.60 L644.98,545.98 L645.35,545.37 L645.70,544.75 L646.05,544.13 L646.39,543.52 L646.71,542.91 L647.03,542.30 L647.34,541.69 L647.65,541.08 L647.94,540.47 L648.23,539.86 L648.52,539.26 L648.80,538.65 L649.07,538.04 L649.35,537.43 L649.62,536.82 L649.89,536.21 L650.15,535.60 L650.42,534.98 L650.69,534.37 L650.95,533.75 L651.22,533.13 L651.49,532.51 L651.76,531.89 L652.02,531.27 L652.29,530.65 L652.56,530.02 L652.83,529.40 L653.10,528.77 L653.38,528.15 L653.65,527.52 L653.93,526.89 L654.20,526.27 L654.48,525.64 L654.76,525.01 L655.05,524.39 L655.33,523.76 L655.62,523.13 L655.91,522.51 L656.20,521.89 L656.49,521.26 L656.79,520.64 L657.09,520.02 L657.39,519.40 L657.70,518.78 L658.01,518.16 L658.32,517.54 L658.64,516.93 L658.96,516.31 L659.28,515.70 L659.61,515.09 L659.94,514.49 L660.28,513.88 L660.62,513.28 L660.96,512.68 L661.31,512.08 L661.66,511.49 L662.02,510.90 L662.39,510.31 L662.76,509.72 L663.13,509.14 L663.51,508.56 L663.89,507.98 L664.28,507.41 L664.68,506.84 L665.08,506.28 L665.49,505.72 L665.91,505.16 L666.33,504.62 L666.76,504.09 L667.21,503.57 L667.67,503.06 L668.13,502.58 L668.62,502.10 L669.11,501.65 L669.62,501.22 L670.15,500.81 L670.69,500.43 L671.25,500.07 L671.83,499.74 L672.43,499.44 L673.05,499.17 L673.69,498.94 L674.36,498.74 L675.04,498.58 L675.76,498.45 L676.49,498.37 L677.25,498.33 L677.25,504.43 L676.49,504.49 L675.76,504.59 L675.04,504.74 L674.36,504.92 L673.69,505.13 L673.05,505.38 L672.43,505.66 L671.83,505.98 L671.25,506.32 L670.69,506.69 L670.15,507.09 L669.62,507.51 L669.11,507.95 L668.62,508.42 L668.13,508.90 L667.67,509.40 L667.21,509.92 L666.76,510.45 L666.33,510.99 L665.91,511.54 L665.49,512.11 L665.08,512.67 L664.68,513.25 L664.28,513.83 L663.89,514.41 L663.51,514.99 L663.13,515.58 L662.76,516.17 L662.39,516.77 L662.02,517.37 L661.66,517.97 L661.31,518.57 L660.96,519.18 L660.62,519.78 L660.28,520.40 L659.94,521.01 L659.61,521.62 L659.28,522.24 L658.96,522.86 L658.64,523.48 L658.32,524.10 L658.01,524.73 L657.70,525.35 L657.39,525.98 L657.09,526.61 L656.79,527.24 L656.49,527.87 L656.20,528.50 L655.91,529.13 L655.62,529.76 L655.33,530.39 L655.05,531.03 L654.76,531.66 L654.48,532.29 L654.20,532.93 L653.93,533.56 L653.65,534.19 L653.38,534.83 L653.10,535.46 L652.83,536.09 L652.56,536.72 L652.29,537.35 L652.02,537.98 L651.76,538.61 L651.49,539.24 L651.22,539.86 L650.95,540.49 L650.69,541.11 L650.42,541.73 L650.15,542.35 L649.89,542.97 L649.62,543.59 L649.35,544.21 L649.07,544.82 L648.80,545.44 L648.52,546.05 L648.23,546.67 L647.94,547.28 L647.65,547.90 L647.34,548.51 L647.03,549.13 L646.71,549.75 L646.39,550.37 L646.05,550.99 L645.70,551.61 L645.35,552.24 L644.98,552.87 L644.60,553.49 L644.21,554.11 L643.81,554.73 L643.40,555.34 L642.97,555.95 L642.54,556.55 L642.10,557.13 L641.64,557.70 L641.18,558.26 L640.70,558.81 L640.22,559.33 L639.72,559.84 L639.21,560.32 L638.69,560.78 L638.16,561.21 L637.63,561.62 L637.08,562.01 L636.51,562.36 L635.94,562.69 L635.36,562.98 L634.77,563.24 L634.17,563.47 L633.56,563.67 L632.94,563.84 L632.31,563.98 L631.68,564.10 L631.04,564.19 L630.39,564.25 L629.73,564.28 L629.07,564.30 L628.41,564.28 L627.74,564.25 L627.07,564.19 L626.39,564.12 L625.71,564.02 L625.03,563.90 L624.34,563.76 L623.66,563.61 L622.97,563.44 L622.29,563.25 L621.60,563.05 L620.92,562.83 L620.24,562.60 L619.55,562.35 L618.88,562.09 L618.20,561.83 L617.53,561.55 L616.86,561.26 L616.19,560.96 L615.53,560.65 L614.88,560.34 L614.23,560.02 L613.59,559.69 L612.96,559.36 L612.33,559.03 L611.71,558.69 L611.10,558.35 L610.50,558.00 L609.91,557.66 L609.33,557.31 L608.76,556.97 L608.19,556.62 L607.63,556.26 L607.08,555.91 L606.53,555.55 L605.98,555.18 L605.44,554.81 L604.89,554.44 L604.35,554.06 L603.81,553.67 L603.27,553.28 L602.73,552.88 L602.19,552.48 L601.65,552.07 L601.10,551.66 L600.56,551.24 L600.02,550.82 L599.47,550.41 L598.93,549.98 L598.38,549.56 L597.84,549.14 L597.29,548.71 L596.74,548.29 L596.20,547.87 L595.64,547.45 L595.09,547.03 L594.54,546.61 L593.99,546.19 L593.43,545.77 L592.88,545.36 L592.32,544.95 L591.76,544.54 L591.20,544.13 L590.65,543.72 L590.09,543.31 L589.53,542.90 L588.97,542.50 L588.41,542.09 L587.85,541.69 L587.29,541.28 L586.73,540.88 L586.17,540.47 L585.61,540.07 L585.05,539.66 L584.49,539.25 L583.94,538.85 L583.38,538.44 L582.83,538.03 L582.27,537.63 L581.72,537.22 L581.17,536.81 L580.62,536.39 L580.07,535.98 L579.52,535.57 L578.97,535.15 L578.43,534.73 L577.89,534.31 L577.35,533.89 L576.81,533.47 L576.27,533.04 L575.74,532.61 L575.21,532.18 L574.68,531.75 L574.15,531.31 L573.63,530.88 L573.11,530.43 L572.59,529.99 L572.07,529.54 L571.56,529.09 L571.05,528.63 L570.55,528.18 L570.05,527.71 L569.55,527.25 L569.05,526.78 L568.56,526.30 L568.07,525.82 L567.59,525.34 L567.11,524.86 L566.64,524.36 L566.16,523.87 L565.70,523.37 L565.23,522.87 L564.77,522.36 L564.31,521.85 L563.86,521.34 L563.41,520.82 L562.97,520.30 L562.52,519.77 L562.08,519.24 L561.65,518.71 L561.22,518.17 L560.79,517.64 L560.37,517.09 L559.94,516.55 L559.53,516.00 L559.11,515.45 L558.70,514.90 L558.29,514.34 L557.89,513.78 L557.49,513.22 L557.09,512.65 L556.70,512.08 L556.31,511.51 L555.92,510.94 L555.54,510.36 L555.15,509.78 L554.78,509.20 L554.40,508.62 L554.03,508.04 L553.66,507.45 L553.30,506.86 L552.93,506.27 L552.57,505.68 L552.22,505.08 L551.86,504.48 L551.51,503.89 L551.17,503.29 L550.82,502.68 L550.48,502.08 L550.14,501.48 L549.80,500.87 L549.47,500.26 L549.14,499.65 L548.81,499.04 L548.49,498.43 L548.17,497.82 L547.85,497.20 L547.53,496.59 L547.21,495.97 L546.90,495.36 L546.59,494.74 L546.29,494.12 L545.98,493.50 L545.68,492.88 L545.38,492.26 L545.08,491.63 L544.79,491.01 L544.50,490.39 L544.21,489.76 L543.92,489.13 L543.63,488.51 L543.35,487.88 L543.07,487.25 L542.78,486.62 L542.51,485.99 L542.23,485.36 L541.96,484.73 L541.68,484.10 L541.41,483.47 L541.14,482.83 L540.87,482.20 L540.61,481.56 L540.34,480.93 L540.08,480.29 L539.82,479.67 L539.56,479.04 L539.30,478.42 L539.04,477.79 L538.79,477.16 L538.53,476.54 L538.28,475.91 L538.02,475.28 L537.77,474.65 L537.52,474.03 L537.27,473.40 L537.02,472.77 L536.78,472.14 L536.53,471.51 L536.29,470.88 L536.04,470.25 L535.80,469.62 L535.55,468.99 L535.31,468.36 L535.07,467.72 L534.83,467.09 L534.59,466.46 L534.35,465.83 L534.11,465.20 L533.87,464.57 L533.63,463.93 L533.39,463.30 L533.15,462.67 L532.91,462.04 L532.68,461.41 L532.44,460.77 L532.20,460.14 L531.96,459.51 L531.72,458.88 L531.49,458.25 L531.25,457.62 L531.01,456.98 L530.77,456.35 L530.54,455.72 L530.30,455.09 L530.06,454.46 L529.82,453.83 L529.58,453.20 L529.34,452.57 L529.10,451.94 L528.86,451.31 L528.62,450.69 L528.38,450.06 L528.14,449.43 L527.90,448.80 L527.65,448.17 L527.41,447.54 L527.17,446.92 L526.93,446.29 L526.68,445.66 L526.44,445.03 L526.19,444.40 L525.95,443.77 L525.70,443.15 L525.46,442.52 L525.21,441.89 L524.97,441.26 L524.72,440.63 L524.47,440.00 L524.22,439.37 L523.98,438.73 L523.73,438.10 L523.48,437.47 L523.23,436.84 L522.98,436.21 L522.73,435.57 L522.48,434.94 L522.23,434.30 L521.98,433.67 L521.73,433.03 L521.47,432.39 L521.22,431.75 L520.97,431.12 L520.72,430.48 L520.46,429.84 L520.21,429.19 L519.95,428.55 L519.70,427.92 L519.44,427.29 L519.19,426.66 L518.93,426.03 L518.68,425.39 L518.42,424.76 L518.16,424.12 L517.91,423.48 L517.65,422.84 L517.39,422.20 L517.13,421.56 L516.86,420.93 L516.58,420.30 L516.28,419.69 L515.97,419.09 L515.64,418.51 L515.29,417.96 L514.91,417.42 L514.50,416.92 L514.05,416.45 L513.57,416.01 L513.06,415.62 L512.52,415.27 L511.96,414.99 L511.38,414.77 L510.80,414.62 L510.21,414.56 L509.63,414.53 L509.05,414.56 L508.49,414.70 L507.94,414.94 L507.41,415.27 L506.90,415.67 L506.40,416.12 L505.92,416.62 L505.45,417.14 L504.99,417.68 L504.55,418.22 L504.12,418.76 L503.71,419.31 L503.30,419.87 L502.91,420.44 L502.53,421.01 L502.16,421.59 L501.81,422.17 L501.46,422.76 L501.12,423.35 L500.79,423.94 L500.47,424.54 L500.16,425.15 L499.85,425.76 L499.55,426.38 L499.26,427.00 L498.98,427.62 L498.70,428.25 L498.43,428.87 L498.16,429.50 L497.90,430.13 L497.64,430.77 L497.38,431.40 L497.13,432.04 L496.88,432.67 L496.63,433.31 L496.39,433.95 L496.14,434.58 L495.90,435.22 L495.66,435.86 L495.42,436.50 L495.18,437.13 L494.94,437.77 L494.69,438.40 L494.45,439.04 L494.21,439.67 L493.96,440.30 L493.71,440.93 L493.46,441.56 L493.20,442.19 L492.94,442.81 L492.68,443.43 L492.41,444.05 L492.14,444.67 L491.86,445.29 L491.58,445.90 L491.29,446.51 L491.00,447.11 L490.70,447.72 L490.39,448.32 L490.07,448.91 L489.75,449.50 L489.42,450.09 L489.08,450.67 L488.73,451.25 L488.37,451.83 L488.00,452.40 L487.63,452.96 L487.24,453.52 L486.85,454.07 L486.44,454.62 L486.03,455.16 L485.61,455.69 L485.18,456.22 L484.74,456.74 L484.29,457.25 L483.84,457.76 L483.38,458.25 L482.90,458.74 L482.42,459.22 L481.94,459.69 L481.44,460.15 L480.94,460.60 L480.42,461.04 L479.90,461.47 L479.38,461.89 L478.84,462.30 L478.30,462.69 L477.75,463.09 L477.19,463.48 L476.63,463.86 L476.06,464.22 L475.48,464.58 L474.90,464.93 L474.31,465.27 L473.71,465.60 L473.11,465.93 L472.51,466.24 L471.90,466.55 L471.28,466.85 L470.67,467.15 L470.04,467.43 L469.42,467.72 L468.79,468.00 L468.16,468.27 L467.52,468.54 L466.88,468.80 L466.24,469.06 L465.60,469.32 L464.96,469.58 L464.31,469.83 L463.67,470.08 L463.02,470.33 L462.37,470.58 L461.72,470.83 L461.08,471.08 L460.43,471.33 L459.78,471.58 L459.13,471.83 L458.49,472.09 L457.85,472.34 L457.20,472.60 L456.56,472.86 L455.92,473.13 L455.29,473.40 L454.65,473.67 L454.02,473.95 L453.40,474.23 L452.77,474.52 L452.16,474.81 L451.54,475.11 L450.93,475.42 L450.32,475.74 L449.72,476.06 L449.13,476.39 L448.53,476.73 L447.95,477.08 L447.37,477.43 L446.80,477.80 L446.23,478.17 L445.66,478.55 L445.11,478.94 L444.55,479.33 L444.01,479.73 L443.47,480.14 L442.93,480.56 L442.40,480.99 L441.88,481.42 L441.36,481.86 L440.85,482.30 L440.34,482.76 L439.84,483.21 L439.34,483.67 L438.86,484.14 L438.37,484.61 L437.90,485.09 L437.43,485.57 L436.96,486.06 L436.50,486.56 L436.05,487.06 L435.60,487.57 L435.16,488.08 L434.73,488.60 L434.30,489.13 L433.88,489.66 L433.46,490.20 L433.06,490.74 L432.65,491.29 L432.26,491.84 L431.87,492.40 L431.48,492.97 L431.11,493.53 L430.74,494.11 L430.37,494.69 L430.02,495.27 L429.66,495.86 L429.32,496.45 L428.98,497.04 L428.65,497.64 L428.33,498.25 L428.01,498.86 L427.70,499.47 L427.40,500.09 L427.10,500.71 L426.81,501.33 L426.53,501.96 L426.25,502.59 L425.98,503.22 L425.72,503.86 Z" fill="#fdc760" stroke="#a9a9b2" stroke-width="0.8"/>
<path d="M425.72,500.59 L426.12,499.62 L426.53,498.66 L426.96,497.71 L427.40,496.76 L427.86,495.82 L428.33,494.89 L428.82,493.97 L429.32,493.06 L429.84,492.16 L430.38,491.27 L430.93,490.38 L431.49,489.51 L432.07,488.65 L432.66,487.80 L433.27,486.96 L433.89,486.14 L434.52,485.32 L435.17,484.52 L435.84,483.73 L436.51,482.95 L437.20,482.19 L437.91,481.44 L438.63,480.70 L439.36,479.98 L440.10,479.27 L440.86,478.58 L441.63,477.90 L442.42,477.24 L443.22,476.60 L444.03,475.97 L444.85,475.35 L445.69,474.76 L446.53,474.18 L447.39,473.62 L448.27,473.08 L449.15,472.56 L450.05,472.05 L450.96,471.56 L451.88,471.09 L452.81,470.64 L453.74,470.19 L454.69,469.76 L455.64,469.34 L456.60,468.93 L457.56,468.53 L458.53,468.13 L459.50,467.74 L460.47,467.35 L461.44,466.96 L462.41,466.57 L463.38,466.18 L464.35,465.79 L465.32,465.40 L466.29,465.00 L467.25,464.59 L468.20,464.18 L469.15,463.75 L470.09,463.32 L471.02,462.87 L471.94,462.41 L472.86,461.93 L473.76,461.43 L474.65,460.92 L475.53,460.39 L476.39,459.83 L477.24,459.25 L478.07,458.65 L478.89,458.03 L479.69,457.38 L480.47,456.70 L481.23,456.00 L481.98,455.28 L482.71,454.54 L483.42,453.79 L484.11,453.01 L484.78,452.21 L485.44,451.40 L486.07,450.58 L486.69,449.74 L487.28,448.88 L487.86,448.02 L488.41,447.14 L488.94,446.26 L489.46,445.36 L489.95,444.46 L490.42,443.54 L490.88,442.62 L491.33,441.70 L491.76,440.76 L492.17,439.82 L492.58,438.88 L492.97,437.93 L493.36,436.97 L493.74,436.01 L494.11,435.05 L494.48,434.09 L494.85,433.12 L495.21,432.15 L495.57,431.18 L495.93,430.21 L496.30,429.24 L496.66,428.27 L497.04,427.29 L497.41,426.32 L497.80,425.36 L498.19,424.39 L498.60,423.43 L499.02,422.48 L499.45,421.52 L499.89,420.58 L500.35,419.64 L500.83,418.71 L501.33,417.79 L501.86,416.87 L502.40,415.97 L502.97,415.08 L503.56,414.20 L504.19,413.33 L504.84,412.47 L505.52,411.63 L506.23,410.82 L506.98,410.08 L507.76,409.48 L508.58,409.05 L509.43,408.86 L510.31,408.89 L511.19,409.13 L512.05,409.53 L512.88,410.08 L513.65,410.74 L514.35,411.49 L514.97,412.31 L515.53,413.18 L516.03,414.09 L516.48,415.05 L516.90,416.03 L517.30,417.02 L517.69,418.02 L518.08,419.02 L518.46,420.01 L518.85,421.01 L519.23,422.00 L519.62,422.98 L520.00,423.97 L520.38,424.95 L520.76,425.93 L521.14,426.91 L521.52,427.89 L521.90,428.86 L522.28,429.84 L522.65,430.81 L523.03,431.78 L523.40,432.75 L523.78,433.71 L524.15,434.68 L524.52,435.65 L524.89,436.61 L525.26,437.57 L525.63,438.54 L526.00,439.50 L526.37,440.46 L526.73,441.42 L527.10,442.39 L527.46,443.35 L527.83,444.31 L528.19,445.27 L528.55,446.23 L528.91,447.19 L529.27,448.16 L529.63,449.12 L529.99,450.08 L530.35,451.05 L530.71,452.01 L531.06,452.98 L531.42,453.94 L531.78,454.91 L532.13,455.87 L532.49,456.84 L532.85,457.81 L533.20,458.77 L533.56,459.74 L533.92,460.71 L534.28,461.67 L534.64,462.64 L535.00,463.61 L535.37,464.57 L535.73,465.54 L536.10,466.50 L536.47,467.47 L536.84,468.43 L537.21,469.39 L537.58,470.36 L537.96,471.32 L538.34,472.28 L538.72,473.24 L539.10,474.20 L539.49,475.16 L539.88,476.11 L540.28,477.07 L540.67,478.03 L541.08,478.98 L541.48,479.93 L541.89,480.88 L542.30,481.83 L542.72,482.78 L543.14,483.72 L543.56,484.67 L543.99,485.61 L544.43,486.55 L544.87,487.49 L545.31,488.43 L545.76,489.36 L546.22,490.30 L546.68,491.23 L547.14,492.15 L547.61,493.08 L548.09,494.00 L548.58,494.93 L549.07,495.84 L549.56,496.76 L550.06,497.67 L550.57,498.58 L551.09,499.49 L551.61,500.39 L552.14,501.29 L552.67,502.19 L553.22,503.08 L553.77,503.96 L554.32,504.84 L554.88,505.72 L555.45,506.59 L556.03,507.46 L556.62,508.32 L557.21,509.17 L557.81,510.02 L558.41,510.86 L559.03,511.70 L559.65,512.53 L560.28,513.35 L560.92,514.17 L561.56,514.98 L562.22,515.78 L562.88,516.57 L563.55,517.35 L564.23,518.13 L564.91,518.90 L565.61,519.66 L566.31,520.41 L567.02,521.15 L567.74,521.89 L568.47,522.61 L569.21,523.32 L569.95,524.03 L570.71,524.72 L571.47,525.41 L572.24,526.09 L573.01,526.77 L573.80,527.43 L574.59,528.09 L575.38,528.74 L576.18,529.39 L576.98,530.03 L577.79,530.67 L578.61,531.30 L579.43,531.93 L580.25,532.55 L581.08,533.18 L581.90,533.79 L582.74,534.41 L583.57,535.02 L584.40,535.64 L585.24,536.25 L586.08,536.86 L586.92,537.47 L587.76,538.08 L588.60,538.69 L589.44,539.31 L590.28,539.92 L591.12,540.54 L591.96,541.16 L592.79,541.78 L593.63,542.40 L594.46,543.03 L595.29,543.66 L596.12,544.29 L596.94,544.93 L597.76,545.57 L598.58,546.21 L599.40,546.85 L600.22,547.48 L601.03,548.10 L601.84,548.72 L602.66,549.33 L603.47,549.93 L604.28,550.51 L605.09,551.08 L605.91,551.64 L606.73,552.18 L607.56,552.72 L608.40,553.25 L609.26,553.77 L610.14,554.29 L611.03,554.80 L611.95,555.32 L612.88,555.82 L613.84,556.32 L614.81,556.80 L615.79,557.27 L616.78,557.72 L617.79,558.16 L618.80,558.57 L619.82,558.95 L620.85,559.30 L621.87,559.63 L622.90,559.92 L623.93,560.17 L624.96,560.39 L625.98,560.56 L627.00,560.69 L628.01,560.77 L629.01,560.80 L630.00,560.77 L630.97,560.69 L631.94,560.55 L632.88,560.35 L633.81,560.09 L634.72,559.76 L635.60,559.36 L636.46,558.89 L637.30,558.35 L638.12,557.75 L638.91,557.09 L639.68,556.38 L640.42,555.62 L641.14,554.82 L641.84,553.99 L642.51,553.12 L643.15,552.23 L643.78,551.32 L644.38,550.40 L644.95,549.47 L645.50,548.54 L646.03,547.61 L646.53,546.68 L647.01,545.76 L647.48,544.83 L647.92,543.92 L648.36,543.00 L648.78,542.08 L649.19,541.16 L649.60,540.24 L650.00,539.32 L650.41,538.40 L650.81,537.47 L651.21,536.53 L651.61,535.60 L652.01,534.66 L652.41,533.72 L652.82,532.78 L653.23,531.83 L653.64,530.89 L654.05,529.94 L654.47,528.99 L654.89,528.05 L655.32,527.10 L655.75,526.16 L656.19,525.22 L656.63,524.27 L657.08,523.34 L657.54,522.40 L658.00,521.46 L658.47,520.53 L658.95,519.61 L659.44,518.68 L659.93,517.77 L660.44,516.85 L660.95,515.94 L661.48,515.04 L662.01,514.15 L662.56,513.26 L663.12,512.37 L663.69,511.50 L664.27,510.63 L664.87,509.77 L665.48,508.92 L666.11,508.09 L666.76,507.28 L667.43,506.49 L668.13,505.74 L668.86,505.03 L669.62,504.37 L670.41,503.75 L671.25,503.20 L672.13,502.70 L673.05,502.28 L674.02,501.93 L675.04,501.66 L676.12,501.47 L677.25,501.38" fill="none" stroke="#000" stroke-width="2.3" stroke-linejoin="round" stroke-linecap="round"/>
</g>
<rect x="72.5" y="10.5" width="253.90" height="249.30" fill="none" stroke="#000" stroke-width="1.4"/>
<rect x="425.0" y="10.5" width="254.00" height="249.30" fill="none" stroke="#000" stroke-width="1.4"/>
<rect x="72.5" y="352.5" width="253.90" height="249.30" fill="none" stroke="#000" stroke-width="1.4"/>
<rect x="425.0" y="352.5" width="254.00" height="249.30" fill="none" stroke="#000" stroke-width="1.4"/>
<rect x="63.44" y="272.93" width="9.20" height="1.33"/><path transform="translate(73.58,278.00) scale(0.0190,-0.0190)" d="M259 505H102V568Q204 581 235 604Q266 627 289 709H347V0H259Z"/>
<rect x="117.40" y="272.93" width="9.20" height="1.33"/><text x="127.55" y="278.00" font-size="19">0.5</text>
<text x="193.47" y="278.00" font-size="19">0</text>
<text x="249.05" y="278.00" font-size="19">0.5</text>
<path transform="translate(321.43,278.00) scale(0.0190,-0.0190)" d="M259 505H102V568Q204 581 235 604Q266 627 289 709H347V0H259Z"/>
<text x="58.28" y="267.00" font-size="19">0</text>
<text x="37.14" y="190.00" font-size="19">200</text>
<text x="37.14" y="113.00" font-size="19">400</text>
<text x="37.14" y="37.00" font-size="19">600</text>
<rect x="415.94" y="272.93" width="9.20" height="1.33"/><path transform="translate(426.08,278.00) scale(0.0190,-0.0190)" d="M259 505H102V568Q204 581 235 604Q266 627 289 709H347V0H259Z"/>
<rect x="469.93" y="272.93" width="9.20" height="1.33"/><text x="480.07" y="278.00" font-size="19">0.5</text>
<text x="546.02" y="278.00" font-size="19">0</text>
<text x="601.62" y="278.00" font-size="19">0.5</text>
<path transform="translate(674.03,278.00) scale(0.0190,-0.0190)" d="M259 505H102V568Q204 581 235 604Q266 627 289 709H347V0H259Z"/>
<text x="410.78" y="225.00" font-size="19">0</text>
<text x="394.99" y="120.00" font-size="19">0.5</text>
<path transform="translate(414.01,17.00) scale(0.0190,-0.0190)" d="M259 505H102V568Q204 581 235 604Q266 627 289 709H347V0H259Z"/>
<rect x="63.44" y="614.93" width="9.20" height="1.33"/><path transform="translate(73.58,620.00) scale(0.0190,-0.0190)" d="M259 505H102V568Q204 581 235 604Q266 627 289 709H347V0H259Z"/>
<rect x="117.40" y="614.93" width="9.20" height="1.33"/><text x="127.55" y="620.00" font-size="19">0.5</text>
<text x="193.47" y="620.00" font-size="19">0</text>
<text x="249.05" y="620.00" font-size="19">0.5</text>
<path transform="translate(321.43,620.00) scale(0.0190,-0.0190)" d="M259 505H102V568Q204 581 235 604Q266 627 289 709H347V0H259Z"/>
<rect x="32.10" y="603.93" width="9.20" height="1.33"/><text x="42.24" y="609.00" font-size="19">0.4</text>
<rect x="32.50" y="540.93" width="9.20" height="1.33"/><text x="42.64" y="546.00" font-size="19">0.2</text>
<text x="58.28" y="484.00" font-size="19">0</text>
<text x="42.64" y="421.00" font-size="19">0.2</text>
<text x="42.24" y="359.00" font-size="19">0.4</text>
<rect x="415.94" y="614.93" width="9.20" height="1.33"/><path transform="translate(426.08,620.00) scale(0.0190,-0.0190)" d="M259 505H102V568Q204 581 235 604Q266 627 289 709H347V0H259Z"/>
<rect x="469.93" y="614.93" width="9.20" height="1.33"/><text x="480.07" y="620.00" font-size="19">0.5</text>
<text x="546.02" y="620.00" font-size="19">0</text>
<text x="601.62" y="620.00" font-size="19">0.5</text>
<path transform="translate(674.03,620.00) scale(0.0190,-0.0190)" d="M259 505H102V568Q204 581 235 604Q266 627 289 709H347V0H259Z"/>
<rect x="384.60" y="603.93" width="9.20" height="1.33"/><text x="394.74" y="609.00" font-size="19">0.4</text>
<rect x="385.00" y="553.93" width="9.20" height="1.33"/><text x="395.14" y="559.00" font-size="19">0.2</text>
<text x="410.78" y="508.00" font-size="19">0</text>
<text x="395.14" y="459.00" font-size="19">0.2</text>
<text x="394.74" y="409.00" font-size="19">0.4</text>
<text x="395.02" y="359.00" font-size="19">0.6</text>
<text x="247.10" y="308.10" font-size="21">cosθ</text>
<text x="290.40" y="300.10" font-size="14.5">K</text>
<text x="300.70" y="299.50" font-size="12.5">*</text>
<text x="305.10" y="293.50" font-size="11">-</text>
<text x="309.10" y="300.10" font-size="14.5">K</text>
<text x="318.30" y="293.10" font-size="11">+</text>
<text x="290.40" y="316.10" font-size="14.5">K</text>
<text x="300.70" y="314.40" font-size="12.5">*</text>
<text x="305.10" y="307.30" font-size="11">-</text>
<text x="599.70" y="308.10" font-size="21">cosθ</text>
<text x="643.00" y="300.10" font-size="14.5">K</text>
<text x="653.30" y="299.50" font-size="12.5">*</text>
<text x="657.70" y="293.50" font-size="11">-</text>
<text x="661.70" y="300.10" font-size="14.5">K</text>
<text x="670.90" y="293.10" font-size="11">+</text>
<text x="643.00" y="316.10" font-size="14.5">K</text>
<text x="653.30" y="314.40" font-size="12.5">*</text>
<text x="657.70" y="307.30" font-size="11">-</text>
<text x="247.10" y="650.10" font-size="21">cosθ</text>
<text x="290.40" y="642.10" font-size="14.5">K</text>
<text x="300.70" y="641.50" font-size="12.5">*</text>
<text x="305.10" y="635.50" font-size="11">-</text>
<text x="309.10" y="642.10" font-size="14.5">K</text>
<text x="318.30" y="635.10" font-size="11">+</text>
<text x="290.40" y="658.10" font-size="14.5">K</text>
<text x="300.70" y="656.40" font-size="12.5">*</text>
<text x="305.10" y="649.30" font-size="11">-</text>
<text x="599.70" y="650.10" font-size="21">cosθ</text>
<text x="643.00" y="642.10" font-size="14.5">K</text>
<text x="653.30" y="641.50" font-size="12.5">*</text>
<text x="657.70" y="635.50" font-size="11">-</text>
<text x="661.70" y="642.10" font-size="14.5">K</text>
<text x="670.90" y="635.10" font-size="11">+</text>
<text x="643.00" y="658.10" font-size="14.5">K</text>
<text x="653.30" y="656.40" font-size="12.5">*</text>
<text x="657.70" y="649.30" font-size="11">-</text>
<text transform="translate(19.6,9.6) rotate(-90)" text-anchor="end" font-size="20.8" xml:space="preserve">dσ/dcos(θ)  [μb]</text>
<text transform="translate(372.2,36.7) rotate(-90)" font-size="20.5">ρ</text>
<text transform="translate(382.5,26.0) rotate(-90)" font-size="14.3">00</text>
<text transform="translate(21.0,378.8) rotate(-90)" font-size="20.5">ρ</text>
<g transform="translate(32.6,367.7) rotate(-90)"><path transform="translate(0.00,0.00) scale(0.0143,-0.0143)" d="M259 505H102V568Q204 581 235 604Q266 627 289 709H347V0H259Z"/><text x="7.95" y="0.00" font-size="14.3">0</text></g>
<path d="M5.5,383.6 L8.0,380.6 L11.0,384.5 M11,383.8 C13,383 17,381.8 19.4,381.1 L19.6,382.2 M12.7,390.6 C12,392.2 10.5,394.2 8.9,394.4 C7,394.6 5.4,393.4 5.3,391.5 C5.2,389.5 5.8,387.5 7.2,386.8 C9,386.1 12.5,386.3 14.8,387.2 C16.6,387.9 18.8,389.2 19.4,390.6 L18.8,392.6" fill="none" stroke="#000" stroke-width="1.8" stroke-linecap="round" stroke-linejoin="round"/>
<text transform="translate(371.7,380.2) rotate(-90)" font-size="20.5">ρ</text>
<g transform="translate(383.6,369.1) rotate(-90)"><path transform="translate(0.00,0.00) scale(0.0143,-0.0143)" d="M259 505H102V568Q204 581 235 604Q266 627 289 709H347V0H259Z"/><text x="7.95" y="0.00" font-size="14.3">-</text><path transform="translate(12.71,0.00) scale(0.0143,-0.0143)" d="M259 505H102V568Q204 581 235 604Q266 627 289 709H347V0H259Z"/></g>
<text transform="translate(89.00,38.70) scale(0.95,1)" style="font-family:'Liberation Serif', serif" font-weight="bold" font-size="29.5">a</text>
<text transform="translate(442.46,42.90) scale(0.95,1)" style="font-family:'Liberation Serif', serif" font-weight="bold" font-size="28">b</text>
<text transform="translate(88.94,380.50) scale(0.95,1)" style="font-family:'Liberation Serif', serif" font-weight="bold" font-size="29.5">c</text>
<text transform="translate(440.92,384.70) scale(0.95,1)" style="font-family:'Liberation Serif', serif" font-weight="bold" font-size="28">d</text>
</svg></body></html>
